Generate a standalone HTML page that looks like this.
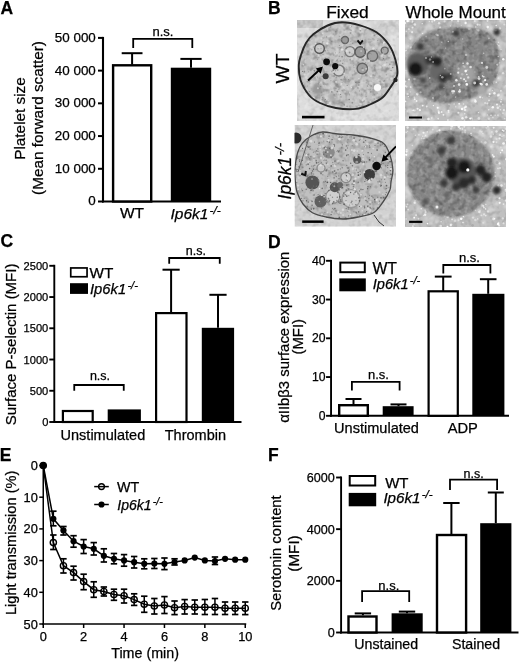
<!DOCTYPE html>
<html><head><meta charset="utf-8"><style>
html,body{margin:0;padding:0;background:#fff;}
svg{display:block;filter:grayscale(1) blur(0.3px);}
text{font-family:"Liberation Sans", sans-serif;fill:#000;stroke:#000;stroke-width:0.25px;}
</style></head><body>
<svg width="520" height="664" viewBox="0 0 520 664">
<rect width="520" height="664" fill="#fff"/>
<text x="0.6" y="14" font-size="17.5" text-anchor="start" font-weight="bold" font-style="normal" >A</text>
<line x1="103" y1="36.9" x2="103" y2="202.5" stroke="#000" stroke-width="2.1"/>
<line x1="98" y1="201.5" x2="103" y2="201.5" stroke="#000" stroke-width="2"/>
<text x="95.8" y="205.4" font-size="13.4" text-anchor="end" font-weight="normal" font-style="normal" >0</text>
<line x1="98" y1="168.78" x2="103" y2="168.78" stroke="#000" stroke-width="2"/>
<text x="95.8" y="172.68" font-size="13.4" text-anchor="end" font-weight="normal" font-style="normal" >10 000</text>
<line x1="98" y1="136.06" x2="103" y2="136.06" stroke="#000" stroke-width="2"/>
<text x="95.8" y="139.96" font-size="13.4" text-anchor="end" font-weight="normal" font-style="normal" >20 000</text>
<line x1="98" y1="103.34" x2="103" y2="103.34" stroke="#000" stroke-width="2"/>
<text x="95.8" y="107.24000000000001" font-size="13.4" text-anchor="end" font-weight="normal" font-style="normal" >30 000</text>
<line x1="98" y1="70.62" x2="103" y2="70.62" stroke="#000" stroke-width="2"/>
<text x="95.8" y="74.52000000000001" font-size="13.4" text-anchor="end" font-weight="normal" font-style="normal" >40 000</text>
<line x1="98" y1="37.900000000000006" x2="103" y2="37.900000000000006" stroke="#000" stroke-width="2"/>
<text x="95.8" y="41.800000000000004" font-size="13.4" text-anchor="end" font-weight="normal" font-style="normal" >50 000</text>
<line x1="102" y1="201.5" x2="221" y2="201.5" stroke="#000" stroke-width="2"/>
<rect x="113.10000000000001" y="65.3" width="38.1" height="136.20000000000002" fill="#fff" stroke="#000" stroke-width="2.4"/>
<rect x="170.8" y="67.7" width="40.39999999999998" height="133.8" fill="#000"/>
<line x1="132.1" y1="53.2" x2="132.1" y2="64.7" stroke="#000" stroke-width="2"/>
<line x1="121.69999999999999" y1="53.2" x2="142.5" y2="53.2" stroke="#000" stroke-width="2"/>
<line x1="191" y1="58.9" x2="191" y2="67.7" stroke="#000" stroke-width="2"/>
<line x1="180.4" y1="58.9" x2="201.6" y2="58.9" stroke="#000" stroke-width="2"/>
<polyline points="133.2,48 133.2,38.85 192.3,38.85 192.3,48" fill="none" stroke="#000" stroke-width="1.8"/>
<text x="163" y="35.8" font-size="13" text-anchor="middle" font-weight="normal" font-style="normal" >n.s.</text>
<text x="132" y="218" font-size="15.5" text-anchor="middle" font-weight="normal" font-style="normal" >WT</text>
<text x="170.5" y="219.3" font-size="15.5" text-anchor="start" font-weight="normal" font-style="normal" ><tspan font-style="italic">Ip6k1</tspan><tspan font-style="italic" font-size="11.8" dy="-5.7" dx="1.2">-/-</tspan></text>
<text x="0" y="0" font-size="15.3" text-anchor="middle" transform="translate(25.3,118.5) rotate(-90)" >Platelet size</text>
<text x="0" y="0" font-size="15.3" text-anchor="middle" transform="translate(42.5,118) rotate(-90)" >(Mean forward scatter)</text>
<text x="268" y="14" font-size="17.5" text-anchor="start" font-weight="bold" font-style="normal" >B</text>
<text x="347.5" y="18" font-size="17.4" text-anchor="middle" font-weight="normal" font-style="normal" >Fixed</text>
<text x="455.7" y="18" font-size="17" text-anchor="middle" font-weight="normal" font-style="normal" >Whole Mount</text>
<text x="0" y="0" font-size="18.2" text-anchor="middle" transform="translate(289.2,68.5) rotate(-90)"  textLength="29.8" lengthAdjust="spacingAndGlyphs">WT</text>
<text x="0" y="0" font-size="17.5" text-anchor="middle" transform="translate(290.8,171.2) rotate(-90)"><tspan font-style="italic">Ip6k1</tspan><tspan font-style="italic" font-size="13.3" dy="-6.5" dx="1.2">-/-</tspan></text>
<defs><filter id="nDarkFine" x="0" y="0" width="100%" height="100%" color-interpolation-filters="sRGB">
 <feTurbulence type="fractalNoise" baseFrequency="0.5" numOctaves="1" seed="3"/>
 <feColorMatrix type="matrix" values="0 0 0 0 0  0 0 0 0 0  0 0 0 0 0  3.2 0 0 0 -1.55"/><feGaussianBlur stdDeviation="0.45"/>
</filter>
<filter id="nLightFine" x="0" y="0" width="100%" height="100%" color-interpolation-filters="sRGB">
 <feTurbulence type="fractalNoise" baseFrequency="0.45" numOctaves="1" seed="9"/>
 <feColorMatrix type="matrix" values="0 0 0 0 1  0 0 0 0 1  0 0 0 0 1  3.2 0 0 0 -1.6"/><feGaussianBlur stdDeviation="0.45"/>
</filter>
<filter id="nDarkMid" x="0" y="0" width="100%" height="100%" color-interpolation-filters="sRGB">
 <feTurbulence type="fractalNoise" baseFrequency="0.18" numOctaves="2" seed="5"/>
 <feColorMatrix type="matrix" values="0 0 0 0 0  0 0 0 0 0  0 0 0 0 0  2.5 0 0 0 -1.15"/>
</filter>
<filter id="nLightMid" x="0" y="0" width="100%" height="100%" color-interpolation-filters="sRGB">
 <feTurbulence type="fractalNoise" baseFrequency="0.2" numOctaves="2" seed="13"/>
 <feColorMatrix type="matrix" values="0 0 0 0 1  0 0 0 0 1  0 0 0 0 1  2.5 0 0 0 -1.15"/>
</filter>
<filter id="nWhiteSpeck" x="0" y="0" width="100%" height="100%" color-interpolation-filters="sRGB">
 <feTurbulence type="fractalNoise" baseFrequency="0.32" numOctaves="1" seed="21"/>
 <feColorMatrix type="matrix" values="0 0 0 0 1  0 0 0 0 1  0 0 0 0 1  5 0 0 0 -2.75"/><feGaussianBlur stdDeviation="0.4"/>
</filter>
<filter id="nGraySpeck" x="0" y="0" width="100%" height="100%" color-interpolation-filters="sRGB">
 <feTurbulence type="fractalNoise" baseFrequency="0.25" numOctaves="2" seed="17"/>
 <feColorMatrix type="matrix" values="0 0 0 0 0  0 0 0 0 0  0 0 0 0 0  3 0 0 0 -1.45"/><feGaussianBlur stdDeviation="0.4"/>
</filter>
<filter id="bl1"><feGaussianBlur stdDeviation="1"/></filter>
<filter id="bl15"><feGaussianBlur stdDeviation="1.5"/></filter>
<filter id="bl2"><feGaussianBlur stdDeviation="2"/></filter>
<filter id="bl3"><feGaussianBlur stdDeviation="3"/></filter>
<filter id="bl05"><feGaussianBlur stdDeviation="0.6"/></filter>
</defs>
<clipPath id="ci1"><rect x="297" y="20" width="102" height="101"/></clipPath>
<clipPath id="cc1"><path d="M341.9,22.3 C347.3,22.3 354.2,23.6 360.0,25.3 C365.8,27.0 371.7,29.0 376.5,32.3 C381.3,35.6 385.8,40.4 389.0,45.0 C392.2,49.6 394.1,55.0 395.5,60.0 C396.9,65.0 398.1,70.3 397.2,75.0 C396.3,79.7 392.4,84.2 390.0,88.0 C387.6,91.8 385.9,94.8 382.6,97.5 C379.3,100.2 374.4,102.6 370.0,104.5 C365.6,106.4 361.8,108.3 356.1,108.9 C350.4,109.5 341.8,109.0 335.8,108.0 C329.8,107.0 324.4,105.1 320.0,103.0 C315.6,100.9 312.6,99.3 309.3,95.5 C306.1,91.7 302.2,85.1 300.5,80.0 C298.8,74.9 298.7,69.2 298.8,65.0 C298.9,60.8 299.9,58.4 301.1,54.7 C302.3,51.0 304.0,46.4 306.0,43.0 C308.0,39.6 309.7,37.2 313.3,34.3 C316.9,31.4 322.8,27.5 327.6,25.5 C332.4,23.5 336.5,22.3 341.9,22.3 Z"/></clipPath>
<g clip-path="url(#ci1)">
<rect x="297" y="20" width="102" height="101" fill="#dcdcdc"/>
<rect x="297" y="20" width="26" height="8" fill="#c2c2c2"/>
<rect x="372" y="20" width="27" height="14" fill="#d0d0d0" filter="url(#bl2)"/>
<rect x="297" y="20" width="102" height="101" filter="url(#nDarkMid)" opacity="0.12"/>
<rect x="297" y="20" width="102" height="101" filter="url(#nLightMid)" opacity="0.3"/>
<path d="M341.9,22.3 C347.3,22.3 354.2,23.6 360.0,25.3 C365.8,27.0 371.7,29.0 376.5,32.3 C381.3,35.6 385.8,40.4 389.0,45.0 C392.2,49.6 394.1,55.0 395.5,60.0 C396.9,65.0 398.1,70.3 397.2,75.0 C396.3,79.7 392.4,84.2 390.0,88.0 C387.6,91.8 385.9,94.8 382.6,97.5 C379.3,100.2 374.4,102.6 370.0,104.5 C365.6,106.4 361.8,108.3 356.1,108.9 C350.4,109.5 341.8,109.0 335.8,108.0 C329.8,107.0 324.4,105.1 320.0,103.0 C315.6,100.9 312.6,99.3 309.3,95.5 C306.1,91.7 302.2,85.1 300.5,80.0 C298.8,74.9 298.7,69.2 298.8,65.0 C298.9,60.8 299.9,58.4 301.1,54.7 C302.3,51.0 304.0,46.4 306.0,43.0 C308.0,39.6 309.7,37.2 313.3,34.3 C316.9,31.4 322.8,27.5 327.6,25.5 C332.4,23.5 336.5,22.3 341.9,22.3 Z" fill="#c2c2c2"/>
<g clip-path="url(#cc1)">
<rect x="297" y="20" width="102" height="101" filter="url(#nDarkMid)" opacity="0.3"/>
<rect x="297" y="20" width="102" height="101" filter="url(#nLightMid)" opacity="0.35"/>
<circle cx="319.5" cy="48.6" r="4.8" fill="#c8c8c8" stroke="#555" stroke-width="1.4" filter="url(#bl05)"/>
<circle cx="350" cy="51.6" r="5" fill="#cdcdcd" stroke="#7a7a7a" stroke-width="1.4" filter="url(#bl05)"/>
<circle cx="360.2" cy="52" r="5.2" fill="#9a9a9a" stroke="#5a5a5a" stroke-width="1.4" filter="url(#bl05)"/>
<circle cx="372.5" cy="56" r="5.2" fill="#a2a2a2" stroke="#666" stroke-width="1.4" filter="url(#bl05)"/>
<circle cx="362.3" cy="68.5" r="5.2" fill="#9e9e9e" stroke="#666" stroke-width="1.4" filter="url(#bl05)"/>
<circle cx="338.8" cy="70.5" r="5.5" fill="#cfcfcf" stroke="#7a7a7a" stroke-width="1.4" filter="url(#bl05)"/>
<circle cx="384.7" cy="50.6" r="3.5" fill="#a8a8a8" stroke="#666" stroke-width="1.4" filter="url(#bl05)"/>
<circle cx="345" cy="40" r="3.5" fill="#9a9a9a" stroke="#666" stroke-width="1.4" filter="url(#bl05)"/>
<circle cx="317.4" cy="89.3" r="5.5" fill="#999" filter="url(#bl15)"/>
<circle cx="333" cy="97" r="4" fill="#aaa" filter="url(#bl15)"/>
<g filter="url(#bl05)"><circle cx="310.7" cy="105.6" r="0.81" fill="#888" fill-opacity="0.46"/><circle cx="374.6" cy="67.7" r="0.65" fill="#777" fill-opacity="0.45"/><circle cx="299.9" cy="104.4" r="0.67" fill="#777" fill-opacity="0.75"/><circle cx="324.2" cy="101.0" r="0.74" fill="#777" fill-opacity="0.85"/><circle cx="300.1" cy="22.6" r="0.72" fill="#888" fill-opacity="0.74"/><circle cx="395.8" cy="93.3" r="0.71" fill="#888" fill-opacity="0.87"/><circle cx="353.4" cy="54.9" r="0.77" fill="#888" fill-opacity="0.88"/><circle cx="391.5" cy="62.0" r="0.87" fill="#999" fill-opacity="0.45"/><circle cx="361.2" cy="93.1" r="0.62" fill="#999" fill-opacity="0.57"/><circle cx="370.6" cy="91.8" r="0.87" fill="#888" fill-opacity="0.65"/><circle cx="389.8" cy="39.2" r="0.61" fill="#888" fill-opacity="0.82"/><circle cx="348.5" cy="79.5" r="0.51" fill="#777" fill-opacity="0.77"/><circle cx="338.2" cy="87.1" r="0.65" fill="#999" fill-opacity="0.79"/><circle cx="372.3" cy="28.7" r="0.77" fill="#777" fill-opacity="0.79"/><circle cx="350.1" cy="59.7" r="0.70" fill="#777" fill-opacity="0.63"/><circle cx="328.5" cy="105.7" r="0.75" fill="#999" fill-opacity="0.60"/><circle cx="314.4" cy="70.7" r="0.89" fill="#777" fill-opacity="0.67"/><circle cx="384.7" cy="43.4" r="0.71" fill="#999" fill-opacity="0.58"/><circle cx="389.8" cy="86.6" r="0.74" fill="#999" fill-opacity="0.40"/><circle cx="376.9" cy="102.9" r="0.85" fill="#999" fill-opacity="0.66"/><circle cx="310.2" cy="98.5" r="0.58" fill="#777" fill-opacity="0.64"/><circle cx="334.2" cy="76.0" r="0.88" fill="#888" fill-opacity="0.64"/><circle cx="333.4" cy="55.0" r="0.72" fill="#999" fill-opacity="0.79"/><circle cx="330.8" cy="80.6" r="0.82" fill="#999" fill-opacity="0.49"/><circle cx="356.6" cy="107.0" r="0.82" fill="#888" fill-opacity="0.42"/><circle cx="393.2" cy="27.1" r="0.85" fill="#888" fill-opacity="0.41"/><circle cx="374.1" cy="45.2" r="0.54" fill="#999" fill-opacity="0.49"/><circle cx="326.6" cy="36.9" r="0.60" fill="#777" fill-opacity="0.73"/><circle cx="363.1" cy="49.7" r="0.78" fill="#888" fill-opacity="0.64"/><circle cx="299.4" cy="59.0" r="0.67" fill="#777" fill-opacity="0.53"/><circle cx="322.9" cy="93.7" r="0.89" fill="#999" fill-opacity="0.62"/><circle cx="396.5" cy="42.8" r="0.66" fill="#777" fill-opacity="0.76"/><circle cx="313.3" cy="91.2" r="0.77" fill="#999" fill-opacity="0.82"/><circle cx="396.7" cy="83.7" r="0.78" fill="#888" fill-opacity="0.51"/><circle cx="363.1" cy="59.9" r="0.73" fill="#888" fill-opacity="0.73"/><circle cx="340.5" cy="94.5" r="0.55" fill="#777" fill-opacity="0.84"/><circle cx="328.3" cy="106.7" r="0.62" fill="#888" fill-opacity="0.77"/><circle cx="339.4" cy="45.5" r="0.50" fill="#777" fill-opacity="0.70"/><circle cx="319.2" cy="111.0" r="0.68" fill="#999" fill-opacity="0.71"/><circle cx="300.8" cy="40.2" r="0.54" fill="#999" fill-opacity="0.74"/><circle cx="341.2" cy="39.6" r="0.54" fill="#999" fill-opacity="0.60"/><circle cx="348.4" cy="21.7" r="0.74" fill="#888" fill-opacity="0.85"/><circle cx="298.8" cy="40.3" r="0.63" fill="#999" fill-opacity="0.79"/><circle cx="331.6" cy="41.5" r="0.77" fill="#888" fill-opacity="0.87"/><circle cx="332.1" cy="109.1" r="0.77" fill="#888" fill-opacity="0.78"/><circle cx="351.3" cy="26.6" r="0.52" fill="#777" fill-opacity="0.48"/><circle cx="389.9" cy="41.5" r="0.80" fill="#999" fill-opacity="0.65"/><circle cx="323.0" cy="54.2" r="0.55" fill="#777" fill-opacity="0.83"/><circle cx="358.6" cy="116.4" r="0.85" fill="#777" fill-opacity="0.69"/><circle cx="375.6" cy="52.4" r="0.66" fill="#888" fill-opacity="0.83"/><circle cx="377.4" cy="103.7" r="0.64" fill="#999" fill-opacity="0.69"/><circle cx="391.5" cy="27.7" r="0.72" fill="#999" fill-opacity="0.44"/><circle cx="324.2" cy="110.0" r="0.73" fill="#777" fill-opacity="0.63"/><circle cx="325.3" cy="99.5" r="0.83" fill="#777" fill-opacity="0.71"/><circle cx="298.5" cy="61.8" r="0.83" fill="#777" fill-opacity="0.49"/><circle cx="377.1" cy="79.3" r="0.56" fill="#888" fill-opacity="0.48"/><circle cx="321.6" cy="95.1" r="0.54" fill="#888" fill-opacity="0.80"/><circle cx="352.4" cy="102.7" r="0.72" fill="#999" fill-opacity="0.64"/><circle cx="307.2" cy="85.9" r="0.52" fill="#777" fill-opacity="0.79"/><circle cx="391.4" cy="93.4" r="0.63" fill="#888" fill-opacity="0.56"/><circle cx="303.4" cy="112.3" r="0.89" fill="#888" fill-opacity="0.46"/><circle cx="318.9" cy="82.4" r="0.89" fill="#999" fill-opacity="0.83"/><circle cx="344.8" cy="55.9" r="0.57" fill="#777" fill-opacity="0.55"/><circle cx="322.1" cy="28.2" r="0.61" fill="#888" fill-opacity="0.45"/><circle cx="355.6" cy="54.2" r="0.59" fill="#888" fill-opacity="0.42"/><circle cx="316.1" cy="100.1" r="0.73" fill="#888" fill-opacity="0.52"/><circle cx="307.3" cy="81.8" r="0.82" fill="#777" fill-opacity="0.52"/><circle cx="299.1" cy="44.6" r="0.53" fill="#999" fill-opacity="0.83"/><circle cx="371.4" cy="22.2" r="0.50" fill="#888" fill-opacity="0.65"/><circle cx="385.0" cy="35.6" r="0.70" fill="#888" fill-opacity="0.44"/><circle cx="393.8" cy="37.5" r="0.81" fill="#777" fill-opacity="0.81"/><circle cx="329.6" cy="30.8" r="0.71" fill="#999" fill-opacity="0.55"/><circle cx="388.2" cy="34.3" r="0.86" fill="#777" fill-opacity="0.79"/><circle cx="380.7" cy="83.0" r="0.77" fill="#999" fill-opacity="0.82"/><circle cx="373.1" cy="89.6" r="0.57" fill="#888" fill-opacity="0.67"/><circle cx="302.0" cy="107.1" r="0.60" fill="#777" fill-opacity="0.74"/><circle cx="342.6" cy="63.4" r="0.60" fill="#888" fill-opacity="0.83"/><circle cx="343.2" cy="60.0" r="0.64" fill="#888" fill-opacity="0.64"/><circle cx="377.9" cy="114.2" r="0.89" fill="#777" fill-opacity="0.43"/><circle cx="333.2" cy="34.0" r="0.55" fill="#888" fill-opacity="0.89"/><circle cx="325.2" cy="77.0" r="0.57" fill="#777" fill-opacity="0.52"/><circle cx="297.8" cy="73.4" r="0.70" fill="#999" fill-opacity="0.86"/><circle cx="391.9" cy="84.6" r="0.59" fill="#888" fill-opacity="0.65"/><circle cx="345.8" cy="42.7" r="0.66" fill="#999" fill-opacity="0.71"/><circle cx="371.3" cy="86.0" r="0.89" fill="#777" fill-opacity="0.42"/><circle cx="304.3" cy="71.7" r="0.85" fill="#777" fill-opacity="0.66"/><circle cx="377.8" cy="40.6" r="0.62" fill="#888" fill-opacity="0.82"/><circle cx="334.9" cy="90.8" r="0.79" fill="#999" fill-opacity="0.44"/><circle cx="309.6" cy="81.2" r="0.71" fill="#888" fill-opacity="0.49"/><circle cx="322.6" cy="42.0" r="0.73" fill="#777" fill-opacity="0.65"/><circle cx="337.1" cy="84.3" r="0.65" fill="#777" fill-opacity="0.67"/><circle cx="398.4" cy="72.9" r="0.54" fill="#888" fill-opacity="0.71"/><circle cx="324.3" cy="112.2" r="0.88" fill="#777" fill-opacity="0.88"/><circle cx="359.9" cy="117.6" r="0.77" fill="#777" fill-opacity="0.62"/><circle cx="391.3" cy="118.1" r="0.65" fill="#888" fill-opacity="0.60"/><circle cx="389.8" cy="64.3" r="0.75" fill="#888" fill-opacity="0.88"/><circle cx="309.2" cy="80.7" r="0.66" fill="#777" fill-opacity="0.73"/><circle cx="325.3" cy="58.3" r="0.72" fill="#777" fill-opacity="0.66"/><circle cx="356.1" cy="23.1" r="0.89" fill="#777" fill-opacity="0.82"/><circle cx="318.1" cy="48.8" r="0.72" fill="#888" fill-opacity="0.56"/><circle cx="374.3" cy="104.1" r="0.68" fill="#777" fill-opacity="0.67"/><circle cx="347.1" cy="106.4" r="0.81" fill="#999" fill-opacity="0.84"/><circle cx="317.9" cy="101.9" r="0.86" fill="#777" fill-opacity="0.46"/><circle cx="373.2" cy="75.1" r="0.89" fill="#999" fill-opacity="0.89"/><circle cx="310.9" cy="70.5" r="0.73" fill="#888" fill-opacity="0.62"/><circle cx="366.1" cy="96.6" r="0.63" fill="#777" fill-opacity="0.62"/><circle cx="342.9" cy="50.8" r="0.66" fill="#999" fill-opacity="0.74"/><circle cx="347.2" cy="85.4" r="0.65" fill="#777" fill-opacity="0.68"/><circle cx="398.5" cy="84.2" r="0.79" fill="#999" fill-opacity="0.81"/><circle cx="349.1" cy="119.7" r="0.68" fill="#999" fill-opacity="0.60"/><circle cx="373.0" cy="119.7" r="0.62" fill="#777" fill-opacity="0.62"/><circle cx="365.2" cy="39.9" r="0.71" fill="#999" fill-opacity="0.59"/><circle cx="340.4" cy="60.9" r="0.84" fill="#999" fill-opacity="0.89"/><circle cx="368.3" cy="117.7" r="0.53" fill="#999" fill-opacity="0.52"/><circle cx="395.6" cy="49.4" r="0.51" fill="#999" fill-opacity="0.71"/><circle cx="361.6" cy="114.6" r="0.81" fill="#777" fill-opacity="0.78"/><circle cx="380.2" cy="81.2" r="0.64" fill="#888" fill-opacity="0.80"/><circle cx="338.9" cy="89.2" r="0.62" fill="#888" fill-opacity="0.82"/><circle cx="346.4" cy="67.2" r="0.52" fill="#999" fill-opacity="0.45"/><circle cx="357.2" cy="27.0" r="0.53" fill="#888" fill-opacity="0.41"/><circle cx="348.7" cy="115.6" r="0.78" fill="#888" fill-opacity="0.72"/><circle cx="325.1" cy="50.7" r="0.71" fill="#777" fill-opacity="0.84"/><circle cx="324.4" cy="27.6" r="0.83" fill="#999" fill-opacity="0.73"/><circle cx="344.7" cy="76.3" r="0.52" fill="#888" fill-opacity="0.73"/><circle cx="369.8" cy="102.3" r="0.61" fill="#999" fill-opacity="0.77"/><circle cx="337.0" cy="60.4" r="0.69" fill="#888" fill-opacity="0.83"/><circle cx="330.6" cy="42.5" r="0.89" fill="#999" fill-opacity="0.52"/><circle cx="364.4" cy="106.0" r="0.85" fill="#888" fill-opacity="0.56"/><circle cx="341.0" cy="96.9" r="0.81" fill="#777" fill-opacity="0.44"/><circle cx="371.7" cy="108.0" r="0.73" fill="#999" fill-opacity="0.86"/><circle cx="371.3" cy="81.2" r="0.60" fill="#999" fill-opacity="0.48"/><circle cx="376.4" cy="110.3" r="0.68" fill="#888" fill-opacity="0.78"/><circle cx="321.5" cy="92.5" r="0.79" fill="#888" fill-opacity="0.43"/><circle cx="320.2" cy="52.5" r="0.87" fill="#777" fill-opacity="0.42"/><circle cx="379.6" cy="22.4" r="0.80" fill="#999" fill-opacity="0.42"/><circle cx="368.8" cy="102.3" r="0.89" fill="#999" fill-opacity="0.62"/><circle cx="364.6" cy="47.7" r="0.75" fill="#777" fill-opacity="0.45"/><circle cx="337.8" cy="70.0" r="0.65" fill="#777" fill-opacity="0.89"/><circle cx="321.0" cy="48.6" r="0.72" fill="#888" fill-opacity="0.51"/><circle cx="369.9" cy="53.3" r="0.74" fill="#777" fill-opacity="0.90"/><circle cx="301.7" cy="100.5" r="0.84" fill="#888" fill-opacity="0.84"/><circle cx="383.5" cy="49.0" r="0.58" fill="#777" fill-opacity="0.84"/><circle cx="374.4" cy="35.4" r="0.87" fill="#777" fill-opacity="0.59"/><circle cx="386.4" cy="74.8" r="0.73" fill="#888" fill-opacity="0.46"/><circle cx="344.2" cy="104.8" r="0.86" fill="#777" fill-opacity="0.67"/><circle cx="350.5" cy="33.0" r="0.87" fill="#777" fill-opacity="0.62"/><circle cx="316.4" cy="70.5" r="0.55" fill="#888" fill-opacity="0.74"/><circle cx="383.3" cy="87.0" r="0.66" fill="#999" fill-opacity="0.53"/><circle cx="323.5" cy="84.2" r="0.60" fill="#999" fill-opacity="0.87"/><circle cx="357.2" cy="55.3" r="0.74" fill="#999" fill-opacity="0.72"/><circle cx="395.9" cy="111.4" r="0.72" fill="#999" fill-opacity="0.50"/><circle cx="386.8" cy="62.8" r="0.76" fill="#999" fill-opacity="0.53"/><circle cx="359.3" cy="118.2" r="0.53" fill="#777" fill-opacity="0.89"/><circle cx="312.4" cy="112.8" r="0.84" fill="#777" fill-opacity="0.43"/><circle cx="306.3" cy="102.1" r="0.69" fill="#888" fill-opacity="0.45"/><circle cx="328.9" cy="32.8" r="0.51" fill="#999" fill-opacity="0.46"/><circle cx="337.3" cy="91.5" r="0.85" fill="#777" fill-opacity="0.77"/><circle cx="324.5" cy="45.3" r="0.63" fill="#888" fill-opacity="0.42"/><circle cx="336.2" cy="94.0" r="0.63" fill="#777" fill-opacity="0.53"/><circle cx="335.8" cy="31.8" r="0.77" fill="#777" fill-opacity="0.61"/><circle cx="322.0" cy="76.3" r="0.63" fill="#888" fill-opacity="0.65"/><circle cx="336.9" cy="110.5" r="0.69" fill="#777" fill-opacity="0.73"/><circle cx="342.8" cy="119.8" r="0.79" fill="#999" fill-opacity="0.75"/><circle cx="351.6" cy="110.6" r="0.83" fill="#888" fill-opacity="0.77"/><circle cx="317.4" cy="59.3" r="0.63" fill="#888" fill-opacity="0.57"/><circle cx="355.6" cy="24.4" r="0.83" fill="#999" fill-opacity="0.67"/><circle cx="339.6" cy="52.2" r="0.61" fill="#999" fill-opacity="0.77"/><circle cx="348.1" cy="73.1" r="0.56" fill="#999" fill-opacity="0.56"/><circle cx="330.4" cy="27.0" r="0.89" fill="#888" fill-opacity="0.63"/><circle cx="334.1" cy="94.9" r="0.65" fill="#777" fill-opacity="0.86"/><circle cx="378.7" cy="33.6" r="0.71" fill="#999" fill-opacity="0.83"/><circle cx="322.7" cy="44.8" r="0.73" fill="#888" fill-opacity="0.58"/><circle cx="393.1" cy="85.0" r="0.66" fill="#888" fill-opacity="0.70"/><circle cx="331.7" cy="71.3" r="0.51" fill="#888" fill-opacity="0.74"/><circle cx="354.4" cy="111.6" r="0.57" fill="#888" fill-opacity="0.87"/><circle cx="360.2" cy="102.0" r="0.89" fill="#999" fill-opacity="0.53"/><circle cx="307.9" cy="46.4" r="0.75" fill="#999" fill-opacity="0.72"/><circle cx="384.2" cy="100.2" r="0.59" fill="#777" fill-opacity="0.66"/><circle cx="341.1" cy="79.6" r="0.86" fill="#888" fill-opacity="0.76"/><circle cx="325.9" cy="110.0" r="0.74" fill="#777" fill-opacity="0.61"/><circle cx="365.9" cy="75.0" r="0.88" fill="#888" fill-opacity="0.76"/><circle cx="380.0" cy="120.8" r="0.60" fill="#777" fill-opacity="0.40"/><circle cx="351.3" cy="58.5" r="0.85" fill="#777" fill-opacity="0.60"/><circle cx="387.0" cy="100.4" r="0.73" fill="#777" fill-opacity="0.58"/><circle cx="397.8" cy="20.6" r="0.88" fill="#999" fill-opacity="0.75"/><circle cx="297.6" cy="32.1" r="0.62" fill="#999" fill-opacity="0.56"/><circle cx="376.2" cy="85.1" r="0.90" fill="#888" fill-opacity="0.66"/><circle cx="352.3" cy="102.7" r="0.88" fill="#888" fill-opacity="0.70"/><circle cx="356.3" cy="65.7" r="0.55" fill="#888" fill-opacity="0.69"/><circle cx="353.1" cy="118.6" r="0.57" fill="#999" fill-opacity="0.40"/><circle cx="340.3" cy="86.8" r="0.51" fill="#888" fill-opacity="0.60"/><circle cx="392.5" cy="110.4" r="0.77" fill="#777" fill-opacity="0.86"/><circle cx="383.3" cy="58.7" r="0.69" fill="#888" fill-opacity="0.72"/><circle cx="383.9" cy="97.6" r="0.66" fill="#777" fill-opacity="0.64"/><circle cx="311.8" cy="35.0" r="0.90" fill="#888" fill-opacity="0.58"/><circle cx="310.0" cy="99.4" r="0.88" fill="#888" fill-opacity="0.53"/><circle cx="349.4" cy="94.7" r="0.78" fill="#888" fill-opacity="0.57"/><circle cx="390.2" cy="41.8" r="0.83" fill="#888" fill-opacity="0.76"/><circle cx="306.3" cy="33.1" r="0.89" fill="#777" fill-opacity="0.77"/><circle cx="307.5" cy="35.7" r="0.81" fill="#777" fill-opacity="0.60"/><circle cx="370.8" cy="104.3" r="0.54" fill="#999" fill-opacity="0.88"/><circle cx="302.2" cy="42.0" r="0.67" fill="#777" fill-opacity="0.87"/><circle cx="395.9" cy="30.4" r="0.72" fill="#888" fill-opacity="0.82"/><circle cx="372.6" cy="120.5" r="0.77" fill="#777" fill-opacity="0.64"/><circle cx="377.9" cy="106.6" r="0.81" fill="#999" fill-opacity="0.72"/><circle cx="385.4" cy="32.5" r="0.68" fill="#999" fill-opacity="0.65"/><circle cx="389.3" cy="31.7" r="0.84" fill="#777" fill-opacity="0.47"/><circle cx="359.6" cy="90.9" r="0.57" fill="#888" fill-opacity="0.61"/><circle cx="387.6" cy="120.2" r="0.62" fill="#888" fill-opacity="0.72"/><circle cx="379.6" cy="112.2" r="0.82" fill="#999" fill-opacity="0.57"/><circle cx="346.6" cy="20.9" r="0.90" fill="#999" fill-opacity="0.57"/><circle cx="387.3" cy="91.6" r="0.52" fill="#999" fill-opacity="0.62"/><circle cx="374.5" cy="105.1" r="0.59" fill="#888" fill-opacity="0.54"/><circle cx="322.1" cy="35.0" r="0.60" fill="#888" fill-opacity="0.68"/><circle cx="358.0" cy="117.0" r="0.71" fill="#999" fill-opacity="0.65"/><circle cx="393.5" cy="47.3" r="0.69" fill="#888" fill-opacity="0.53"/><circle cx="318.9" cy="57.1" r="0.69" fill="#888" fill-opacity="0.49"/><circle cx="374.4" cy="94.7" r="0.73" fill="#888" fill-opacity="0.67"/><circle cx="302.9" cy="52.9" r="0.78" fill="#999" fill-opacity="0.78"/><circle cx="397.9" cy="41.5" r="0.75" fill="#888" fill-opacity="0.57"/><circle cx="310.0" cy="34.2" r="0.60" fill="#777" fill-opacity="0.72"/><circle cx="381.6" cy="25.1" r="0.57" fill="#777" fill-opacity="0.51"/><circle cx="317.3" cy="77.3" r="0.85" fill="#888" fill-opacity="0.56"/><circle cx="375.9" cy="103.0" r="0.83" fill="#777" fill-opacity="0.44"/><circle cx="319.9" cy="88.7" r="0.89" fill="#888" fill-opacity="0.53"/><circle cx="370.3" cy="58.3" r="0.55" fill="#888" fill-opacity="0.47"/><circle cx="322.6" cy="97.8" r="0.77" fill="#777" fill-opacity="0.57"/><circle cx="306.4" cy="120.9" r="0.62" fill="#777" fill-opacity="0.53"/><circle cx="302.1" cy="23.1" r="0.56" fill="#888" fill-opacity="0.59"/><circle cx="370.4" cy="89.8" r="0.54" fill="#888" fill-opacity="0.54"/><circle cx="349.6" cy="52.5" r="0.88" fill="#888" fill-opacity="0.86"/><circle cx="377.7" cy="93.1" r="0.55" fill="#888" fill-opacity="0.60"/><circle cx="366.3" cy="82.7" r="0.71" fill="#999" fill-opacity="0.61"/><circle cx="392.3" cy="50.4" r="0.59" fill="#888" fill-opacity="0.67"/><circle cx="302.5" cy="71.4" r="0.57" fill="#777" fill-opacity="0.85"/><circle cx="325.0" cy="22.0" r="0.72" fill="#999" fill-opacity="0.53"/><circle cx="309.9" cy="91.6" r="0.80" fill="#777" fill-opacity="0.73"/><circle cx="352.5" cy="75.0" r="0.84" fill="#999" fill-opacity="0.65"/><circle cx="356.2" cy="82.5" r="0.68" fill="#777" fill-opacity="0.48"/><circle cx="390.2" cy="34.3" r="0.85" fill="#777" fill-opacity="0.64"/><circle cx="378.7" cy="97.5" r="0.65" fill="#888" fill-opacity="0.48"/><circle cx="383.6" cy="58.6" r="0.68" fill="#777" fill-opacity="0.89"/><circle cx="311.8" cy="49.8" r="0.77" fill="#999" fill-opacity="0.70"/><circle cx="297.8" cy="116.2" r="0.87" fill="#999" fill-opacity="0.47"/><circle cx="373.2" cy="115.2" r="0.54" fill="#777" fill-opacity="0.79"/><circle cx="358.1" cy="62.7" r="0.87" fill="#888" fill-opacity="0.60"/><circle cx="344.1" cy="30.0" r="0.81" fill="#999" fill-opacity="0.75"/><circle cx="297.1" cy="24.2" r="0.54" fill="#777" fill-opacity="0.67"/><circle cx="374.8" cy="75.7" r="0.81" fill="#999" fill-opacity="0.85"/><circle cx="363.8" cy="101.0" r="0.83" fill="#777" fill-opacity="0.86"/><circle cx="360.4" cy="30.7" r="0.88" fill="#777" fill-opacity="0.46"/><circle cx="301.1" cy="91.1" r="0.67" fill="#999" fill-opacity="0.57"/><circle cx="364.1" cy="120.6" r="0.81" fill="#777" fill-opacity="0.71"/><circle cx="339.3" cy="56.2" r="0.80" fill="#888" fill-opacity="0.62"/><circle cx="368.3" cy="84.1" r="0.71" fill="#777" fill-opacity="0.57"/><circle cx="308.6" cy="71.8" r="0.72" fill="#999" fill-opacity="0.64"/><circle cx="331.8" cy="91.8" r="0.89" fill="#777" fill-opacity="0.64"/><circle cx="318.3" cy="83.8" r="0.88" fill="#888" fill-opacity="0.76"/><circle cx="307.2" cy="53.9" r="0.89" fill="#999" fill-opacity="0.52"/><circle cx="366.0" cy="95.0" r="0.65" fill="#999" fill-opacity="0.79"/><circle cx="370.8" cy="39.6" r="0.68" fill="#999" fill-opacity="0.46"/><circle cx="346.8" cy="46.9" r="0.55" fill="#777" fill-opacity="0.59"/><circle cx="308.1" cy="22.6" r="0.53" fill="#777" fill-opacity="0.63"/><circle cx="335.5" cy="70.7" r="0.83" fill="#777" fill-opacity="0.48"/><circle cx="350.5" cy="30.7" r="0.60" fill="#888" fill-opacity="0.60"/><circle cx="361.6" cy="94.3" r="0.87" fill="#999" fill-opacity="0.75"/><circle cx="398.1" cy="75.0" r="0.60" fill="#888" fill-opacity="0.85"/><circle cx="364.6" cy="54.6" r="0.60" fill="#999" fill-opacity="0.87"/><circle cx="395.0" cy="37.7" r="0.73" fill="#999" fill-opacity="0.51"/><circle cx="321.0" cy="24.1" r="0.71" fill="#777" fill-opacity="0.75"/><circle cx="367.4" cy="86.0" r="0.71" fill="#777" fill-opacity="0.60"/><circle cx="344.4" cy="77.3" r="0.52" fill="#777" fill-opacity="0.68"/><circle cx="362.4" cy="68.4" r="0.89" fill="#777" fill-opacity="0.79"/><circle cx="299.1" cy="106.8" r="0.69" fill="#999" fill-opacity="0.61"/><circle cx="357.7" cy="119.6" r="0.78" fill="#888" fill-opacity="0.79"/><circle cx="361.9" cy="120.2" r="0.82" fill="#999" fill-opacity="0.48"/><circle cx="337.3" cy="59.3" r="0.58" fill="#888" fill-opacity="0.58"/><circle cx="312.5" cy="77.3" r="0.84" fill="#999" fill-opacity="0.71"/><circle cx="371.6" cy="53.9" r="0.56" fill="#888" fill-opacity="0.53"/><circle cx="336.2" cy="77.1" r="0.51" fill="#777" fill-opacity="0.88"/><circle cx="320.0" cy="27.1" r="0.73" fill="#999" fill-opacity="0.50"/><circle cx="340.8" cy="108.1" r="0.73" fill="#999" fill-opacity="0.63"/><circle cx="369.6" cy="28.3" r="0.87" fill="#777" fill-opacity="0.79"/><circle cx="302.9" cy="95.4" r="0.65" fill="#999" fill-opacity="0.47"/><circle cx="357.9" cy="87.9" r="0.72" fill="#777" fill-opacity="0.82"/><circle cx="311.2" cy="40.4" r="0.79" fill="#888" fill-opacity="0.58"/><circle cx="382.5" cy="42.7" r="0.78" fill="#888" fill-opacity="0.65"/><circle cx="326.8" cy="71.9" r="0.62" fill="#999" fill-opacity="0.63"/><circle cx="326.6" cy="101.8" r="0.74" fill="#999" fill-opacity="0.59"/><circle cx="342.2" cy="82.5" r="0.52" fill="#888" fill-opacity="0.48"/><circle cx="310.5" cy="113.3" r="0.83" fill="#777" fill-opacity="0.83"/><circle cx="361.6" cy="44.8" r="0.58" fill="#999" fill-opacity="0.60"/><circle cx="390.0" cy="119.6" r="0.58" fill="#888" fill-opacity="0.73"/><circle cx="349.8" cy="102.2" r="0.73" fill="#999" fill-opacity="0.40"/><circle cx="309.3" cy="40.4" r="0.81" fill="#888" fill-opacity="0.73"/><circle cx="352.6" cy="43.3" r="0.52" fill="#777" fill-opacity="0.74"/><circle cx="391.0" cy="70.8" r="0.84" fill="#888" fill-opacity="0.78"/><circle cx="340.0" cy="47.5" r="0.54" fill="#777" fill-opacity="0.49"/><circle cx="298.6" cy="96.1" r="0.70" fill="#888" fill-opacity="0.81"/><circle cx="351.9" cy="113.4" r="0.86" fill="#777" fill-opacity="0.44"/><circle cx="373.1" cy="105.5" r="0.83" fill="#777" fill-opacity="0.88"/><circle cx="357.7" cy="39.2" r="0.70" fill="#999" fill-opacity="0.58"/><circle cx="320.7" cy="86.5" r="0.73" fill="#777" fill-opacity="0.57"/><circle cx="302.3" cy="24.5" r="0.74" fill="#777" fill-opacity="0.83"/><circle cx="392.7" cy="67.4" r="0.73" fill="#777" fill-opacity="0.90"/><circle cx="382.2" cy="60.0" r="0.90" fill="#999" fill-opacity="0.82"/><circle cx="362.9" cy="59.8" r="0.86" fill="#888" fill-opacity="0.88"/><circle cx="302.0" cy="115.7" r="0.85" fill="#777" fill-opacity="0.61"/><circle cx="357.0" cy="52.0" r="0.56" fill="#999" fill-opacity="0.68"/><circle cx="398.7" cy="26.7" r="0.74" fill="#888" fill-opacity="0.61"/><circle cx="398.9" cy="99.9" r="0.73" fill="#777" fill-opacity="0.42"/><circle cx="351.0" cy="30.2" r="0.63" fill="#888" fill-opacity="0.78"/><circle cx="300.5" cy="57.4" r="0.53" fill="#999" fill-opacity="0.44"/><circle cx="352.0" cy="53.8" r="0.87" fill="#999" fill-opacity="0.40"/><circle cx="313.4" cy="52.8" r="0.59" fill="#999" fill-opacity="0.47"/><circle cx="308.0" cy="52.0" r="0.70" fill="#888" fill-opacity="0.90"/><circle cx="383.9" cy="81.5" r="0.52" fill="#777" fill-opacity="0.78"/><circle cx="322.2" cy="99.8" r="0.80" fill="#888" fill-opacity="0.68"/><circle cx="355.5" cy="82.5" r="0.53" fill="#777" fill-opacity="0.85"/><circle cx="394.1" cy="61.8" r="0.55" fill="#999" fill-opacity="0.76"/><circle cx="323.8" cy="41.3" r="0.61" fill="#888" fill-opacity="0.42"/><circle cx="349.2" cy="99.5" r="0.82" fill="#777" fill-opacity="0.81"/><circle cx="304.7" cy="51.9" r="0.87" fill="#999" fill-opacity="0.47"/><circle cx="342.1" cy="56.8" r="0.80" fill="#777" fill-opacity="0.89"/><circle cx="339.6" cy="36.5" r="0.72" fill="#999" fill-opacity="0.69"/><circle cx="364.7" cy="108.2" r="0.67" fill="#777" fill-opacity="0.52"/><circle cx="356.9" cy="118.4" r="0.70" fill="#999" fill-opacity="0.53"/><circle cx="317.0" cy="25.6" r="0.88" fill="#888" fill-opacity="0.86"/><circle cx="359.7" cy="55.8" r="0.87" fill="#999" fill-opacity="0.40"/><circle cx="397.1" cy="23.3" r="0.60" fill="#999" fill-opacity="0.42"/><circle cx="320.5" cy="109.6" r="0.71" fill="#777" fill-opacity="0.42"/><circle cx="350.9" cy="41.2" r="0.62" fill="#888" fill-opacity="0.65"/><circle cx="330.1" cy="115.4" r="0.53" fill="#999" fill-opacity="0.49"/><circle cx="366.8" cy="50.0" r="0.87" fill="#888" fill-opacity="0.71"/><circle cx="334.1" cy="69.2" r="0.87" fill="#999" fill-opacity="0.71"/><circle cx="364.8" cy="116.2" r="0.67" fill="#999" fill-opacity="0.69"/><circle cx="331.6" cy="85.3" r="0.58" fill="#999" fill-opacity="0.80"/><circle cx="394.1" cy="104.0" r="0.73" fill="#999" fill-opacity="0.87"/><circle cx="384.2" cy="80.6" r="0.80" fill="#888" fill-opacity="0.70"/><circle cx="313.9" cy="47.1" r="0.83" fill="#888" fill-opacity="0.68"/><circle cx="379.2" cy="81.3" r="0.60" fill="#888" fill-opacity="0.41"/><circle cx="374.3" cy="99.0" r="0.68" fill="#888" fill-opacity="0.52"/><circle cx="342.3" cy="90.6" r="0.87" fill="#999" fill-opacity="0.89"/><circle cx="311.8" cy="107.1" r="0.52" fill="#777" fill-opacity="0.58"/><circle cx="377.1" cy="20.8" r="0.80" fill="#999" fill-opacity="0.43"/><circle cx="335.6" cy="52.8" r="0.62" fill="#777" fill-opacity="0.50"/><circle cx="305.3" cy="32.1" r="0.90" fill="#999" fill-opacity="0.43"/><circle cx="376.7" cy="49.7" r="0.66" fill="#888" fill-opacity="0.52"/><circle cx="395.2" cy="90.8" r="0.57" fill="#999" fill-opacity="0.77"/><circle cx="362.4" cy="50.6" r="0.65" fill="#999" fill-opacity="0.89"/><circle cx="379.7" cy="106.7" r="0.88" fill="#888" fill-opacity="0.87"/><circle cx="359.0" cy="82.4" r="0.75" fill="#777" fill-opacity="0.76"/><circle cx="335.7" cy="82.8" r="0.79" fill="#888" fill-opacity="0.77"/><circle cx="386.7" cy="20.1" r="0.78" fill="#888" fill-opacity="0.62"/><circle cx="314.4" cy="34.8" r="0.90" fill="#888" fill-opacity="0.68"/><circle cx="386.2" cy="71.8" r="0.63" fill="#999" fill-opacity="0.46"/><circle cx="362.9" cy="101.9" r="0.77" fill="#888" fill-opacity="0.41"/><circle cx="328.7" cy="28.7" r="0.70" fill="#999" fill-opacity="0.51"/><circle cx="358.8" cy="85.0" r="0.89" fill="#888" fill-opacity="0.62"/><circle cx="377.0" cy="25.5" r="0.74" fill="#999" fill-opacity="0.66"/><circle cx="310.2" cy="113.2" r="0.89" fill="#777" fill-opacity="0.51"/><circle cx="365.6" cy="62.7" r="0.79" fill="#777" fill-opacity="0.43"/><circle cx="297.9" cy="74.3" r="0.63" fill="#777" fill-opacity="0.71"/><circle cx="354.0" cy="67.4" r="0.61" fill="#999" fill-opacity="0.68"/><circle cx="322.6" cy="43.6" r="0.58" fill="#777" fill-opacity="0.52"/><circle cx="353.6" cy="65.7" r="0.63" fill="#888" fill-opacity="0.46"/><circle cx="354.4" cy="71.1" r="0.54" fill="#777" fill-opacity="0.51"/><circle cx="315.0" cy="111.5" r="0.54" fill="#888" fill-opacity="0.84"/><circle cx="311.9" cy="104.1" r="0.56" fill="#777" fill-opacity="0.77"/><circle cx="395.1" cy="25.9" r="0.54" fill="#777" fill-opacity="0.80"/><circle cx="364.8" cy="32.0" r="0.58" fill="#999" fill-opacity="0.76"/><circle cx="305.9" cy="99.4" r="0.80" fill="#888" fill-opacity="0.76"/><circle cx="350.8" cy="108.0" r="0.79" fill="#999" fill-opacity="0.53"/><circle cx="316.9" cy="55.3" r="0.68" fill="#999" fill-opacity="0.83"/><circle cx="336.0" cy="88.6" r="0.54" fill="#777" fill-opacity="0.82"/><circle cx="346.9" cy="54.7" r="0.57" fill="#999" fill-opacity="0.46"/><circle cx="304.4" cy="100.6" r="0.85" fill="#999" fill-opacity="0.55"/><circle cx="396.1" cy="53.8" r="0.83" fill="#888" fill-opacity="0.63"/><circle cx="332.9" cy="60.0" r="0.69" fill="#777" fill-opacity="0.59"/><circle cx="327.8" cy="50.5" r="0.55" fill="#999" fill-opacity="0.76"/></g>
<g filter="url(#bl05)"><circle cx="394.5" cy="115.7" r="0.65" fill="#ddd" fill-opacity="0.58"/><circle cx="314.2" cy="101.7" r="1.28" fill="#e6e6e6" fill-opacity="0.70"/><circle cx="358.9" cy="78.7" r="0.73" fill="#e6e6e6" fill-opacity="0.72"/><circle cx="379.0" cy="106.9" r="1.01" fill="#e6e6e6" fill-opacity="0.67"/><circle cx="342.4" cy="47.1" r="0.63" fill="#ddd" fill-opacity="0.58"/><circle cx="392.0" cy="111.7" r="0.94" fill="#ddd" fill-opacity="0.68"/><circle cx="321.1" cy="22.4" r="0.86" fill="#ddd" fill-opacity="0.66"/><circle cx="333.7" cy="71.9" r="1.05" fill="#e6e6e6" fill-opacity="0.80"/><circle cx="371.9" cy="111.6" r="1.21" fill="#e6e6e6" fill-opacity="0.58"/><circle cx="384.6" cy="65.0" r="1.36" fill="#e6e6e6" fill-opacity="0.76"/><circle cx="344.1" cy="73.6" r="0.99" fill="#e6e6e6" fill-opacity="0.65"/><circle cx="381.8" cy="55.7" r="1.31" fill="#e6e6e6" fill-opacity="0.58"/><circle cx="371.0" cy="76.3" r="0.97" fill="#ddd" fill-opacity="0.87"/><circle cx="380.1" cy="104.3" r="1.30" fill="#e6e6e6" fill-opacity="0.79"/><circle cx="345.9" cy="50.6" r="1.24" fill="#e6e6e6" fill-opacity="0.56"/><circle cx="318.2" cy="71.7" r="1.35" fill="#ddd" fill-opacity="0.79"/><circle cx="331.8" cy="20.9" r="1.25" fill="#ddd" fill-opacity="0.43"/><circle cx="363.6" cy="47.6" r="0.78" fill="#ddd" fill-opacity="0.78"/><circle cx="310.9" cy="46.8" r="1.26" fill="#ddd" fill-opacity="0.61"/><circle cx="370.1" cy="23.2" r="0.89" fill="#ddd" fill-opacity="0.52"/><circle cx="299.4" cy="31.6" r="0.65" fill="#ddd" fill-opacity="0.76"/><circle cx="299.2" cy="45.8" r="1.25" fill="#ddd" fill-opacity="0.77"/><circle cx="350.4" cy="20.2" r="1.07" fill="#ddd" fill-opacity="0.48"/><circle cx="300.7" cy="54.8" r="1.09" fill="#ddd" fill-opacity="0.54"/><circle cx="346.9" cy="51.1" r="1.04" fill="#ddd" fill-opacity="0.85"/><circle cx="374.1" cy="107.1" r="1.16" fill="#e6e6e6" fill-opacity="0.88"/><circle cx="306.5" cy="89.4" r="1.27" fill="#ddd" fill-opacity="0.62"/><circle cx="386.2" cy="32.9" r="1.07" fill="#e6e6e6" fill-opacity="0.64"/><circle cx="330.5" cy="108.3" r="0.87" fill="#e6e6e6" fill-opacity="0.70"/><circle cx="339.8" cy="21.8" r="1.05" fill="#ddd" fill-opacity="0.74"/><circle cx="322.8" cy="33.3" r="0.74" fill="#e6e6e6" fill-opacity="0.72"/><circle cx="348.8" cy="119.3" r="1.35" fill="#ddd" fill-opacity="0.52"/><circle cx="342.4" cy="45.3" r="1.07" fill="#e6e6e6" fill-opacity="0.53"/><circle cx="340.1" cy="73.1" r="0.60" fill="#ddd" fill-opacity="0.59"/><circle cx="313.3" cy="71.7" r="0.67" fill="#ddd" fill-opacity="0.45"/><circle cx="315.5" cy="43.4" r="0.77" fill="#e6e6e6" fill-opacity="0.63"/><circle cx="351.6" cy="58.4" r="1.15" fill="#ddd" fill-opacity="0.76"/><circle cx="341.2" cy="71.7" r="1.06" fill="#ddd" fill-opacity="0.84"/><circle cx="391.7" cy="78.7" r="1.34" fill="#e6e6e6" fill-opacity="0.58"/><circle cx="350.0" cy="113.1" r="1.09" fill="#e6e6e6" fill-opacity="0.75"/><circle cx="392.1" cy="51.1" r="1.30" fill="#e6e6e6" fill-opacity="0.45"/><circle cx="328.2" cy="104.9" r="1.14" fill="#ddd" fill-opacity="0.81"/><circle cx="303.1" cy="84.4" r="0.97" fill="#ddd" fill-opacity="0.40"/><circle cx="299.5" cy="50.9" r="1.18" fill="#ddd" fill-opacity="0.78"/><circle cx="316.6" cy="77.7" r="0.91" fill="#e6e6e6" fill-opacity="0.47"/><circle cx="332.2" cy="109.7" r="0.80" fill="#ddd" fill-opacity="0.44"/><circle cx="383.7" cy="84.7" r="1.37" fill="#ddd" fill-opacity="0.41"/><circle cx="364.2" cy="98.5" r="1.18" fill="#e6e6e6" fill-opacity="0.55"/><circle cx="394.9" cy="34.3" r="0.90" fill="#e6e6e6" fill-opacity="0.66"/><circle cx="345.7" cy="116.4" r="1.24" fill="#e6e6e6" fill-opacity="0.82"/><circle cx="327.3" cy="43.4" r="0.99" fill="#e6e6e6" fill-opacity="0.67"/><circle cx="368.0" cy="90.6" r="0.67" fill="#ddd" fill-opacity="0.44"/><circle cx="315.0" cy="75.1" r="1.25" fill="#ddd" fill-opacity="0.80"/><circle cx="390.0" cy="88.8" r="1.25" fill="#ddd" fill-opacity="0.46"/><circle cx="327.2" cy="43.4" r="1.14" fill="#e6e6e6" fill-opacity="0.62"/><circle cx="350.4" cy="31.3" r="1.03" fill="#e6e6e6" fill-opacity="0.45"/><circle cx="349.7" cy="92.3" r="0.81" fill="#ddd" fill-opacity="0.63"/><circle cx="368.7" cy="60.8" r="1.40" fill="#ddd" fill-opacity="0.63"/><circle cx="370.3" cy="101.8" r="0.91" fill="#ddd" fill-opacity="0.60"/><circle cx="302.5" cy="47.7" r="0.80" fill="#e6e6e6" fill-opacity="0.75"/><circle cx="345.2" cy="117.2" r="0.86" fill="#ddd" fill-opacity="0.78"/><circle cx="383.9" cy="42.7" r="1.10" fill="#e6e6e6" fill-opacity="0.81"/><circle cx="336.0" cy="109.0" r="1.33" fill="#e6e6e6" fill-opacity="0.63"/><circle cx="369.6" cy="109.2" r="1.12" fill="#ddd" fill-opacity="0.41"/><circle cx="393.2" cy="93.7" r="1.09" fill="#ddd" fill-opacity="0.84"/><circle cx="307.2" cy="102.4" r="1.21" fill="#ddd" fill-opacity="0.54"/><circle cx="391.0" cy="78.6" r="0.99" fill="#ddd" fill-opacity="0.40"/><circle cx="366.2" cy="68.7" r="1.01" fill="#ddd" fill-opacity="0.63"/><circle cx="317.9" cy="117.6" r="0.66" fill="#ddd" fill-opacity="0.85"/><circle cx="351.4" cy="87.6" r="0.65" fill="#e6e6e6" fill-opacity="0.86"/><circle cx="391.1" cy="66.4" r="1.30" fill="#e6e6e6" fill-opacity="0.41"/><circle cx="305.1" cy="96.1" r="0.74" fill="#e6e6e6" fill-opacity="0.53"/><circle cx="360.8" cy="104.2" r="1.18" fill="#ddd" fill-opacity="0.48"/><circle cx="335.9" cy="66.9" r="0.84" fill="#ddd" fill-opacity="0.54"/><circle cx="344.7" cy="20.2" r="0.63" fill="#e6e6e6" fill-opacity="0.68"/><circle cx="317.9" cy="88.3" r="1.00" fill="#ddd" fill-opacity="0.64"/><circle cx="351.9" cy="112.4" r="0.66" fill="#e6e6e6" fill-opacity="0.55"/><circle cx="362.9" cy="100.4" r="1.12" fill="#e6e6e6" fill-opacity="0.66"/><circle cx="390.9" cy="71.4" r="0.77" fill="#ddd" fill-opacity="0.80"/><circle cx="361.1" cy="51.1" r="0.79" fill="#e6e6e6" fill-opacity="0.68"/><circle cx="350.3" cy="26.2" r="0.69" fill="#e6e6e6" fill-opacity="0.83"/><circle cx="318.8" cy="56.0" r="0.87" fill="#e6e6e6" fill-opacity="0.48"/><circle cx="342.1" cy="49.5" r="1.32" fill="#e6e6e6" fill-opacity="0.90"/><circle cx="319.0" cy="47.6" r="0.73" fill="#ddd" fill-opacity="0.63"/><circle cx="373.7" cy="105.5" r="0.75" fill="#ddd" fill-opacity="0.80"/><circle cx="320.8" cy="101.7" r="1.11" fill="#e6e6e6" fill-opacity="0.80"/><circle cx="373.4" cy="48.4" r="1.18" fill="#e6e6e6" fill-opacity="0.77"/><circle cx="373.6" cy="107.8" r="1.35" fill="#e6e6e6" fill-opacity="0.67"/><circle cx="362.0" cy="27.3" r="0.85" fill="#e6e6e6" fill-opacity="0.49"/><circle cx="394.7" cy="55.8" r="0.98" fill="#ddd" fill-opacity="0.56"/><circle cx="335.7" cy="117.8" r="0.68" fill="#ddd" fill-opacity="0.58"/><circle cx="390.6" cy="109.2" r="1.21" fill="#e6e6e6" fill-opacity="0.40"/><circle cx="329.7" cy="103.3" r="1.08" fill="#e6e6e6" fill-opacity="0.63"/><circle cx="388.9" cy="56.3" r="0.76" fill="#e6e6e6" fill-opacity="0.45"/><circle cx="311.5" cy="40.6" r="0.80" fill="#e6e6e6" fill-opacity="0.58"/><circle cx="306.1" cy="38.9" r="1.17" fill="#ddd" fill-opacity="0.57"/><circle cx="335.0" cy="97.5" r="0.65" fill="#ddd" fill-opacity="0.49"/><circle cx="303.4" cy="64.8" r="0.82" fill="#e6e6e6" fill-opacity="0.66"/><circle cx="383.2" cy="54.1" r="1.21" fill="#e6e6e6" fill-opacity="0.51"/><circle cx="302.5" cy="97.4" r="0.99" fill="#e6e6e6" fill-opacity="0.67"/><circle cx="360.4" cy="29.1" r="1.01" fill="#e6e6e6" fill-opacity="0.89"/><circle cx="382.8" cy="65.9" r="0.93" fill="#e6e6e6" fill-opacity="0.42"/><circle cx="308.0" cy="120.5" r="0.70" fill="#ddd" fill-opacity="0.44"/><circle cx="328.2" cy="100.6" r="0.61" fill="#ddd" fill-opacity="0.73"/><circle cx="319.5" cy="22.5" r="0.94" fill="#ddd" fill-opacity="0.57"/><circle cx="380.6" cy="67.0" r="1.29" fill="#e6e6e6" fill-opacity="0.52"/><circle cx="346.1" cy="76.4" r="0.71" fill="#ddd" fill-opacity="0.42"/><circle cx="352.7" cy="20.6" r="1.25" fill="#e6e6e6" fill-opacity="0.74"/><circle cx="386.3" cy="34.1" r="0.99" fill="#ddd" fill-opacity="0.67"/><circle cx="322.2" cy="67.1" r="1.24" fill="#ddd" fill-opacity="0.71"/><circle cx="331.3" cy="85.4" r="0.92" fill="#ddd" fill-opacity="0.66"/><circle cx="382.0" cy="35.3" r="1.37" fill="#ddd" fill-opacity="0.59"/><circle cx="327.3" cy="63.5" r="0.94" fill="#e6e6e6" fill-opacity="0.56"/><circle cx="327.5" cy="30.0" r="0.68" fill="#e6e6e6" fill-opacity="0.54"/><circle cx="375.1" cy="119.7" r="0.78" fill="#ddd" fill-opacity="0.75"/><circle cx="364.1" cy="23.1" r="1.04" fill="#ddd" fill-opacity="0.51"/><circle cx="336.9" cy="23.9" r="0.71" fill="#ddd" fill-opacity="0.77"/><circle cx="368.7" cy="68.0" r="0.64" fill="#ddd" fill-opacity="0.82"/><circle cx="358.0" cy="23.9" r="0.76" fill="#ddd" fill-opacity="0.47"/><circle cx="367.8" cy="112.6" r="1.21" fill="#ddd" fill-opacity="0.89"/><circle cx="388.7" cy="66.9" r="0.83" fill="#ddd" fill-opacity="0.48"/><circle cx="330.1" cy="102.8" r="1.28" fill="#ddd" fill-opacity="0.61"/><circle cx="339.4" cy="92.8" r="0.96" fill="#ddd" fill-opacity="0.72"/><circle cx="371.9" cy="115.4" r="0.61" fill="#e6e6e6" fill-opacity="0.57"/><circle cx="351.9" cy="59.6" r="1.02" fill="#ddd" fill-opacity="0.61"/><circle cx="310.1" cy="37.3" r="1.30" fill="#e6e6e6" fill-opacity="0.89"/><circle cx="336.1" cy="81.9" r="1.09" fill="#e6e6e6" fill-opacity="0.62"/><circle cx="374.0" cy="105.9" r="0.87" fill="#ddd" fill-opacity="0.49"/><circle cx="358.7" cy="106.9" r="0.78" fill="#ddd" fill-opacity="0.74"/><circle cx="328.4" cy="40.9" r="1.27" fill="#e6e6e6" fill-opacity="0.45"/><circle cx="377.5" cy="22.9" r="1.39" fill="#ddd" fill-opacity="0.56"/><circle cx="323.1" cy="93.1" r="0.87" fill="#e6e6e6" fill-opacity="0.44"/><circle cx="345.0" cy="91.9" r="0.83" fill="#ddd" fill-opacity="0.51"/><circle cx="313.6" cy="97.9" r="1.18" fill="#e6e6e6" fill-opacity="0.86"/><circle cx="362.8" cy="70.0" r="1.24" fill="#ddd" fill-opacity="0.48"/><circle cx="327.5" cy="117.4" r="1.34" fill="#ddd" fill-opacity="0.71"/><circle cx="391.1" cy="53.8" r="1.09" fill="#e6e6e6" fill-opacity="0.66"/><circle cx="320.9" cy="41.5" r="0.65" fill="#ddd" fill-opacity="0.47"/><circle cx="360.4" cy="59.5" r="0.95" fill="#e6e6e6" fill-opacity="0.60"/><circle cx="345.4" cy="58.4" r="0.77" fill="#ddd" fill-opacity="0.43"/><circle cx="350.5" cy="109.5" r="1.08" fill="#ddd" fill-opacity="0.43"/><circle cx="369.1" cy="60.6" r="1.01" fill="#ddd" fill-opacity="0.58"/><circle cx="333.8" cy="115.1" r="0.99" fill="#ddd" fill-opacity="0.75"/><circle cx="371.9" cy="42.3" r="0.62" fill="#e6e6e6" fill-opacity="0.42"/><circle cx="363.2" cy="40.9" r="0.79" fill="#ddd" fill-opacity="0.71"/><circle cx="362.9" cy="115.2" r="0.68" fill="#ddd" fill-opacity="0.74"/><circle cx="310.9" cy="91.4" r="0.63" fill="#e6e6e6" fill-opacity="0.64"/><circle cx="393.3" cy="55.9" r="0.87" fill="#ddd" fill-opacity="0.70"/><circle cx="307.9" cy="99.2" r="0.89" fill="#e6e6e6" fill-opacity="0.80"/><circle cx="388.4" cy="71.4" r="1.37" fill="#ddd" fill-opacity="0.42"/><circle cx="341.3" cy="84.0" r="0.88" fill="#ddd" fill-opacity="0.83"/><circle cx="304.8" cy="74.6" r="1.09" fill="#e6e6e6" fill-opacity="0.61"/><circle cx="321.5" cy="38.4" r="1.09" fill="#ddd" fill-opacity="0.70"/><circle cx="395.6" cy="103.5" r="1.14" fill="#e6e6e6" fill-opacity="0.41"/><circle cx="385.7" cy="117.8" r="1.05" fill="#ddd" fill-opacity="0.60"/><circle cx="389.7" cy="31.2" r="1.08" fill="#ddd" fill-opacity="0.52"/><circle cx="353.1" cy="30.4" r="1.15" fill="#ddd" fill-opacity="0.65"/><circle cx="325.7" cy="85.8" r="0.64" fill="#e6e6e6" fill-opacity="0.61"/><circle cx="376.8" cy="35.6" r="0.70" fill="#e6e6e6" fill-opacity="0.43"/><circle cx="394.7" cy="38.5" r="1.25" fill="#e6e6e6" fill-opacity="0.70"/></g>
<circle cx="377.5" cy="87.5" r="3.6" fill="#f8f8f8" filter="url(#bl05)"/>
</g>
<path d="M341.9,22.3 C347.3,22.3 354.2,23.6 360.0,25.3 C365.8,27.0 371.7,29.0 376.5,32.3 C381.3,35.6 385.8,40.4 389.0,45.0 C392.2,49.6 394.1,55.0 395.5,60.0 C396.9,65.0 398.1,70.3 397.2,75.0 C396.3,79.7 392.4,84.2 390.0,88.0 C387.6,91.8 385.9,94.8 382.6,97.5 C379.3,100.2 374.4,102.6 370.0,104.5 C365.6,106.4 361.8,108.3 356.1,108.9 C350.4,109.5 341.8,109.0 335.8,108.0 C329.8,107.0 324.4,105.1 320.0,103.0 C315.6,100.9 312.6,99.3 309.3,95.5 C306.1,91.7 302.2,85.1 300.5,80.0 C298.8,74.9 298.7,69.2 298.8,65.0 C298.9,60.8 299.9,58.4 301.1,54.7 C302.3,51.0 304.0,46.4 306.0,43.0 C308.0,39.6 309.7,37.2 313.3,34.3 C316.9,31.4 322.8,27.5 327.6,25.5 C332.4,23.5 336.5,22.3 341.9,22.3 Z" fill="none" stroke="#262626" stroke-width="1.9"/>
<circle cx="326.6" cy="61.8" r="3.4" fill="#0c0c0c" filter="url(#bl05)"/>
<circle cx="335.2" cy="66.2" r="3.1" fill="#111" filter="url(#bl05)"/>
<circle cx="325.6" cy="76.3" r="3" fill="#3a3a3a" filter="url(#bl05)"/>
<line x1="308" y1="80.5" x2="319.0" y2="70.3" stroke="#000" stroke-width="1.9"/><polygon points="323,66.6 320.7,73.7 315.8,68.4" fill="#000"/>
<polyline transform="rotate(0 360.2 42.3)" points="357.5,40.41 360.2,43.65 362.9,40.41" fill="none" stroke="#111" stroke-width="2"/>
<circle cx="395.5" cy="80" r="2.2" fill="#222" />
<rect x="302" y="115.8" width="22.5" height="2.6" fill="#000"/>
</g>
<clipPath id="ci2"><rect x="405" y="20" width="101" height="101"/></clipPath>
<clipPath id="cc2"><path d="M423.0,35.0 C429.9,30.4 440.4,28.4 450.0,27.5 C459.6,26.6 473.1,27.8 480.4,29.5 C487.7,31.2 490.8,33.1 494.0,38.0 C497.2,42.9 499.5,51.5 499.5,58.8 C499.5,66.1 497.6,76.0 494.0,82.0 C490.4,88.0 483.0,92.0 478.0,95.0 C473.0,98.0 470.5,98.7 464.2,100.0 C457.9,101.3 447.4,103.8 440.0,103.0 C432.6,102.2 424.9,98.8 420.0,95.0 C415.1,91.2 412.4,86.7 410.5,80.0 C408.6,73.3 406.4,62.5 408.5,55.0 C410.6,47.5 416.1,39.6 423.0,35.0 Z"/></clipPath>
<g clip-path="url(#ci2)">
<rect x="405" y="20" width="101" height="101" fill="#bebebe"/>
<rect x="405" y="20" width="101" height="101" filter="url(#nDarkMid)" opacity="0.15"/>
<g filter="url(#bl05)"><circle cx="467.9" cy="94.9" r="1.60" fill="#a8a8a8" fill-opacity="0.84"/><circle cx="483.4" cy="45.2" r="0.85" fill="#a8a8a8" fill-opacity="0.55"/><circle cx="452.4" cy="44.9" r="1.34" fill="#a8a8a8" fill-opacity="0.51"/><circle cx="426.9" cy="48.2" r="1.72" fill="#b0b0b0" fill-opacity="0.56"/><circle cx="485.5" cy="34.0" r="1.42" fill="#a8a8a8" fill-opacity="0.55"/><circle cx="503.2" cy="20.5" r="1.57" fill="#a8a8a8" fill-opacity="0.85"/><circle cx="434.2" cy="117.1" r="1.34" fill="#a8a8a8" fill-opacity="0.57"/><circle cx="502.8" cy="39.9" r="1.77" fill="#b0b0b0" fill-opacity="0.62"/><circle cx="441.5" cy="36.8" r="0.95" fill="#a8a8a8" fill-opacity="0.63"/><circle cx="487.6" cy="79.2" r="1.40" fill="#b0b0b0" fill-opacity="0.53"/><circle cx="440.9" cy="50.9" r="1.50" fill="#a8a8a8" fill-opacity="0.69"/><circle cx="476.2" cy="25.8" r="1.78" fill="#a8a8a8" fill-opacity="0.88"/><circle cx="441.1" cy="60.8" r="1.35" fill="#b0b0b0" fill-opacity="0.65"/><circle cx="463.4" cy="20.9" r="0.85" fill="#a8a8a8" fill-opacity="0.75"/><circle cx="501.4" cy="32.0" r="1.05" fill="#b0b0b0" fill-opacity="0.64"/><circle cx="440.8" cy="73.0" r="1.58" fill="#a8a8a8" fill-opacity="0.74"/><circle cx="483.9" cy="57.1" r="1.10" fill="#b0b0b0" fill-opacity="0.88"/><circle cx="414.2" cy="54.4" r="1.41" fill="#a8a8a8" fill-opacity="0.64"/><circle cx="498.3" cy="75.1" r="1.11" fill="#b0b0b0" fill-opacity="0.62"/><circle cx="485.7" cy="83.3" r="1.52" fill="#b0b0b0" fill-opacity="0.90"/><circle cx="421.3" cy="24.9" r="1.79" fill="#b0b0b0" fill-opacity="0.51"/><circle cx="479.8" cy="54.7" r="1.05" fill="#b0b0b0" fill-opacity="0.56"/><circle cx="503.9" cy="84.5" r="1.60" fill="#b0b0b0" fill-opacity="0.84"/><circle cx="418.2" cy="93.9" r="1.75" fill="#b0b0b0" fill-opacity="0.54"/><circle cx="448.9" cy="35.1" r="1.64" fill="#b0b0b0" fill-opacity="0.56"/><circle cx="498.1" cy="82.7" r="0.97" fill="#b0b0b0" fill-opacity="0.88"/><circle cx="474.6" cy="52.1" r="1.07" fill="#b0b0b0" fill-opacity="0.66"/><circle cx="419.8" cy="58.1" r="1.79" fill="#a8a8a8" fill-opacity="0.75"/><circle cx="455.4" cy="54.2" r="0.89" fill="#b0b0b0" fill-opacity="0.71"/><circle cx="460.4" cy="70.8" r="0.86" fill="#b0b0b0" fill-opacity="0.78"/><circle cx="472.1" cy="96.7" r="1.16" fill="#b0b0b0" fill-opacity="0.83"/><circle cx="431.8" cy="119.1" r="1.52" fill="#b0b0b0" fill-opacity="0.76"/><circle cx="463.6" cy="21.2" r="1.35" fill="#b0b0b0" fill-opacity="0.63"/><circle cx="432.6" cy="49.2" r="1.30" fill="#b0b0b0" fill-opacity="0.64"/><circle cx="470.1" cy="94.5" r="1.63" fill="#b0b0b0" fill-opacity="0.87"/><circle cx="422.4" cy="107.6" r="1.25" fill="#b0b0b0" fill-opacity="0.88"/><circle cx="457.3" cy="73.5" r="0.97" fill="#b0b0b0" fill-opacity="0.87"/><circle cx="453.2" cy="89.8" r="1.52" fill="#b0b0b0" fill-opacity="0.57"/><circle cx="483.8" cy="78.7" r="1.47" fill="#b0b0b0" fill-opacity="0.62"/><circle cx="460.9" cy="107.6" r="1.07" fill="#a8a8a8" fill-opacity="0.58"/><circle cx="464.2" cy="83.0" r="0.98" fill="#a8a8a8" fill-opacity="0.75"/><circle cx="409.2" cy="67.6" r="1.03" fill="#a8a8a8" fill-opacity="0.86"/><circle cx="416.2" cy="117.8" r="1.28" fill="#a8a8a8" fill-opacity="0.67"/><circle cx="440.5" cy="86.9" r="0.87" fill="#a8a8a8" fill-opacity="0.60"/><circle cx="496.2" cy="20.1" r="1.21" fill="#b0b0b0" fill-opacity="0.84"/><circle cx="492.5" cy="89.6" r="1.35" fill="#a8a8a8" fill-opacity="0.72"/><circle cx="435.4" cy="49.8" r="1.31" fill="#b0b0b0" fill-opacity="0.88"/><circle cx="487.7" cy="62.3" r="1.61" fill="#b0b0b0" fill-opacity="0.69"/><circle cx="420.8" cy="58.7" r="1.28" fill="#a8a8a8" fill-opacity="0.89"/><circle cx="466.5" cy="55.5" r="1.69" fill="#a8a8a8" fill-opacity="0.65"/><circle cx="437.9" cy="112.6" r="1.34" fill="#b0b0b0" fill-opacity="0.75"/><circle cx="495.0" cy="58.0" r="1.23" fill="#a8a8a8" fill-opacity="0.70"/><circle cx="453.4" cy="91.5" r="1.18" fill="#a8a8a8" fill-opacity="0.74"/><circle cx="431.2" cy="119.1" r="1.30" fill="#b0b0b0" fill-opacity="0.51"/><circle cx="500.5" cy="51.1" r="1.73" fill="#a8a8a8" fill-opacity="0.69"/><circle cx="417.3" cy="82.8" r="1.24" fill="#b0b0b0" fill-opacity="0.52"/><circle cx="418.8" cy="59.6" r="1.28" fill="#b0b0b0" fill-opacity="0.60"/><circle cx="452.9" cy="23.7" r="1.29" fill="#a8a8a8" fill-opacity="0.79"/><circle cx="433.9" cy="69.7" r="1.79" fill="#a8a8a8" fill-opacity="0.51"/><circle cx="417.7" cy="48.5" r="1.51" fill="#b0b0b0" fill-opacity="0.79"/><circle cx="407.7" cy="55.3" r="1.48" fill="#a8a8a8" fill-opacity="0.51"/><circle cx="430.5" cy="66.0" r="1.72" fill="#a8a8a8" fill-opacity="0.51"/><circle cx="483.6" cy="63.2" r="1.38" fill="#b0b0b0" fill-opacity="0.84"/><circle cx="490.0" cy="68.0" r="1.48" fill="#a8a8a8" fill-opacity="0.86"/><circle cx="452.0" cy="96.6" r="1.10" fill="#a8a8a8" fill-opacity="0.78"/><circle cx="448.7" cy="48.9" r="1.58" fill="#b0b0b0" fill-opacity="0.56"/><circle cx="453.3" cy="75.5" r="1.30" fill="#b0b0b0" fill-opacity="0.72"/><circle cx="448.0" cy="74.7" r="0.85" fill="#a8a8a8" fill-opacity="0.61"/><circle cx="413.6" cy="26.4" r="1.74" fill="#b0b0b0" fill-opacity="0.79"/><circle cx="503.8" cy="120.8" r="1.50" fill="#a8a8a8" fill-opacity="0.55"/><circle cx="417.4" cy="82.1" r="1.62" fill="#a8a8a8" fill-opacity="0.78"/><circle cx="418.6" cy="49.5" r="1.72" fill="#a8a8a8" fill-opacity="0.57"/><circle cx="423.7" cy="101.0" r="0.87" fill="#a8a8a8" fill-opacity="0.52"/><circle cx="415.9" cy="58.3" r="0.87" fill="#a8a8a8" fill-opacity="0.73"/><circle cx="417.0" cy="60.3" r="1.42" fill="#a8a8a8" fill-opacity="0.67"/><circle cx="436.8" cy="80.6" r="1.29" fill="#b0b0b0" fill-opacity="0.87"/><circle cx="419.0" cy="49.8" r="1.37" fill="#b0b0b0" fill-opacity="0.86"/><circle cx="461.0" cy="82.7" r="1.06" fill="#a8a8a8" fill-opacity="0.60"/><circle cx="480.8" cy="72.2" r="0.93" fill="#a8a8a8" fill-opacity="0.85"/><circle cx="450.8" cy="59.3" r="0.93" fill="#a8a8a8" fill-opacity="0.76"/><circle cx="413.6" cy="87.5" r="0.89" fill="#a8a8a8" fill-opacity="0.70"/><circle cx="450.8" cy="59.4" r="1.26" fill="#b0b0b0" fill-opacity="0.54"/><circle cx="458.6" cy="74.8" r="1.18" fill="#a8a8a8" fill-opacity="0.88"/><circle cx="448.4" cy="100.2" r="1.55" fill="#a8a8a8" fill-opacity="0.89"/><circle cx="472.2" cy="102.9" r="0.94" fill="#b0b0b0" fill-opacity="0.64"/><circle cx="428.7" cy="53.7" r="1.41" fill="#b0b0b0" fill-opacity="0.82"/><circle cx="443.2" cy="93.0" r="1.16" fill="#b0b0b0" fill-opacity="0.82"/><circle cx="448.8" cy="106.0" r="1.32" fill="#a8a8a8" fill-opacity="0.80"/><circle cx="444.9" cy="29.8" r="0.83" fill="#a8a8a8" fill-opacity="0.58"/><circle cx="454.5" cy="114.6" r="1.46" fill="#b0b0b0" fill-opacity="0.50"/><circle cx="452.5" cy="109.9" r="1.42" fill="#b0b0b0" fill-opacity="0.63"/><circle cx="451.7" cy="39.4" r="1.45" fill="#a8a8a8" fill-opacity="0.65"/><circle cx="444.0" cy="108.9" r="0.95" fill="#b0b0b0" fill-opacity="0.54"/><circle cx="487.7" cy="95.8" r="1.47" fill="#a8a8a8" fill-opacity="0.69"/><circle cx="408.2" cy="113.4" r="1.17" fill="#a8a8a8" fill-opacity="0.78"/><circle cx="473.1" cy="67.6" r="1.75" fill="#a8a8a8" fill-opacity="0.81"/><circle cx="437.8" cy="65.8" r="1.04" fill="#a8a8a8" fill-opacity="0.51"/><circle cx="477.2" cy="78.0" r="1.46" fill="#b0b0b0" fill-opacity="0.86"/><circle cx="476.4" cy="88.7" r="0.98" fill="#b0b0b0" fill-opacity="0.61"/><circle cx="479.0" cy="92.5" r="0.96" fill="#a8a8a8" fill-opacity="0.57"/><circle cx="426.1" cy="24.4" r="1.41" fill="#b0b0b0" fill-opacity="0.50"/><circle cx="411.1" cy="98.7" r="1.21" fill="#a8a8a8" fill-opacity="0.51"/><circle cx="489.4" cy="104.6" r="1.37" fill="#a8a8a8" fill-opacity="0.79"/><circle cx="428.9" cy="101.1" r="0.89" fill="#b0b0b0" fill-opacity="0.52"/><circle cx="429.6" cy="25.1" r="1.20" fill="#a8a8a8" fill-opacity="0.52"/><circle cx="489.2" cy="65.0" r="1.44" fill="#a8a8a8" fill-opacity="0.88"/><circle cx="424.6" cy="90.3" r="1.44" fill="#a8a8a8" fill-opacity="0.71"/><circle cx="413.5" cy="51.7" r="0.91" fill="#a8a8a8" fill-opacity="0.74"/><circle cx="491.5" cy="41.7" r="0.82" fill="#b0b0b0" fill-opacity="0.69"/><circle cx="462.7" cy="58.0" r="1.43" fill="#a8a8a8" fill-opacity="0.87"/><circle cx="436.1" cy="65.4" r="1.63" fill="#a8a8a8" fill-opacity="0.72"/><circle cx="419.0" cy="68.8" r="1.58" fill="#b0b0b0" fill-opacity="0.83"/><circle cx="436.6" cy="33.1" r="0.88" fill="#a8a8a8" fill-opacity="0.78"/><circle cx="485.7" cy="117.7" r="1.47" fill="#b0b0b0" fill-opacity="0.52"/><circle cx="475.8" cy="24.9" r="1.00" fill="#b0b0b0" fill-opacity="0.85"/><circle cx="494.4" cy="27.3" r="1.57" fill="#b0b0b0" fill-opacity="0.80"/><circle cx="461.2" cy="110.5" r="1.45" fill="#a8a8a8" fill-opacity="0.73"/><circle cx="449.7" cy="102.5" r="1.46" fill="#a8a8a8" fill-opacity="0.79"/><circle cx="475.8" cy="47.0" r="1.61" fill="#b0b0b0" fill-opacity="0.72"/><circle cx="437.4" cy="51.0" r="0.94" fill="#b0b0b0" fill-opacity="0.77"/><circle cx="433.8" cy="26.4" r="1.56" fill="#a8a8a8" fill-opacity="0.51"/><circle cx="410.1" cy="33.1" r="1.16" fill="#b0b0b0" fill-opacity="0.88"/><circle cx="466.8" cy="43.3" r="1.23" fill="#b0b0b0" fill-opacity="0.58"/><circle cx="441.2" cy="36.5" r="1.42" fill="#a8a8a8" fill-opacity="0.79"/><circle cx="414.6" cy="73.6" r="0.97" fill="#a8a8a8" fill-opacity="0.68"/><circle cx="499.8" cy="100.3" r="0.92" fill="#b0b0b0" fill-opacity="0.68"/><circle cx="428.1" cy="80.2" r="0.97" fill="#a8a8a8" fill-opacity="0.81"/><circle cx="499.6" cy="73.8" r="1.77" fill="#a8a8a8" fill-opacity="0.54"/><circle cx="487.2" cy="62.4" r="0.85" fill="#a8a8a8" fill-opacity="0.51"/><circle cx="463.3" cy="68.7" r="1.68" fill="#b0b0b0" fill-opacity="0.69"/><circle cx="425.3" cy="103.0" r="1.10" fill="#b0b0b0" fill-opacity="0.81"/><circle cx="484.3" cy="57.0" r="1.61" fill="#a8a8a8" fill-opacity="0.75"/><circle cx="445.5" cy="34.4" r="1.63" fill="#b0b0b0" fill-opacity="0.65"/><circle cx="414.5" cy="60.1" r="1.55" fill="#b0b0b0" fill-opacity="0.86"/><circle cx="425.1" cy="100.5" r="1.12" fill="#b0b0b0" fill-opacity="0.85"/><circle cx="467.9" cy="100.8" r="1.18" fill="#a8a8a8" fill-opacity="0.54"/><circle cx="466.1" cy="82.7" r="1.61" fill="#a8a8a8" fill-opacity="0.63"/><circle cx="407.7" cy="51.5" r="1.18" fill="#b0b0b0" fill-opacity="0.72"/><circle cx="474.8" cy="65.4" r="1.59" fill="#a8a8a8" fill-opacity="0.71"/><circle cx="485.7" cy="56.6" r="1.39" fill="#a8a8a8" fill-opacity="0.61"/></g>
<g filter="url(#bl1)"><circle cx="502.5" cy="21.2" r="2.23" fill="#d8d8d8" fill-opacity="0.97"/><circle cx="429.1" cy="25.5" r="2.33" fill="#d8d8d8" fill-opacity="0.94"/><circle cx="506.0" cy="44.2" r="1.67" fill="#dedede" fill-opacity="0.71"/><circle cx="431.6" cy="43.1" r="2.40" fill="#dedede" fill-opacity="0.92"/><circle cx="427.6" cy="113.4" r="1.92" fill="#d8d8d8" fill-opacity="0.83"/><circle cx="489.9" cy="69.5" r="1.85" fill="#dedede" fill-opacity="0.78"/><circle cx="436.8" cy="90.1" r="1.83" fill="#d8d8d8" fill-opacity="0.80"/><circle cx="500.4" cy="21.9" r="1.40" fill="#d8d8d8" fill-opacity="0.85"/><circle cx="484.3" cy="105.3" r="1.22" fill="#dedede" fill-opacity="0.66"/><circle cx="491.4" cy="110.1" r="1.75" fill="#d8d8d8" fill-opacity="0.79"/><circle cx="489.9" cy="76.1" r="1.76" fill="#d8d8d8" fill-opacity="0.67"/><circle cx="500.8" cy="55.7" r="1.53" fill="#dedede" fill-opacity="0.67"/><circle cx="468.2" cy="59.1" r="1.87" fill="#dedede" fill-opacity="0.91"/><circle cx="481.5" cy="104.6" r="1.58" fill="#d8d8d8" fill-opacity="0.65"/><circle cx="454.7" cy="58.0" r="2.38" fill="#d8d8d8" fill-opacity="0.71"/><circle cx="409.2" cy="110.3" r="2.52" fill="#d8d8d8" fill-opacity="0.93"/><circle cx="462.1" cy="108.1" r="1.90" fill="#d8d8d8" fill-opacity="0.79"/><circle cx="413.3" cy="117.0" r="1.52" fill="#dedede" fill-opacity="0.88"/><circle cx="430.8" cy="28.6" r="1.21" fill="#dedede" fill-opacity="0.90"/><circle cx="489.4" cy="63.8" r="1.28" fill="#dedede" fill-opacity="0.84"/><circle cx="436.5" cy="103.0" r="2.32" fill="#dedede" fill-opacity="0.61"/><circle cx="472.6" cy="55.2" r="1.74" fill="#d8d8d8" fill-opacity="0.66"/><circle cx="430.2" cy="119.6" r="1.66" fill="#d8d8d8" fill-opacity="0.87"/><circle cx="436.8" cy="52.2" r="2.05" fill="#d8d8d8" fill-opacity="0.74"/><circle cx="411.0" cy="37.4" r="2.40" fill="#d8d8d8" fill-opacity="0.99"/><circle cx="478.1" cy="60.3" r="2.42" fill="#d8d8d8" fill-opacity="0.73"/><circle cx="436.8" cy="66.3" r="2.06" fill="#dedede" fill-opacity="0.83"/><circle cx="417.3" cy="113.7" r="2.01" fill="#d8d8d8" fill-opacity="0.91"/><circle cx="420.7" cy="86.2" r="2.37" fill="#d8d8d8" fill-opacity="0.83"/><circle cx="460.6" cy="95.9" r="1.72" fill="#d8d8d8" fill-opacity="0.99"/><circle cx="470.3" cy="83.5" r="2.59" fill="#dedede" fill-opacity="0.83"/><circle cx="488.9" cy="89.2" r="2.49" fill="#dedede" fill-opacity="0.95"/><circle cx="504.7" cy="86.9" r="1.77" fill="#dedede" fill-opacity="0.73"/><circle cx="481.7" cy="56.1" r="1.46" fill="#dedede" fill-opacity="0.97"/><circle cx="475.4" cy="99.2" r="1.34" fill="#dedede" fill-opacity="0.68"/><circle cx="473.4" cy="100.2" r="2.21" fill="#d8d8d8" fill-opacity="0.95"/><circle cx="428.2" cy="35.9" r="2.41" fill="#d8d8d8" fill-opacity="0.75"/><circle cx="427.8" cy="94.7" r="1.44" fill="#d8d8d8" fill-opacity="0.80"/><circle cx="453.4" cy="67.8" r="1.86" fill="#d8d8d8" fill-opacity="0.77"/><circle cx="447.7" cy="113.4" r="2.57" fill="#d8d8d8" fill-opacity="0.87"/><circle cx="503.7" cy="65.6" r="1.77" fill="#d8d8d8" fill-opacity="0.61"/><circle cx="464.0" cy="20.4" r="2.15" fill="#dedede" fill-opacity="0.61"/><circle cx="450.6" cy="66.9" r="2.30" fill="#dedede" fill-opacity="0.78"/><circle cx="449.6" cy="90.4" r="1.90" fill="#d8d8d8" fill-opacity="0.67"/><circle cx="501.3" cy="65.5" r="1.87" fill="#dedede" fill-opacity="0.81"/><circle cx="426.6" cy="42.2" r="2.26" fill="#dedede" fill-opacity="0.86"/><circle cx="475.2" cy="88.9" r="1.65" fill="#dedede" fill-opacity="0.70"/><circle cx="499.3" cy="47.4" r="1.78" fill="#dedede" fill-opacity="0.95"/><circle cx="474.5" cy="47.3" r="2.01" fill="#dedede" fill-opacity="0.66"/><circle cx="471.7" cy="44.3" r="1.41" fill="#d8d8d8" fill-opacity="0.86"/><circle cx="485.0" cy="59.9" r="1.80" fill="#dedede" fill-opacity="0.93"/><circle cx="475.8" cy="67.4" r="2.08" fill="#dedede" fill-opacity="0.90"/><circle cx="501.0" cy="67.5" r="1.52" fill="#dedede" fill-opacity="0.74"/><circle cx="439.6" cy="53.2" r="1.67" fill="#d8d8d8" fill-opacity="0.80"/><circle cx="501.9" cy="94.3" r="2.00" fill="#d8d8d8" fill-opacity="0.67"/><circle cx="458.5" cy="50.9" r="1.50" fill="#dedede" fill-opacity="0.70"/><circle cx="454.9" cy="38.7" r="1.53" fill="#dedede" fill-opacity="0.97"/><circle cx="421.2" cy="72.5" r="2.12" fill="#dedede" fill-opacity="0.85"/><circle cx="486.9" cy="24.2" r="2.27" fill="#d8d8d8" fill-opacity="0.62"/><circle cx="490.6" cy="53.3" r="1.61" fill="#dedede" fill-opacity="0.73"/><circle cx="447.6" cy="76.0" r="2.08" fill="#d8d8d8" fill-opacity="0.97"/><circle cx="453.0" cy="95.1" r="2.00" fill="#d8d8d8" fill-opacity="0.77"/><circle cx="411.6" cy="113.0" r="1.81" fill="#d8d8d8" fill-opacity="0.62"/><circle cx="414.0" cy="83.8" r="2.24" fill="#dedede" fill-opacity="0.74"/><circle cx="424.8" cy="54.7" r="2.35" fill="#d8d8d8" fill-opacity="0.98"/><circle cx="410.5" cy="72.8" r="1.57" fill="#d8d8d8" fill-opacity="0.78"/><circle cx="407.9" cy="20.8" r="1.82" fill="#dedede" fill-opacity="0.69"/><circle cx="419.6" cy="37.1" r="2.07" fill="#d8d8d8" fill-opacity="0.92"/><circle cx="427.1" cy="92.6" r="2.53" fill="#dedede" fill-opacity="0.94"/><circle cx="471.3" cy="70.0" r="1.37" fill="#d8d8d8" fill-opacity="0.76"/><circle cx="499.4" cy="78.0" r="2.54" fill="#dedede" fill-opacity="0.90"/><circle cx="487.0" cy="31.0" r="1.58" fill="#d8d8d8" fill-opacity="0.81"/><circle cx="406.2" cy="45.9" r="1.40" fill="#dedede" fill-opacity="0.71"/><circle cx="412.3" cy="73.0" r="2.58" fill="#d8d8d8" fill-opacity="0.87"/><circle cx="479.7" cy="93.9" r="2.07" fill="#d8d8d8" fill-opacity="0.67"/><circle cx="424.8" cy="31.4" r="1.62" fill="#d8d8d8" fill-opacity="0.70"/><circle cx="494.0" cy="49.8" r="2.53" fill="#dedede" fill-opacity="0.70"/><circle cx="407.2" cy="72.1" r="2.46" fill="#d8d8d8" fill-opacity="1.00"/><circle cx="494.0" cy="57.8" r="1.32" fill="#dedede" fill-opacity="0.84"/><circle cx="470.4" cy="90.3" r="2.30" fill="#d8d8d8" fill-opacity="0.89"/><circle cx="451.5" cy="120.8" r="2.12" fill="#d8d8d8" fill-opacity="0.91"/><circle cx="446.0" cy="57.0" r="2.54" fill="#dedede" fill-opacity="0.87"/><circle cx="489.6" cy="57.1" r="1.29" fill="#dedede" fill-opacity="0.87"/><circle cx="468.0" cy="82.2" r="1.33" fill="#d8d8d8" fill-opacity="1.00"/><circle cx="426.1" cy="27.7" r="1.70" fill="#d8d8d8" fill-opacity="0.93"/><circle cx="443.4" cy="40.2" r="1.97" fill="#dedede" fill-opacity="0.61"/><circle cx="485.5" cy="84.9" r="2.25" fill="#d8d8d8" fill-opacity="0.63"/><circle cx="414.5" cy="115.2" r="2.57" fill="#d8d8d8" fill-opacity="0.81"/><circle cx="476.6" cy="66.6" r="1.96" fill="#d8d8d8" fill-opacity="0.88"/><circle cx="444.2" cy="111.9" r="2.30" fill="#d8d8d8" fill-opacity="0.65"/><circle cx="433.7" cy="75.9" r="1.65" fill="#dedede" fill-opacity="0.93"/><circle cx="466.6" cy="44.9" r="1.29" fill="#d8d8d8" fill-opacity="0.72"/><circle cx="438.6" cy="107.9" r="2.09" fill="#dedede" fill-opacity="0.81"/><circle cx="436.3" cy="116.1" r="1.51" fill="#dedede" fill-opacity="0.75"/><circle cx="501.0" cy="43.2" r="1.72" fill="#dedede" fill-opacity="0.63"/><circle cx="425.1" cy="113.3" r="1.71" fill="#d8d8d8" fill-opacity="0.86"/><circle cx="489.2" cy="43.6" r="2.16" fill="#dedede" fill-opacity="0.61"/><circle cx="423.6" cy="34.9" r="2.38" fill="#d8d8d8" fill-opacity="0.62"/><circle cx="466.4" cy="96.8" r="2.43" fill="#dedede" fill-opacity="0.91"/><circle cx="490.8" cy="28.2" r="2.58" fill="#d8d8d8" fill-opacity="0.92"/><circle cx="409.9" cy="103.9" r="1.52" fill="#d8d8d8" fill-opacity="0.67"/><circle cx="466.4" cy="110.8" r="1.50" fill="#d8d8d8" fill-opacity="0.77"/><circle cx="497.5" cy="72.0" r="1.40" fill="#d8d8d8" fill-opacity="0.90"/><circle cx="505.5" cy="98.9" r="1.91" fill="#d8d8d8" fill-opacity="0.65"/><circle cx="405.8" cy="46.7" r="2.53" fill="#d8d8d8" fill-opacity="0.82"/><circle cx="438.0" cy="79.3" r="1.95" fill="#dedede" fill-opacity="0.89"/><circle cx="444.3" cy="108.8" r="1.27" fill="#d8d8d8" fill-opacity="0.94"/><circle cx="429.1" cy="48.0" r="2.01" fill="#d8d8d8" fill-opacity="0.83"/><circle cx="481.2" cy="38.9" r="2.42" fill="#d8d8d8" fill-opacity="0.86"/><circle cx="411.3" cy="31.2" r="1.44" fill="#dedede" fill-opacity="0.63"/><circle cx="463.7" cy="43.9" r="2.19" fill="#dedede" fill-opacity="0.69"/><circle cx="443.2" cy="50.4" r="1.99" fill="#dedede" fill-opacity="0.71"/><circle cx="459.2" cy="106.6" r="2.29" fill="#dedede" fill-opacity="0.80"/><circle cx="505.8" cy="113.7" r="2.34" fill="#dedede" fill-opacity="0.84"/><circle cx="454.8" cy="87.0" r="1.48" fill="#d8d8d8" fill-opacity="0.80"/><circle cx="467.5" cy="55.8" r="1.61" fill="#dedede" fill-opacity="0.63"/><circle cx="447.8" cy="66.3" r="2.05" fill="#d8d8d8" fill-opacity="0.89"/><circle cx="466.2" cy="72.3" r="1.31" fill="#d8d8d8" fill-opacity="0.76"/><circle cx="484.1" cy="114.5" r="2.33" fill="#dedede" fill-opacity="0.98"/><circle cx="473.7" cy="76.6" r="1.88" fill="#dedede" fill-opacity="0.93"/><circle cx="498.4" cy="66.4" r="1.51" fill="#d8d8d8" fill-opacity="0.91"/><circle cx="472.8" cy="100.3" r="2.07" fill="#dedede" fill-opacity="0.76"/><circle cx="422.6" cy="114.0" r="1.35" fill="#dedede" fill-opacity="0.86"/><circle cx="476.7" cy="37.8" r="1.83" fill="#d8d8d8" fill-opacity="0.69"/><circle cx="431.9" cy="119.6" r="2.38" fill="#d8d8d8" fill-opacity="0.86"/><circle cx="461.4" cy="115.0" r="2.17" fill="#d8d8d8" fill-opacity="0.98"/><circle cx="488.5" cy="62.0" r="1.35" fill="#d8d8d8" fill-opacity="0.75"/><circle cx="466.1" cy="44.2" r="1.22" fill="#d8d8d8" fill-opacity="0.97"/><circle cx="448.7" cy="71.3" r="1.38" fill="#dedede" fill-opacity="0.87"/><circle cx="486.3" cy="48.0" r="2.54" fill="#dedede" fill-opacity="0.81"/><circle cx="431.8" cy="27.7" r="1.56" fill="#d8d8d8" fill-opacity="0.90"/><circle cx="469.2" cy="26.5" r="2.50" fill="#dedede" fill-opacity="0.96"/><circle cx="476.2" cy="20.7" r="1.82" fill="#d8d8d8" fill-opacity="0.95"/><circle cx="490.4" cy="83.3" r="1.57" fill="#d8d8d8" fill-opacity="0.74"/><circle cx="414.3" cy="100.8" r="2.43" fill="#d8d8d8" fill-opacity="0.69"/><circle cx="469.6" cy="45.7" r="1.76" fill="#d8d8d8" fill-opacity="0.91"/><circle cx="454.7" cy="88.6" r="1.59" fill="#dedede" fill-opacity="0.70"/><circle cx="449.1" cy="83.9" r="2.57" fill="#d8d8d8" fill-opacity="0.76"/><circle cx="421.4" cy="100.5" r="2.11" fill="#dedede" fill-opacity="0.77"/><circle cx="490.5" cy="51.5" r="2.53" fill="#dedede" fill-opacity="0.76"/><circle cx="493.7" cy="47.6" r="1.22" fill="#dedede" fill-opacity="0.80"/><circle cx="459.9" cy="81.1" r="2.39" fill="#dedede" fill-opacity="0.87"/><circle cx="498.3" cy="69.6" r="2.27" fill="#d8d8d8" fill-opacity="0.62"/><circle cx="450.6" cy="40.8" r="2.36" fill="#dedede" fill-opacity="0.61"/><circle cx="486.6" cy="39.6" r="2.36" fill="#d8d8d8" fill-opacity="0.62"/><circle cx="426.3" cy="62.9" r="1.28" fill="#d8d8d8" fill-opacity="0.77"/><circle cx="418.2" cy="41.9" r="2.16" fill="#dedede" fill-opacity="0.93"/><circle cx="480.9" cy="76.8" r="2.25" fill="#dedede" fill-opacity="0.80"/><circle cx="413.2" cy="58.9" r="1.21" fill="#d8d8d8" fill-opacity="0.70"/><circle cx="498.3" cy="107.6" r="1.46" fill="#d8d8d8" fill-opacity="0.63"/><circle cx="439.4" cy="63.0" r="1.97" fill="#dedede" fill-opacity="0.80"/><circle cx="408.3" cy="69.5" r="1.74" fill="#d8d8d8" fill-opacity="0.67"/><circle cx="451.1" cy="70.9" r="1.89" fill="#d8d8d8" fill-opacity="0.66"/><circle cx="450.3" cy="44.0" r="1.48" fill="#dedede" fill-opacity="0.65"/><circle cx="423.0" cy="120.9" r="1.93" fill="#d8d8d8" fill-opacity="0.91"/><circle cx="500.7" cy="97.2" r="2.30" fill="#dedede" fill-opacity="0.82"/><circle cx="476.0" cy="87.1" r="1.76" fill="#d8d8d8" fill-opacity="0.80"/><circle cx="406.2" cy="119.0" r="1.73" fill="#dedede" fill-opacity="0.74"/><circle cx="444.5" cy="95.8" r="2.17" fill="#d8d8d8" fill-opacity="0.62"/><circle cx="456.0" cy="100.2" r="1.57" fill="#dedede" fill-opacity="0.81"/></g>
<g filter="url(#bl05)"><circle cx="485.1" cy="103.0" r="0.94" fill="#f4f4f4" fill-opacity="0.61"/><circle cx="419.7" cy="79.2" r="1.28" fill="#e6e6e6" fill-opacity="0.75"/><circle cx="482.8" cy="47.5" r="1.16" fill="#e6e6e6" fill-opacity="0.95"/><circle cx="497.0" cy="74.5" r="0.67" fill="#e6e6e6" fill-opacity="0.82"/><circle cx="486.3" cy="46.8" r="1.16" fill="#e6e6e6" fill-opacity="0.64"/><circle cx="447.9" cy="120.0" r="0.85" fill="#f4f4f4" fill-opacity="0.92"/><circle cx="450.0" cy="29.5" r="0.74" fill="#e6e6e6" fill-opacity="0.92"/><circle cx="414.9" cy="24.6" r="1.23" fill="#e6e6e6" fill-opacity="0.97"/><circle cx="454.2" cy="104.1" r="0.74" fill="#e6e6e6" fill-opacity="0.86"/><circle cx="475.5" cy="101.4" r="1.28" fill="#ffffff" fill-opacity="0.85"/><circle cx="429.7" cy="63.4" r="0.85" fill="#ffffff" fill-opacity="0.64"/><circle cx="493.9" cy="73.1" r="0.68" fill="#e6e6e6" fill-opacity="0.71"/><circle cx="477.6" cy="58.4" r="0.76" fill="#e6e6e6" fill-opacity="0.68"/><circle cx="492.4" cy="90.5" r="0.61" fill="#ffffff" fill-opacity="0.61"/><circle cx="438.6" cy="111.3" r="1.03" fill="#f4f4f4" fill-opacity="0.75"/><circle cx="458.3" cy="49.2" r="1.08" fill="#f4f4f4" fill-opacity="0.62"/><circle cx="447.7" cy="95.4" r="0.88" fill="#f4f4f4" fill-opacity="0.70"/><circle cx="503.9" cy="110.1" r="1.07" fill="#f4f4f4" fill-opacity="0.78"/><circle cx="489.0" cy="100.4" r="0.96" fill="#f4f4f4" fill-opacity="0.72"/><circle cx="487.5" cy="115.0" r="0.73" fill="#e6e6e6" fill-opacity="0.71"/><circle cx="454.3" cy="99.2" r="0.72" fill="#ffffff" fill-opacity="0.82"/><circle cx="430.4" cy="101.0" r="0.73" fill="#e6e6e6" fill-opacity="0.78"/><circle cx="498.7" cy="45.7" r="0.89" fill="#f4f4f4" fill-opacity="0.84"/><circle cx="432.1" cy="67.9" r="0.93" fill="#ffffff" fill-opacity="0.89"/><circle cx="455.2" cy="84.1" r="0.93" fill="#f4f4f4" fill-opacity="0.86"/><circle cx="503.0" cy="113.2" r="0.86" fill="#e6e6e6" fill-opacity="0.71"/><circle cx="470.3" cy="118.5" r="1.11" fill="#ffffff" fill-opacity="0.97"/><circle cx="434.4" cy="20.6" r="0.91" fill="#ffffff" fill-opacity="0.67"/><circle cx="466.6" cy="77.5" r="1.08" fill="#f4f4f4" fill-opacity="0.74"/><circle cx="499.8" cy="106.2" r="0.64" fill="#ffffff" fill-opacity="0.66"/><circle cx="432.2" cy="21.5" r="1.16" fill="#e6e6e6" fill-opacity="0.80"/><circle cx="452.4" cy="30.1" r="0.85" fill="#ffffff" fill-opacity="0.87"/><circle cx="429.6" cy="52.2" r="0.63" fill="#e6e6e6" fill-opacity="0.64"/><circle cx="415.6" cy="85.2" r="0.92" fill="#ffffff" fill-opacity="0.85"/><circle cx="475.8" cy="32.8" r="1.18" fill="#ffffff" fill-opacity="0.66"/><circle cx="468.7" cy="46.8" r="1.19" fill="#e6e6e6" fill-opacity="0.78"/><circle cx="475.1" cy="99.9" r="0.70" fill="#ffffff" fill-opacity="0.96"/><circle cx="449.5" cy="98.6" r="0.91" fill="#f4f4f4" fill-opacity="0.79"/><circle cx="463.5" cy="104.0" r="0.80" fill="#f4f4f4" fill-opacity="0.71"/><circle cx="499.9" cy="28.5" r="1.20" fill="#f4f4f4" fill-opacity="0.71"/><circle cx="452.8" cy="64.9" r="0.86" fill="#e6e6e6" fill-opacity="0.63"/><circle cx="487.5" cy="84.5" r="0.97" fill="#ffffff" fill-opacity="0.90"/><circle cx="439.0" cy="23.2" r="1.27" fill="#e6e6e6" fill-opacity="0.91"/><circle cx="500.9" cy="90.8" r="0.84" fill="#ffffff" fill-opacity="0.66"/><circle cx="473.3" cy="60.4" r="0.69" fill="#e6e6e6" fill-opacity="0.80"/><circle cx="412.6" cy="27.5" r="0.96" fill="#ffffff" fill-opacity="0.67"/><circle cx="476.5" cy="38.6" r="1.12" fill="#e6e6e6" fill-opacity="0.83"/><circle cx="444.2" cy="42.5" r="0.76" fill="#e6e6e6" fill-opacity="0.89"/><circle cx="417.7" cy="89.8" r="1.13" fill="#ffffff" fill-opacity="0.82"/><circle cx="405.5" cy="101.3" r="0.87" fill="#f4f4f4" fill-opacity="0.94"/><circle cx="458.2" cy="21.0" r="1.19" fill="#e6e6e6" fill-opacity="0.82"/><circle cx="471.9" cy="92.4" r="1.05" fill="#e6e6e6" fill-opacity="0.75"/><circle cx="472.3" cy="118.2" r="0.71" fill="#e6e6e6" fill-opacity="0.65"/><circle cx="412.5" cy="21.2" r="0.93" fill="#ffffff" fill-opacity="0.65"/><circle cx="476.8" cy="30.1" r="0.86" fill="#ffffff" fill-opacity="0.62"/><circle cx="427.7" cy="61.1" r="1.13" fill="#e6e6e6" fill-opacity="0.97"/><circle cx="434.6" cy="67.6" r="1.11" fill="#ffffff" fill-opacity="0.67"/><circle cx="471.8" cy="32.1" r="0.68" fill="#ffffff" fill-opacity="0.62"/><circle cx="497.9" cy="95.8" r="1.07" fill="#e6e6e6" fill-opacity="0.77"/><circle cx="476.5" cy="45.8" r="0.76" fill="#e6e6e6" fill-opacity="0.91"/><circle cx="484.5" cy="41.6" r="1.01" fill="#f4f4f4" fill-opacity="0.81"/><circle cx="478.9" cy="118.4" r="1.28" fill="#e6e6e6" fill-opacity="0.73"/><circle cx="457.3" cy="79.1" r="1.05" fill="#f4f4f4" fill-opacity="0.75"/><circle cx="416.8" cy="115.8" r="0.62" fill="#e6e6e6" fill-opacity="0.98"/><circle cx="449.0" cy="104.1" r="0.64" fill="#ffffff" fill-opacity="0.61"/><circle cx="439.0" cy="69.0" r="0.92" fill="#f4f4f4" fill-opacity="0.64"/><circle cx="464.7" cy="47.6" r="0.69" fill="#f4f4f4" fill-opacity="0.82"/><circle cx="429.5" cy="87.0" r="1.29" fill="#f4f4f4" fill-opacity="0.83"/><circle cx="468.3" cy="68.5" r="0.79" fill="#ffffff" fill-opacity="0.72"/><circle cx="408.3" cy="96.6" r="0.67" fill="#ffffff" fill-opacity="0.83"/><circle cx="500.8" cy="101.8" r="0.96" fill="#ffffff" fill-opacity="0.66"/><circle cx="444.7" cy="69.1" r="1.21" fill="#e6e6e6" fill-opacity="0.82"/><circle cx="485.3" cy="41.8" r="1.05" fill="#f4f4f4" fill-opacity="0.66"/><circle cx="497.8" cy="107.8" r="1.20" fill="#f4f4f4" fill-opacity="0.77"/><circle cx="437.3" cy="48.9" r="1.01" fill="#e6e6e6" fill-opacity="0.75"/><circle cx="405.5" cy="50.8" r="0.66" fill="#e6e6e6" fill-opacity="0.85"/><circle cx="428.4" cy="84.9" r="0.74" fill="#f4f4f4" fill-opacity="0.65"/><circle cx="497.0" cy="104.5" r="0.96" fill="#ffffff" fill-opacity="0.81"/><circle cx="483.4" cy="69.3" r="0.85" fill="#f4f4f4" fill-opacity="0.94"/><circle cx="464.8" cy="107.6" r="1.05" fill="#ffffff" fill-opacity="0.70"/><circle cx="409.2" cy="79.5" r="1.03" fill="#ffffff" fill-opacity="0.93"/><circle cx="456.2" cy="99.0" r="1.14" fill="#ffffff" fill-opacity="0.63"/><circle cx="489.1" cy="96.3" r="0.75" fill="#f4f4f4" fill-opacity="0.66"/><circle cx="478.5" cy="112.6" r="0.72" fill="#ffffff" fill-opacity="0.69"/><circle cx="417.7" cy="68.4" r="1.25" fill="#e6e6e6" fill-opacity="0.64"/><circle cx="467.0" cy="66.0" r="1.16" fill="#e6e6e6" fill-opacity="0.75"/><circle cx="419.6" cy="53.6" r="0.78" fill="#ffffff" fill-opacity="0.71"/><circle cx="405.2" cy="109.1" r="0.62" fill="#e6e6e6" fill-opacity="0.78"/><circle cx="411.2" cy="47.7" r="1.10" fill="#f4f4f4" fill-opacity="0.97"/><circle cx="438.9" cy="94.5" r="1.20" fill="#ffffff" fill-opacity="0.93"/><circle cx="419.9" cy="87.4" r="0.93" fill="#f4f4f4" fill-opacity="0.92"/><circle cx="500.5" cy="109.8" r="0.71" fill="#f4f4f4" fill-opacity="0.75"/><circle cx="495.2" cy="115.2" r="0.69" fill="#e6e6e6" fill-opacity="0.79"/><circle cx="412.1" cy="32.2" r="1.09" fill="#e6e6e6" fill-opacity="1.00"/><circle cx="492.0" cy="64.2" r="0.78" fill="#e6e6e6" fill-opacity="0.91"/><circle cx="434.7" cy="89.6" r="0.79" fill="#e6e6e6" fill-opacity="0.99"/><circle cx="477.6" cy="24.6" r="1.12" fill="#e6e6e6" fill-opacity="0.99"/><circle cx="503.1" cy="73.2" r="1.17" fill="#e6e6e6" fill-opacity="0.81"/><circle cx="422.2" cy="23.6" r="0.61" fill="#ffffff" fill-opacity="0.83"/><circle cx="424.3" cy="48.1" r="0.79" fill="#f4f4f4" fill-opacity="0.88"/><circle cx="494.1" cy="42.0" r="1.11" fill="#e6e6e6" fill-opacity="0.60"/><circle cx="487.3" cy="103.6" r="1.00" fill="#f4f4f4" fill-opacity="0.67"/><circle cx="498.4" cy="42.3" r="0.87" fill="#e6e6e6" fill-opacity="0.85"/><circle cx="417.4" cy="94.1" r="1.28" fill="#ffffff" fill-opacity="0.83"/><circle cx="467.5" cy="81.5" r="0.79" fill="#e6e6e6" fill-opacity="0.99"/><circle cx="410.7" cy="86.9" r="0.95" fill="#e6e6e6" fill-opacity="0.70"/><circle cx="431.8" cy="118.0" r="0.81" fill="#f4f4f4" fill-opacity="0.90"/><circle cx="414.5" cy="97.3" r="0.89" fill="#e6e6e6" fill-opacity="0.66"/><circle cx="433.0" cy="85.6" r="0.82" fill="#e6e6e6" fill-opacity="0.99"/><circle cx="410.8" cy="87.2" r="0.64" fill="#f4f4f4" fill-opacity="0.81"/><circle cx="422.8" cy="46.6" r="0.60" fill="#f4f4f4" fill-opacity="0.89"/><circle cx="439.9" cy="60.8" r="1.09" fill="#e6e6e6" fill-opacity="0.63"/><circle cx="416.6" cy="101.0" r="0.91" fill="#f4f4f4" fill-opacity="0.96"/><circle cx="429.3" cy="21.5" r="0.64" fill="#e6e6e6" fill-opacity="0.82"/><circle cx="443.4" cy="42.2" r="0.81" fill="#e6e6e6" fill-opacity="0.95"/><circle cx="496.0" cy="30.8" r="1.16" fill="#ffffff" fill-opacity="0.82"/><circle cx="408.1" cy="46.0" r="0.75" fill="#e6e6e6" fill-opacity="0.71"/><circle cx="422.7" cy="33.6" r="0.67" fill="#ffffff" fill-opacity="0.92"/><circle cx="465.1" cy="110.1" r="1.23" fill="#f4f4f4" fill-opacity="0.84"/><circle cx="454.3" cy="52.6" r="1.03" fill="#ffffff" fill-opacity="0.92"/><circle cx="458.7" cy="42.3" r="1.18" fill="#f4f4f4" fill-opacity="0.69"/><circle cx="440.5" cy="77.0" r="1.05" fill="#e6e6e6" fill-opacity="0.94"/><circle cx="491.3" cy="77.5" r="0.76" fill="#ffffff" fill-opacity="0.76"/><circle cx="445.1" cy="78.3" r="0.68" fill="#e6e6e6" fill-opacity="0.61"/><circle cx="436.8" cy="101.2" r="1.05" fill="#f4f4f4" fill-opacity="0.75"/><circle cx="441.4" cy="92.0" r="0.86" fill="#ffffff" fill-opacity="0.76"/><circle cx="464.5" cy="50.8" r="1.01" fill="#f4f4f4" fill-opacity="0.70"/><circle cx="451.6" cy="78.2" r="0.86" fill="#f4f4f4" fill-opacity="0.87"/><circle cx="452.3" cy="53.1" r="0.92" fill="#f4f4f4" fill-opacity="0.60"/><circle cx="494.4" cy="81.3" r="0.94" fill="#e6e6e6" fill-opacity="0.62"/><circle cx="407.6" cy="93.9" r="1.18" fill="#e6e6e6" fill-opacity="0.74"/><circle cx="441.6" cy="112.0" r="0.94" fill="#ffffff" fill-opacity="0.76"/><circle cx="465.6" cy="23.0" r="1.17" fill="#ffffff" fill-opacity="0.85"/><circle cx="459.2" cy="103.8" r="1.03" fill="#f4f4f4" fill-opacity="0.93"/><circle cx="444.0" cy="91.8" r="0.60" fill="#f4f4f4" fill-opacity="0.77"/><circle cx="422.7" cy="105.6" r="0.85" fill="#ffffff" fill-opacity="0.82"/><circle cx="425.7" cy="98.3" r="1.18" fill="#f4f4f4" fill-opacity="0.86"/><circle cx="461.8" cy="68.8" r="1.25" fill="#f4f4f4" fill-opacity="0.68"/><circle cx="442.8" cy="34.5" r="0.75" fill="#ffffff" fill-opacity="0.95"/><circle cx="432.2" cy="42.3" r="0.93" fill="#ffffff" fill-opacity="0.75"/><circle cx="481.3" cy="84.4" r="0.80" fill="#ffffff" fill-opacity="0.90"/><circle cx="496.2" cy="25.6" r="0.74" fill="#f4f4f4" fill-opacity="0.99"/><circle cx="458.4" cy="112.7" r="1.07" fill="#e6e6e6" fill-opacity="0.98"/><circle cx="498.0" cy="115.3" r="1.05" fill="#e6e6e6" fill-opacity="0.63"/><circle cx="473.2" cy="87.4" r="0.74" fill="#ffffff" fill-opacity="0.81"/><circle cx="462.5" cy="118.3" r="1.22" fill="#ffffff" fill-opacity="0.78"/><circle cx="482.5" cy="97.8" r="0.61" fill="#f4f4f4" fill-opacity="0.69"/><circle cx="462.3" cy="35.2" r="0.60" fill="#f4f4f4" fill-opacity="0.64"/><circle cx="456.7" cy="41.7" r="0.75" fill="#f4f4f4" fill-opacity="0.82"/><circle cx="459.8" cy="95.9" r="1.25" fill="#ffffff" fill-opacity="0.77"/><circle cx="492.8" cy="107.2" r="1.23" fill="#ffffff" fill-opacity="0.87"/><circle cx="425.1" cy="90.9" r="0.80" fill="#f4f4f4" fill-opacity="0.88"/><circle cx="471.5" cy="117.9" r="0.75" fill="#f4f4f4" fill-opacity="0.69"/><circle cx="448.6" cy="96.3" r="1.06" fill="#f4f4f4" fill-opacity="0.75"/><circle cx="441.1" cy="63.6" r="0.97" fill="#f4f4f4" fill-opacity="0.91"/><circle cx="466.1" cy="86.0" r="0.78" fill="#ffffff" fill-opacity="0.84"/><circle cx="455.6" cy="83.6" r="0.61" fill="#ffffff" fill-opacity="0.69"/><circle cx="430.8" cy="81.0" r="1.28" fill="#e6e6e6" fill-opacity="0.72"/><circle cx="502.7" cy="104.5" r="0.63" fill="#f4f4f4" fill-opacity="0.65"/><circle cx="437.7" cy="107.8" r="0.98" fill="#ffffff" fill-opacity="0.97"/><circle cx="432.3" cy="98.9" r="0.69" fill="#e6e6e6" fill-opacity="0.73"/><circle cx="480.0" cy="73.5" r="0.85" fill="#ffffff" fill-opacity="0.83"/><circle cx="497.1" cy="44.5" r="1.04" fill="#ffffff" fill-opacity="0.68"/><circle cx="448.5" cy="110.8" r="1.03" fill="#f4f4f4" fill-opacity="0.96"/><circle cx="498.4" cy="78.2" r="0.89" fill="#e6e6e6" fill-opacity="0.90"/><circle cx="410.5" cy="38.8" r="0.99" fill="#e6e6e6" fill-opacity="0.69"/><circle cx="501.0" cy="49.5" r="0.78" fill="#e6e6e6" fill-opacity="0.74"/><circle cx="433.8" cy="98.8" r="0.71" fill="#ffffff" fill-opacity="0.83"/><circle cx="461.3" cy="25.5" r="0.66" fill="#e6e6e6" fill-opacity="0.62"/><circle cx="442.7" cy="60.9" r="0.96" fill="#ffffff" fill-opacity="0.77"/><circle cx="464.7" cy="62.7" r="1.23" fill="#f4f4f4" fill-opacity="0.75"/><circle cx="461.6" cy="80.3" r="0.77" fill="#e6e6e6" fill-opacity="0.64"/><circle cx="499.3" cy="62.8" r="0.96" fill="#ffffff" fill-opacity="0.85"/><circle cx="450.4" cy="78.5" r="1.24" fill="#ffffff" fill-opacity="0.64"/><circle cx="412.3" cy="110.5" r="0.74" fill="#e6e6e6" fill-opacity="0.98"/><circle cx="429.5" cy="74.6" r="0.85" fill="#ffffff" fill-opacity="0.94"/><circle cx="408.5" cy="20.7" r="1.22" fill="#e6e6e6" fill-opacity="0.91"/><circle cx="504.8" cy="118.5" r="0.68" fill="#f4f4f4" fill-opacity="0.66"/><circle cx="406.5" cy="86.6" r="1.06" fill="#f4f4f4" fill-opacity="0.70"/><circle cx="419.7" cy="58.2" r="1.26" fill="#ffffff" fill-opacity="0.73"/><circle cx="475.8" cy="41.9" r="1.18" fill="#e6e6e6" fill-opacity="0.76"/><circle cx="479.9" cy="24.9" r="0.81" fill="#e6e6e6" fill-opacity="0.85"/><circle cx="489.7" cy="94.0" r="1.00" fill="#ffffff" fill-opacity="0.85"/><circle cx="438.2" cy="118.7" r="0.86" fill="#f4f4f4" fill-opacity="0.71"/><circle cx="448.6" cy="112.2" r="0.91" fill="#f4f4f4" fill-opacity="0.68"/><circle cx="464.2" cy="108.0" r="0.79" fill="#ffffff" fill-opacity="0.74"/><circle cx="488.8" cy="118.8" r="1.18" fill="#e6e6e6" fill-opacity="0.62"/><circle cx="478.2" cy="31.5" r="1.19" fill="#e6e6e6" fill-opacity="0.74"/><circle cx="447.7" cy="32.7" r="0.61" fill="#ffffff" fill-opacity="0.71"/><circle cx="491.0" cy="115.2" r="0.76" fill="#ffffff" fill-opacity="0.84"/><circle cx="474.8" cy="21.1" r="1.11" fill="#e6e6e6" fill-opacity="0.91"/><circle cx="412.2" cy="22.5" r="0.85" fill="#e6e6e6" fill-opacity="0.66"/><circle cx="497.7" cy="65.4" r="0.70" fill="#e6e6e6" fill-opacity="0.91"/><circle cx="433.1" cy="77.0" r="0.87" fill="#f4f4f4" fill-opacity="0.91"/><circle cx="452.4" cy="84.8" r="1.14" fill="#e6e6e6" fill-opacity="0.85"/><circle cx="466.2" cy="117.3" r="1.28" fill="#e6e6e6" fill-opacity="0.99"/><circle cx="434.6" cy="20.1" r="0.81" fill="#ffffff" fill-opacity="0.85"/><circle cx="462.4" cy="94.7" r="0.85" fill="#e6e6e6" fill-opacity="0.89"/><circle cx="425.3" cy="55.0" r="0.88" fill="#f4f4f4" fill-opacity="0.91"/><circle cx="416.2" cy="45.5" r="0.68" fill="#e6e6e6" fill-opacity="0.77"/><circle cx="438.4" cy="112.7" r="0.77" fill="#f4f4f4" fill-opacity="0.95"/><circle cx="476.0" cy="37.4" r="0.62" fill="#ffffff" fill-opacity="0.93"/><circle cx="437.0" cy="64.4" r="1.17" fill="#ffffff" fill-opacity="0.66"/><circle cx="433.0" cy="50.0" r="0.75" fill="#f4f4f4" fill-opacity="0.81"/><circle cx="432.6" cy="35.8" r="0.64" fill="#ffffff" fill-opacity="0.70"/><circle cx="416.8" cy="72.6" r="0.98" fill="#f4f4f4" fill-opacity="0.73"/><circle cx="457.8" cy="27.5" r="0.79" fill="#ffffff" fill-opacity="0.69"/><circle cx="492.9" cy="117.4" r="0.87" fill="#e6e6e6" fill-opacity="0.73"/><circle cx="422.8" cy="41.4" r="0.68" fill="#e6e6e6" fill-opacity="0.91"/><circle cx="475.5" cy="39.4" r="0.66" fill="#f4f4f4" fill-opacity="0.99"/><circle cx="429.8" cy="86.1" r="0.61" fill="#f4f4f4" fill-opacity="0.90"/><circle cx="472.4" cy="119.8" r="0.62" fill="#e6e6e6" fill-opacity="0.65"/><circle cx="500.2" cy="20.9" r="0.82" fill="#e6e6e6" fill-opacity="0.88"/><circle cx="452.3" cy="45.1" r="0.89" fill="#f4f4f4" fill-opacity="0.61"/><circle cx="501.3" cy="99.4" r="0.61" fill="#ffffff" fill-opacity="0.60"/><circle cx="487.7" cy="27.1" r="1.28" fill="#ffffff" fill-opacity="0.81"/><circle cx="454.8" cy="45.2" r="1.29" fill="#e6e6e6" fill-opacity="0.92"/><circle cx="481.5" cy="77.7" r="1.06" fill="#e6e6e6" fill-opacity="0.74"/><circle cx="493.4" cy="82.8" r="0.62" fill="#f4f4f4" fill-opacity="0.85"/><circle cx="428.7" cy="38.7" r="0.68" fill="#e6e6e6" fill-opacity="0.89"/><circle cx="496.6" cy="45.9" r="1.23" fill="#e6e6e6" fill-opacity="0.69"/><circle cx="465.8" cy="106.8" r="1.19" fill="#ffffff" fill-opacity="0.77"/><circle cx="439.1" cy="112.8" r="1.20" fill="#ffffff" fill-opacity="0.65"/><circle cx="417.6" cy="108.7" r="1.03" fill="#ffffff" fill-opacity="0.76"/><circle cx="418.2" cy="85.8" r="1.04" fill="#e6e6e6" fill-opacity="0.96"/><circle cx="407.6" cy="21.1" r="1.24" fill="#ffffff" fill-opacity="0.97"/><circle cx="435.8" cy="64.1" r="0.98" fill="#f4f4f4" fill-opacity="0.63"/><circle cx="440.1" cy="27.6" r="0.98" fill="#f4f4f4" fill-opacity="0.77"/><circle cx="442.5" cy="75.7" r="1.26" fill="#f4f4f4" fill-opacity="0.91"/><circle cx="488.8" cy="109.8" r="0.68" fill="#f4f4f4" fill-opacity="0.87"/><circle cx="496.3" cy="82.2" r="0.81" fill="#f4f4f4" fill-opacity="0.76"/><circle cx="422.7" cy="62.4" r="0.80" fill="#f4f4f4" fill-opacity="0.94"/><circle cx="475.6" cy="87.0" r="1.03" fill="#ffffff" fill-opacity="0.69"/><circle cx="405.1" cy="23.1" r="1.12" fill="#ffffff" fill-opacity="0.78"/><circle cx="447.8" cy="56.8" r="0.86" fill="#ffffff" fill-opacity="0.97"/><circle cx="459.1" cy="31.4" r="0.96" fill="#e6e6e6" fill-opacity="0.94"/><circle cx="474.2" cy="34.2" r="0.95" fill="#f4f4f4" fill-opacity="0.95"/><circle cx="428.4" cy="119.1" r="1.30" fill="#ffffff" fill-opacity="0.70"/><circle cx="413.6" cy="110.4" r="0.80" fill="#f4f4f4" fill-opacity="0.99"/><circle cx="478.0" cy="38.4" r="1.19" fill="#f4f4f4" fill-opacity="0.93"/><circle cx="414.7" cy="110.6" r="1.16" fill="#e6e6e6" fill-opacity="0.71"/><circle cx="495.7" cy="41.9" r="0.76" fill="#ffffff" fill-opacity="0.81"/><circle cx="414.0" cy="81.9" r="1.21" fill="#f4f4f4" fill-opacity="0.93"/><circle cx="433.0" cy="94.1" r="0.98" fill="#e6e6e6" fill-opacity="0.80"/><circle cx="415.7" cy="66.8" r="0.91" fill="#f4f4f4" fill-opacity="0.81"/><circle cx="504.3" cy="24.5" r="1.02" fill="#e6e6e6" fill-opacity="0.77"/><circle cx="473.4" cy="48.7" r="0.74" fill="#f4f4f4" fill-opacity="0.66"/><circle cx="435.6" cy="77.4" r="1.27" fill="#e6e6e6" fill-opacity="0.67"/><circle cx="464.4" cy="120.3" r="0.77" fill="#e6e6e6" fill-opacity="0.62"/><circle cx="449.7" cy="54.3" r="0.86" fill="#ffffff" fill-opacity="0.94"/><circle cx="433.4" cy="105.6" r="0.68" fill="#ffffff" fill-opacity="0.87"/><circle cx="503.3" cy="59.3" r="1.22" fill="#f4f4f4" fill-opacity="1.00"/><circle cx="480.2" cy="97.2" r="1.15" fill="#f4f4f4" fill-opacity="0.87"/><circle cx="472.7" cy="86.0" r="1.26" fill="#e6e6e6" fill-opacity="0.89"/><circle cx="487.5" cy="20.8" r="1.09" fill="#f4f4f4" fill-opacity="0.72"/><circle cx="455.7" cy="106.8" r="0.82" fill="#e6e6e6" fill-opacity="0.71"/><circle cx="444.6" cy="21.4" r="1.05" fill="#e6e6e6" fill-opacity="0.69"/><circle cx="407.2" cy="111.1" r="0.61" fill="#ffffff" fill-opacity="0.67"/><circle cx="418.1" cy="46.4" r="1.21" fill="#e6e6e6" fill-opacity="0.85"/><circle cx="405.9" cy="70.5" r="0.62" fill="#e6e6e6" fill-opacity="0.95"/><circle cx="464.7" cy="113.7" r="0.71" fill="#ffffff" fill-opacity="0.62"/><circle cx="484.0" cy="59.6" r="0.99" fill="#e6e6e6" fill-opacity="0.67"/><circle cx="492.4" cy="81.1" r="1.25" fill="#e6e6e6" fill-opacity="0.95"/><circle cx="455.7" cy="40.4" r="0.81" fill="#e6e6e6" fill-opacity="0.71"/><circle cx="419.9" cy="110.2" r="1.12" fill="#f4f4f4" fill-opacity="0.96"/><circle cx="435.3" cy="70.4" r="0.73" fill="#ffffff" fill-opacity="0.96"/><circle cx="476.9" cy="54.6" r="1.14" fill="#f4f4f4" fill-opacity="0.80"/><circle cx="443.5" cy="114.8" r="0.91" fill="#ffffff" fill-opacity="0.81"/><circle cx="474.5" cy="85.4" r="0.92" fill="#ffffff" fill-opacity="0.75"/><circle cx="418.5" cy="86.5" r="0.93" fill="#f4f4f4" fill-opacity="0.79"/><circle cx="450.5" cy="92.0" r="1.16" fill="#e6e6e6" fill-opacity="0.63"/><circle cx="452.3" cy="89.9" r="0.85" fill="#f4f4f4" fill-opacity="0.94"/><circle cx="462.1" cy="109.0" r="1.26" fill="#ffffff" fill-opacity="0.93"/><circle cx="419.7" cy="91.6" r="1.10" fill="#e6e6e6" fill-opacity="0.90"/><circle cx="471.0" cy="87.1" r="1.09" fill="#e6e6e6" fill-opacity="0.79"/><circle cx="426.7" cy="106.5" r="0.93" fill="#ffffff" fill-opacity="0.66"/><circle cx="406.2" cy="50.5" r="0.79" fill="#f4f4f4" fill-opacity="0.60"/><circle cx="443.2" cy="81.9" r="0.81" fill="#f4f4f4" fill-opacity="0.93"/><circle cx="412.1" cy="50.5" r="1.25" fill="#ffffff" fill-opacity="0.66"/><circle cx="426.7" cy="93.5" r="0.89" fill="#ffffff" fill-opacity="0.68"/><circle cx="410.5" cy="91.8" r="0.61" fill="#e6e6e6" fill-opacity="0.68"/><circle cx="451.9" cy="20.4" r="0.85" fill="#ffffff" fill-opacity="0.63"/><circle cx="450.4" cy="26.0" r="0.71" fill="#f4f4f4" fill-opacity="0.61"/><circle cx="489.8" cy="60.2" r="1.21" fill="#ffffff" fill-opacity="0.83"/><circle cx="448.7" cy="30.0" r="0.66" fill="#e6e6e6" fill-opacity="0.78"/><circle cx="505.6" cy="85.9" r="0.72" fill="#e6e6e6" fill-opacity="0.75"/><circle cx="494.4" cy="93.3" r="1.18" fill="#ffffff" fill-opacity="0.78"/><circle cx="406.3" cy="31.5" r="0.63" fill="#f4f4f4" fill-opacity="0.63"/><circle cx="452.0" cy="101.6" r="0.86" fill="#f4f4f4" fill-opacity="0.67"/><circle cx="492.8" cy="71.3" r="0.86" fill="#f4f4f4" fill-opacity="0.93"/><circle cx="435.6" cy="86.5" r="1.13" fill="#ffffff" fill-opacity="0.84"/><circle cx="414.7" cy="99.2" r="0.91" fill="#ffffff" fill-opacity="0.75"/><circle cx="482.7" cy="32.1" r="1.00" fill="#f4f4f4" fill-opacity="0.67"/><circle cx="444.4" cy="79.3" r="0.75" fill="#ffffff" fill-opacity="1.00"/><circle cx="408.8" cy="29.2" r="1.10" fill="#e6e6e6" fill-opacity="0.73"/><circle cx="475.8" cy="27.0" r="0.68" fill="#ffffff" fill-opacity="0.81"/><circle cx="470.9" cy="78.9" r="1.24" fill="#ffffff" fill-opacity="0.72"/><circle cx="405.3" cy="86.0" r="0.74" fill="#ffffff" fill-opacity="0.84"/><circle cx="405.3" cy="81.5" r="1.11" fill="#f4f4f4" fill-opacity="0.73"/><circle cx="498.5" cy="94.9" r="1.30" fill="#ffffff" fill-opacity="0.69"/></g>
<path d="M423.0,35.0 C429.9,30.4 440.4,28.4 450.0,27.5 C459.6,26.6 473.1,27.8 480.4,29.5 C487.7,31.2 490.8,33.1 494.0,38.0 C497.2,42.9 499.5,51.5 499.5,58.8 C499.5,66.1 497.6,76.0 494.0,82.0 C490.4,88.0 483.0,92.0 478.0,95.0 C473.0,98.0 470.5,98.7 464.2,100.0 C457.9,101.3 447.4,103.8 440.0,103.0 C432.6,102.2 424.9,98.8 420.0,95.0 C415.1,91.2 412.4,86.7 410.5,80.0 C408.6,73.3 406.4,62.5 408.5,55.0 C410.6,47.5 416.1,39.6 423.0,35.0 Z" fill="#868686" filter="url(#bl1)"/>
<g clip-path="url(#cc2)">
<rect x="405" y="20" width="101" height="101" filter="url(#nDarkMid)" opacity="0.3"/>
<rect x="405" y="20" width="101" height="101" filter="url(#nLightMid)" opacity="0.25"/>
</g>
<g filter="url(#bl15)">
<circle cx="466" cy="74" r="9" fill="#a2a2a2" />
<circle cx="482" cy="90" r="5" fill="#aaa" />
<circle cx="418" cy="64" r="11" fill="#5a5a5a" />
<circle cx="438" cy="72" r="9" fill="#666" />
<circle cx="415.5" cy="69" r="7" fill="#151515" />
<circle cx="420.4" cy="46.5" r="3.8" fill="#3a3a3a" />
<circle cx="429.5" cy="60" r="4.5" fill="#333" />
<circle cx="437" cy="61.5" r="5" fill="#222" />
<circle cx="443" cy="78" r="4.5" fill="#2e2e2e" />
<circle cx="449" cy="76" r="3.5" fill="#3a3a3a" />
<circle cx="441" cy="87" r="3.5" fill="#4a4a4a" />
<circle cx="456" cy="33.3" r="3.2" fill="#3a3a3a" />
<circle cx="496.8" cy="32.3" r="3.2" fill="#2e2e2e" />
<circle cx="476.3" cy="83.2" r="3.8" fill="#3a3a3a" />
<circle cx="448" cy="45" r="3" fill="#6a6a6a" />
<circle cx="423" cy="80" r="3" fill="#444" />
</g>
<g filter="url(#bl05)" clip-path="url(#cc2)"><circle cx="437.7" cy="35.2" r="1.06" fill="#ddd" fill-opacity="0.73"/><circle cx="414.5" cy="78.9" r="1.24" fill="#ddd" fill-opacity="0.41"/><circle cx="448.8" cy="27.1" r="0.66" fill="#ccc" fill-opacity="0.42"/><circle cx="462.1" cy="115.7" r="1.04" fill="#ddd" fill-opacity="0.63"/><circle cx="445.1" cy="118.6" r="0.63" fill="#ddd" fill-opacity="0.52"/><circle cx="419.6" cy="31.9" r="0.82" fill="#ddd" fill-opacity="0.44"/><circle cx="462.7" cy="39.0" r="0.67" fill="#ddd" fill-opacity="0.63"/><circle cx="467.5" cy="70.1" r="0.97" fill="#ccc" fill-opacity="0.59"/><circle cx="498.3" cy="56.5" r="0.77" fill="#ddd" fill-opacity="0.68"/><circle cx="429.7" cy="78.0" r="0.97" fill="#ccc" fill-opacity="0.69"/><circle cx="434.1" cy="119.0" r="0.68" fill="#ccc" fill-opacity="0.47"/><circle cx="439.5" cy="114.3" r="0.90" fill="#ddd" fill-opacity="0.71"/><circle cx="462.9" cy="108.4" r="0.82" fill="#ccc" fill-opacity="0.64"/><circle cx="463.6" cy="66.1" r="1.19" fill="#ccc" fill-opacity="0.59"/><circle cx="472.1" cy="26.1" r="1.09" fill="#ccc" fill-opacity="0.51"/><circle cx="444.0" cy="87.5" r="0.62" fill="#ccc" fill-opacity="0.54"/><circle cx="466.7" cy="69.9" r="0.75" fill="#ccc" fill-opacity="0.45"/><circle cx="430.0" cy="59.5" r="1.21" fill="#ddd" fill-opacity="0.47"/><circle cx="445.6" cy="48.1" r="0.70" fill="#ccc" fill-opacity="0.75"/><circle cx="433.1" cy="61.9" r="0.85" fill="#ccc" fill-opacity="0.78"/><circle cx="420.2" cy="37.8" r="0.76" fill="#ddd" fill-opacity="0.40"/><circle cx="488.9" cy="38.4" r="0.80" fill="#ddd" fill-opacity="0.57"/><circle cx="442.3" cy="77.2" r="1.27" fill="#ddd" fill-opacity="0.58"/><circle cx="493.0" cy="116.1" r="1.08" fill="#ccc" fill-opacity="0.56"/><circle cx="444.8" cy="68.6" r="0.88" fill="#ddd" fill-opacity="0.43"/><circle cx="426.1" cy="36.4" r="0.84" fill="#ddd" fill-opacity="0.44"/><circle cx="462.2" cy="74.2" r="1.26" fill="#ddd" fill-opacity="0.43"/><circle cx="426.0" cy="58.0" r="1.04" fill="#ccc" fill-opacity="0.64"/><circle cx="452.9" cy="31.7" r="0.94" fill="#ccc" fill-opacity="0.59"/><circle cx="436.5" cy="34.6" r="1.12" fill="#ccc" fill-opacity="0.59"/><circle cx="474.9" cy="72.1" r="0.74" fill="#ccc" fill-opacity="0.46"/><circle cx="459.9" cy="22.7" r="0.97" fill="#ddd" fill-opacity="0.68"/><circle cx="431.4" cy="57.0" r="0.72" fill="#ddd" fill-opacity="0.61"/><circle cx="483.7" cy="53.3" r="0.76" fill="#ddd" fill-opacity="0.72"/><circle cx="487.7" cy="94.7" r="0.76" fill="#ccc" fill-opacity="0.54"/><circle cx="407.9" cy="22.8" r="0.80" fill="#ccc" fill-opacity="0.48"/><circle cx="466.1" cy="54.8" r="1.17" fill="#ccc" fill-opacity="0.78"/><circle cx="441.8" cy="42.3" r="0.76" fill="#ddd" fill-opacity="0.54"/><circle cx="453.7" cy="119.5" r="1.03" fill="#ddd" fill-opacity="0.59"/><circle cx="471.0" cy="100.8" r="0.66" fill="#ddd" fill-opacity="0.76"/><circle cx="484.0" cy="95.8" r="0.93" fill="#ddd" fill-opacity="0.57"/><circle cx="469.2" cy="28.8" r="1.26" fill="#ccc" fill-opacity="0.59"/><circle cx="480.1" cy="28.6" r="0.71" fill="#ddd" fill-opacity="0.41"/><circle cx="464.7" cy="67.0" r="1.06" fill="#ccc" fill-opacity="0.66"/><circle cx="440.4" cy="75.4" r="0.69" fill="#ddd" fill-opacity="0.72"/><circle cx="478.4" cy="30.4" r="1.12" fill="#ddd" fill-opacity="0.57"/><circle cx="493.0" cy="103.4" r="0.75" fill="#ccc" fill-opacity="0.49"/><circle cx="455.6" cy="97.1" r="0.83" fill="#ccc" fill-opacity="0.73"/><circle cx="411.2" cy="94.7" r="1.23" fill="#ccc" fill-opacity="0.73"/><circle cx="493.7" cy="33.2" r="0.71" fill="#ddd" fill-opacity="0.75"/><circle cx="483.4" cy="81.5" r="1.14" fill="#ddd" fill-opacity="0.47"/><circle cx="452.8" cy="93.2" r="0.99" fill="#ccc" fill-opacity="0.67"/><circle cx="458.6" cy="68.7" r="1.14" fill="#ddd" fill-opacity="0.50"/><circle cx="433.0" cy="98.0" r="0.96" fill="#ddd" fill-opacity="0.70"/><circle cx="497.2" cy="64.8" r="1.03" fill="#ddd" fill-opacity="0.68"/><circle cx="450.7" cy="73.9" r="0.93" fill="#ddd" fill-opacity="0.68"/><circle cx="493.5" cy="115.2" r="0.78" fill="#ddd" fill-opacity="0.74"/><circle cx="418.9" cy="32.3" r="0.91" fill="#ddd" fill-opacity="0.67"/><circle cx="448.3" cy="41.5" r="0.81" fill="#ddd" fill-opacity="0.76"/><circle cx="420.6" cy="92.3" r="1.06" fill="#ddd" fill-opacity="0.50"/></g>
<g filter="url(#bl05)"><circle cx="474.7" cy="83.0" r="1.47" fill="#fff" fill-opacity="0.72"/><circle cx="460.9" cy="78.2" r="0.90" fill="#eee" fill-opacity="0.76"/><circle cx="483.8" cy="76.7" r="0.76" fill="#fff" fill-opacity="0.88"/><circle cx="466.9" cy="74.5" r="0.74" fill="#eee" fill-opacity="1.00"/><circle cx="452.4" cy="91.2" r="1.21" fill="#eee" fill-opacity="0.74"/><circle cx="484.9" cy="80.3" r="0.88" fill="#fff" fill-opacity="0.73"/><circle cx="465.7" cy="71.1" r="1.30" fill="#fff" fill-opacity="0.93"/><circle cx="470.6" cy="67.1" r="1.27" fill="#eee" fill-opacity="0.86"/><circle cx="453.8" cy="91.3" r="1.22" fill="#eee" fill-opacity="0.93"/><circle cx="464.1" cy="79.2" r="1.03" fill="#eee" fill-opacity="1.00"/><circle cx="482.5" cy="76.0" r="0.71" fill="#fff" fill-opacity="0.93"/><circle cx="458.2" cy="72.7" r="1.11" fill="#fff" fill-opacity="0.75"/><circle cx="478.8" cy="76.7" r="0.77" fill="#eee" fill-opacity="0.93"/><circle cx="465.8" cy="81.1" r="0.94" fill="#fff" fill-opacity="0.79"/><circle cx="468.2" cy="77.4" r="1.17" fill="#eee" fill-opacity="0.76"/><circle cx="479.1" cy="78.6" r="1.42" fill="#fff" fill-opacity="0.70"/><circle cx="454.0" cy="85.9" r="0.94" fill="#fff" fill-opacity="0.71"/><circle cx="466.8" cy="84.4" r="1.29" fill="#fff" fill-opacity="0.97"/><circle cx="481.5" cy="84.3" r="1.20" fill="#fff" fill-opacity="0.81"/><circle cx="486.7" cy="84.4" r="1.36" fill="#fff" fill-opacity="0.80"/><circle cx="486.8" cy="67.5" r="1.38" fill="#eee" fill-opacity="0.77"/><circle cx="485.2" cy="80.1" r="1.08" fill="#fff" fill-opacity="0.88"/><circle cx="482.0" cy="62.9" r="1.09" fill="#eee" fill-opacity="0.86"/><circle cx="459.5" cy="91.5" r="1.34" fill="#fff" fill-opacity="0.85"/><circle cx="480.4" cy="83.6" r="0.97" fill="#fff" fill-opacity="0.97"/><circle cx="456.4" cy="80.2" r="1.19" fill="#fff" fill-opacity="0.77"/><circle cx="463.1" cy="63.3" r="0.78" fill="#fff" fill-opacity="0.81"/><circle cx="459.1" cy="84.6" r="1.29" fill="#fff" fill-opacity="0.76"/><circle cx="467.5" cy="63.5" r="1.18" fill="#eee" fill-opacity="0.88"/><circle cx="459.8" cy="89.9" r="0.86" fill="#eee" fill-opacity="0.81"/></g>
<rect x="409" y="116.5" width="13" height="2" fill="#000"/>
</g>
<clipPath id="ci3"><rect x="294.5" y="125" width="101.5" height="101.7"/></clipPath>
<clipPath id="cc3"><path d="M322.6,132.0 C327.1,131.7 332.9,133.5 338.0,134.0 C343.1,134.5 347.8,134.3 353.1,135.0 C358.4,135.7 364.9,136.6 370.0,138.0 C375.1,139.4 380.4,140.6 383.7,143.4 C387.0,146.2 388.5,150.6 390.0,155.0 C391.5,159.4 392.7,165.4 392.9,169.9 C393.1,174.4 391.5,178.6 391.0,182.0 C390.5,185.4 391.1,187.0 389.8,190.3 C388.5,193.6 385.7,198.3 383.0,202.0 C380.3,205.7 377.7,210.2 373.5,212.7 C369.3,215.2 363.1,215.9 358.0,217.0 C352.9,218.1 348.3,219.0 343.0,219.0 C337.7,219.0 331.1,218.1 326.0,217.0 C320.9,215.9 316.2,214.9 312.4,212.7 C308.6,210.5 305.6,207.4 303.0,204.0 C300.4,200.6 298.4,196.3 297.1,192.3 C295.8,188.3 295.6,184.1 295.2,180.0 C294.8,175.9 294.6,172.3 295.0,167.8 C295.4,163.3 296.3,157.1 297.5,153.0 C298.7,148.9 299.9,146.2 302.2,143.4 C304.4,140.6 307.6,137.9 311.0,136.0 C314.4,134.1 318.1,132.3 322.6,132.0 Z"/></clipPath>
<g clip-path="url(#ci3)">
<rect x="294.5" y="125" width="101.5" height="101.7" fill="#d2d2d2"/>
<rect x="294.5" y="125" width="101.5" height="101.7" filter="url(#nDarkMid)" opacity="0.12"/>
<rect x="294.5" y="125" width="101.5" height="101.7" filter="url(#nLightMid)" opacity="0.25"/>
<path d="M322.6,132.0 C327.1,131.7 332.9,133.5 338.0,134.0 C343.1,134.5 347.8,134.3 353.1,135.0 C358.4,135.7 364.9,136.6 370.0,138.0 C375.1,139.4 380.4,140.6 383.7,143.4 C387.0,146.2 388.5,150.6 390.0,155.0 C391.5,159.4 392.7,165.4 392.9,169.9 C393.1,174.4 391.5,178.6 391.0,182.0 C390.5,185.4 391.1,187.0 389.8,190.3 C388.5,193.6 385.7,198.3 383.0,202.0 C380.3,205.7 377.7,210.2 373.5,212.7 C369.3,215.2 363.1,215.9 358.0,217.0 C352.9,218.1 348.3,219.0 343.0,219.0 C337.7,219.0 331.1,218.1 326.0,217.0 C320.9,215.9 316.2,214.9 312.4,212.7 C308.6,210.5 305.6,207.4 303.0,204.0 C300.4,200.6 298.4,196.3 297.1,192.3 C295.8,188.3 295.6,184.1 295.2,180.0 C294.8,175.9 294.6,172.3 295.0,167.8 C295.4,163.3 296.3,157.1 297.5,153.0 C298.7,148.9 299.9,146.2 302.2,143.4 C304.4,140.6 307.6,137.9 311.0,136.0 C314.4,134.1 318.1,132.3 322.6,132.0 Z" fill="#c0c0c0"/>
<g clip-path="url(#cc3)">
<rect x="294.5" y="125" width="101.5" height="101.7" filter="url(#nDarkMid)" opacity="0.22"/>
<circle cx="332.8" cy="196.4" r="7" fill="#d0d0d0" stroke="#8a8a8a" stroke-width="1.2" filter="url(#bl05)"/>
<circle cx="351.1" cy="198.6" r="9" fill="#cbcbcb" stroke="#999" stroke-width="1.2" filter="url(#bl05)"/>
<circle cx="346" cy="177.5" r="5.2" fill="#cdcdcd" stroke="#888" stroke-width="1.2" filter="url(#bl05)"/>
<circle cx="321" cy="168" r="4" fill="#c8c8c8" stroke="#888" stroke-width="1.2" filter="url(#bl05)"/>
<g filter="url(#bl05)">
<circle cx="369.5" cy="174.5" r="5.5" fill="#3a3a3a" />
<circle cx="312.4" cy="182.5" r="7" fill="#555" />
<circle cx="320.5" cy="201.5" r="6" fill="#606060" />
<circle cx="328.7" cy="152.6" r="6" fill="#8a8a8a" />
<circle cx="357.2" cy="159.7" r="4" fill="#555" />
<circle cx="334.8" cy="187.2" r="5" fill="#555" />
<circle cx="340" cy="185" r="3" fill="#666" />
</g>
<g filter="url(#bl05)"><circle cx="318.7" cy="180.3" r="0.65" fill="#777" fill-opacity="0.79"/><circle cx="353.5" cy="186.6" r="0.86" fill="#666" fill-opacity="0.70"/><circle cx="318.3" cy="226.3" r="0.69" fill="#777" fill-opacity="0.79"/><circle cx="359.4" cy="140.3" r="0.75" fill="#777" fill-opacity="0.76"/><circle cx="296.0" cy="204.0" r="0.56" fill="#777" fill-opacity="0.62"/><circle cx="373.7" cy="208.8" r="0.61" fill="#777" fill-opacity="0.89"/><circle cx="383.7" cy="197.6" r="0.87" fill="#666" fill-opacity="0.89"/><circle cx="353.1" cy="223.0" r="0.55" fill="#666" fill-opacity="0.64"/><circle cx="308.3" cy="147.1" r="0.89" fill="#666" fill-opacity="0.91"/><circle cx="381.3" cy="167.8" r="0.83" fill="#777" fill-opacity="0.74"/><circle cx="353.9" cy="184.4" r="0.86" fill="#777" fill-opacity="0.97"/><circle cx="297.4" cy="153.4" r="0.74" fill="#777" fill-opacity="0.67"/><circle cx="381.9" cy="223.1" r="0.86" fill="#777" fill-opacity="0.64"/><circle cx="361.0" cy="189.4" r="0.90" fill="#666" fill-opacity="0.71"/><circle cx="300.9" cy="211.8" r="0.90" fill="#555" fill-opacity="0.74"/><circle cx="301.3" cy="216.2" r="0.51" fill="#666" fill-opacity="0.91"/><circle cx="383.1" cy="129.5" r="0.75" fill="#555" fill-opacity="0.75"/><circle cx="354.0" cy="181.0" r="0.87" fill="#666" fill-opacity="0.80"/><circle cx="395.8" cy="156.5" r="0.53" fill="#777" fill-opacity="0.81"/><circle cx="390.8" cy="223.8" r="0.62" fill="#666" fill-opacity="0.66"/><circle cx="298.8" cy="213.3" r="0.63" fill="#555" fill-opacity="0.96"/><circle cx="332.8" cy="171.8" r="0.71" fill="#777" fill-opacity="0.95"/><circle cx="363.6" cy="135.4" r="0.89" fill="#777" fill-opacity="0.71"/><circle cx="358.9" cy="197.8" r="0.87" fill="#666" fill-opacity="0.99"/><circle cx="347.4" cy="180.8" r="0.50" fill="#666" fill-opacity="0.99"/><circle cx="326.5" cy="163.3" r="0.74" fill="#555" fill-opacity="0.62"/><circle cx="358.2" cy="172.4" r="0.77" fill="#666" fill-opacity="0.84"/><circle cx="322.8" cy="174.8" r="0.74" fill="#777" fill-opacity="0.61"/><circle cx="332.0" cy="188.9" r="0.62" fill="#777" fill-opacity="0.73"/><circle cx="331.4" cy="156.8" r="0.65" fill="#777" fill-opacity="0.71"/><circle cx="374.4" cy="135.7" r="0.83" fill="#777" fill-opacity="0.87"/><circle cx="307.8" cy="175.9" r="0.76" fill="#666" fill-opacity="0.70"/><circle cx="313.5" cy="169.3" r="0.78" fill="#555" fill-opacity="0.84"/><circle cx="390.8" cy="193.6" r="0.59" fill="#555" fill-opacity="0.63"/><circle cx="369.8" cy="147.2" r="0.73" fill="#666" fill-opacity="0.69"/><circle cx="306.8" cy="178.9" r="0.58" fill="#777" fill-opacity="0.67"/><circle cx="322.8" cy="207.1" r="0.76" fill="#777" fill-opacity="0.74"/><circle cx="307.7" cy="154.7" r="0.82" fill="#666" fill-opacity="0.79"/><circle cx="358.9" cy="154.5" r="0.73" fill="#555" fill-opacity="0.97"/><circle cx="310.3" cy="125.5" r="0.88" fill="#777" fill-opacity="0.99"/><circle cx="338.6" cy="221.6" r="0.87" fill="#555" fill-opacity="0.61"/><circle cx="340.9" cy="201.6" r="0.80" fill="#666" fill-opacity="0.82"/><circle cx="384.8" cy="212.6" r="0.84" fill="#666" fill-opacity="0.65"/><circle cx="319.3" cy="128.6" r="0.82" fill="#777" fill-opacity="0.97"/><circle cx="385.5" cy="216.5" r="0.73" fill="#555" fill-opacity="0.79"/><circle cx="306.8" cy="176.2" r="0.60" fill="#555" fill-opacity="0.81"/><circle cx="336.5" cy="220.5" r="0.74" fill="#666" fill-opacity="0.65"/><circle cx="393.2" cy="180.0" r="0.82" fill="#555" fill-opacity="0.74"/><circle cx="314.5" cy="179.4" r="0.83" fill="#555" fill-opacity="0.70"/><circle cx="322.3" cy="215.5" r="0.55" fill="#555" fill-opacity="0.80"/><circle cx="352.4" cy="165.7" r="0.80" fill="#555" fill-opacity="0.71"/><circle cx="348.0" cy="168.0" r="0.69" fill="#555" fill-opacity="0.94"/><circle cx="373.2" cy="129.7" r="0.52" fill="#666" fill-opacity="0.99"/><circle cx="381.2" cy="133.8" r="0.70" fill="#666" fill-opacity="0.66"/><circle cx="301.8" cy="164.2" r="0.66" fill="#666" fill-opacity="0.74"/><circle cx="313.9" cy="158.4" r="0.55" fill="#777" fill-opacity="0.60"/><circle cx="367.9" cy="205.9" r="0.73" fill="#555" fill-opacity="0.75"/><circle cx="355.9" cy="204.6" r="0.65" fill="#555" fill-opacity="0.85"/><circle cx="338.3" cy="162.9" r="0.70" fill="#777" fill-opacity="0.73"/><circle cx="391.0" cy="167.5" r="0.51" fill="#555" fill-opacity="0.81"/><circle cx="365.1" cy="132.3" r="0.67" fill="#666" fill-opacity="0.65"/><circle cx="297.4" cy="158.1" r="0.89" fill="#777" fill-opacity="0.92"/><circle cx="321.1" cy="172.2" r="0.55" fill="#777" fill-opacity="0.86"/><circle cx="384.6" cy="205.6" r="0.77" fill="#777" fill-opacity="0.73"/><circle cx="348.5" cy="207.5" r="0.79" fill="#666" fill-opacity="0.66"/><circle cx="373.1" cy="129.5" r="0.54" fill="#555" fill-opacity="0.86"/><circle cx="332.6" cy="208.3" r="0.64" fill="#555" fill-opacity="0.61"/><circle cx="306.2" cy="174.0" r="0.78" fill="#666" fill-opacity="0.83"/><circle cx="375.6" cy="128.7" r="0.81" fill="#777" fill-opacity="0.81"/><circle cx="318.7" cy="181.4" r="0.54" fill="#777" fill-opacity="0.62"/><circle cx="327.4" cy="182.4" r="0.83" fill="#555" fill-opacity="1.00"/><circle cx="360.1" cy="171.2" r="0.78" fill="#666" fill-opacity="0.70"/><circle cx="355.3" cy="220.5" r="0.72" fill="#555" fill-opacity="0.75"/><circle cx="318.4" cy="219.5" r="0.84" fill="#555" fill-opacity="0.77"/><circle cx="352.2" cy="184.0" r="0.87" fill="#777" fill-opacity="0.79"/><circle cx="359.8" cy="216.3" r="0.56" fill="#555" fill-opacity="0.80"/><circle cx="343.6" cy="196.1" r="0.88" fill="#777" fill-opacity="0.89"/><circle cx="313.4" cy="152.2" r="0.58" fill="#777" fill-opacity="0.81"/><circle cx="389.4" cy="211.6" r="0.72" fill="#666" fill-opacity="0.87"/><circle cx="381.3" cy="185.5" r="0.73" fill="#666" fill-opacity="0.96"/><circle cx="325.7" cy="152.3" r="0.82" fill="#555" fill-opacity="0.67"/><circle cx="331.1" cy="157.8" r="0.81" fill="#555" fill-opacity="0.77"/><circle cx="365.3" cy="196.3" r="0.58" fill="#777" fill-opacity="0.93"/><circle cx="377.9" cy="181.7" r="0.69" fill="#777" fill-opacity="0.63"/><circle cx="390.7" cy="204.6" r="0.85" fill="#555" fill-opacity="0.79"/><circle cx="317.8" cy="148.9" r="0.79" fill="#777" fill-opacity="0.63"/><circle cx="316.6" cy="150.8" r="0.86" fill="#666" fill-opacity="0.65"/><circle cx="357.6" cy="193.7" r="0.51" fill="#666" fill-opacity="0.67"/><circle cx="299.1" cy="143.6" r="0.54" fill="#555" fill-opacity="0.65"/><circle cx="321.3" cy="217.9" r="0.51" fill="#666" fill-opacity="0.83"/><circle cx="363.1" cy="125.7" r="0.63" fill="#666" fill-opacity="0.75"/><circle cx="302.4" cy="190.5" r="0.80" fill="#666" fill-opacity="0.76"/><circle cx="349.8" cy="137.1" r="0.61" fill="#777" fill-opacity="0.77"/><circle cx="339.0" cy="178.6" r="0.60" fill="#777" fill-opacity="0.98"/><circle cx="332.5" cy="203.6" r="0.80" fill="#666" fill-opacity="0.87"/><circle cx="362.5" cy="221.0" r="0.83" fill="#555" fill-opacity="0.90"/><circle cx="392.1" cy="193.4" r="0.71" fill="#555" fill-opacity="0.87"/><circle cx="346.1" cy="131.1" r="0.62" fill="#777" fill-opacity="0.83"/><circle cx="313.0" cy="190.7" r="0.75" fill="#555" fill-opacity="0.75"/><circle cx="387.9" cy="171.2" r="0.54" fill="#777" fill-opacity="0.66"/><circle cx="328.2" cy="198.3" r="0.74" fill="#777" fill-opacity="0.72"/><circle cx="313.5" cy="174.1" r="0.81" fill="#777" fill-opacity="0.63"/><circle cx="367.2" cy="201.7" r="0.72" fill="#777" fill-opacity="0.76"/><circle cx="304.6" cy="152.5" r="0.52" fill="#555" fill-opacity="0.62"/><circle cx="345.7" cy="150.1" r="0.81" fill="#666" fill-opacity="0.95"/><circle cx="390.4" cy="170.6" r="0.82" fill="#555" fill-opacity="0.74"/><circle cx="380.5" cy="136.4" r="0.61" fill="#555" fill-opacity="0.87"/><circle cx="351.8" cy="217.5" r="0.54" fill="#777" fill-opacity="0.68"/><circle cx="336.8" cy="200.6" r="0.83" fill="#777" fill-opacity="0.65"/><circle cx="356.2" cy="212.4" r="0.82" fill="#777" fill-opacity="0.81"/><circle cx="352.2" cy="145.6" r="0.60" fill="#666" fill-opacity="0.61"/><circle cx="376.0" cy="215.6" r="0.88" fill="#666" fill-opacity="0.73"/><circle cx="386.5" cy="156.5" r="0.70" fill="#777" fill-opacity="0.87"/><circle cx="324.9" cy="212.5" r="0.69" fill="#777" fill-opacity="0.68"/><circle cx="358.9" cy="135.9" r="0.80" fill="#555" fill-opacity="0.80"/><circle cx="347.6" cy="171.8" r="0.58" fill="#777" fill-opacity="0.68"/><circle cx="377.0" cy="219.2" r="0.88" fill="#555" fill-opacity="0.83"/><circle cx="391.8" cy="215.7" r="0.55" fill="#555" fill-opacity="0.85"/><circle cx="299.6" cy="161.6" r="0.59" fill="#555" fill-opacity="0.80"/><circle cx="296.4" cy="159.5" r="0.63" fill="#666" fill-opacity="0.88"/><circle cx="308.1" cy="212.3" r="0.74" fill="#555" fill-opacity="0.89"/><circle cx="369.6" cy="159.9" r="0.82" fill="#555" fill-opacity="0.94"/><circle cx="338.9" cy="202.0" r="0.69" fill="#555" fill-opacity="0.91"/><circle cx="336.0" cy="211.0" r="0.78" fill="#666" fill-opacity="0.80"/><circle cx="365.5" cy="179.7" r="0.67" fill="#777" fill-opacity="0.80"/><circle cx="296.9" cy="171.5" r="0.78" fill="#666" fill-opacity="0.67"/><circle cx="385.8" cy="198.2" r="0.65" fill="#666" fill-opacity="0.78"/><circle cx="331.2" cy="165.9" r="0.89" fill="#555" fill-opacity="0.70"/><circle cx="332.0" cy="212.0" r="0.71" fill="#555" fill-opacity="0.68"/><circle cx="311.8" cy="166.1" r="0.57" fill="#555" fill-opacity="0.66"/><circle cx="356.3" cy="170.0" r="0.57" fill="#555" fill-opacity="0.76"/><circle cx="326.8" cy="128.3" r="0.79" fill="#555" fill-opacity="0.76"/><circle cx="334.8" cy="127.7" r="0.89" fill="#555" fill-opacity="0.70"/><circle cx="334.0" cy="144.4" r="0.63" fill="#555" fill-opacity="0.74"/><circle cx="307.1" cy="130.3" r="0.79" fill="#666" fill-opacity="0.99"/><circle cx="390.1" cy="205.3" r="0.88" fill="#666" fill-opacity="0.70"/><circle cx="321.5" cy="207.9" r="0.75" fill="#666" fill-opacity="0.73"/><circle cx="300.3" cy="169.3" r="0.54" fill="#777" fill-opacity="0.60"/><circle cx="297.6" cy="134.2" r="0.57" fill="#555" fill-opacity="0.79"/><circle cx="313.7" cy="176.8" r="0.63" fill="#666" fill-opacity="0.74"/><circle cx="343.1" cy="160.8" r="0.76" fill="#666" fill-opacity="0.72"/><circle cx="356.1" cy="221.3" r="0.54" fill="#666" fill-opacity="0.67"/><circle cx="336.4" cy="176.6" r="0.72" fill="#777" fill-opacity="0.87"/><circle cx="388.7" cy="142.8" r="0.80" fill="#777" fill-opacity="0.75"/><circle cx="389.7" cy="161.5" r="0.57" fill="#666" fill-opacity="0.78"/><circle cx="339.6" cy="196.5" r="0.64" fill="#555" fill-opacity="0.80"/><circle cx="370.9" cy="218.1" r="0.78" fill="#666" fill-opacity="0.62"/><circle cx="311.9" cy="201.4" r="0.83" fill="#555" fill-opacity="0.90"/><circle cx="363.2" cy="134.9" r="0.59" fill="#777" fill-opacity="0.62"/><circle cx="356.6" cy="129.9" r="0.69" fill="#777" fill-opacity="0.86"/><circle cx="395.7" cy="125.2" r="0.58" fill="#555" fill-opacity="0.74"/><circle cx="326.1" cy="170.8" r="0.83" fill="#555" fill-opacity="0.70"/><circle cx="299.5" cy="140.5" r="0.76" fill="#777" fill-opacity="0.99"/><circle cx="305.9" cy="154.2" r="0.58" fill="#777" fill-opacity="0.81"/><circle cx="345.8" cy="217.3" r="0.63" fill="#777" fill-opacity="0.91"/><circle cx="341.9" cy="188.3" r="0.52" fill="#555" fill-opacity="0.84"/><circle cx="381.7" cy="135.3" r="0.88" fill="#666" fill-opacity="0.63"/><circle cx="341.7" cy="147.7" r="0.83" fill="#777" fill-opacity="0.64"/><circle cx="343.8" cy="193.0" r="0.78" fill="#666" fill-opacity="0.84"/><circle cx="339.7" cy="136.3" r="0.83" fill="#777" fill-opacity="0.78"/><circle cx="333.0" cy="136.9" r="0.50" fill="#666" fill-opacity="0.89"/><circle cx="302.3" cy="160.2" r="0.69" fill="#555" fill-opacity="0.97"/><circle cx="364.2" cy="162.1" r="0.81" fill="#555" fill-opacity="0.84"/><circle cx="316.2" cy="160.7" r="0.90" fill="#666" fill-opacity="0.69"/><circle cx="339.1" cy="150.5" r="0.63" fill="#777" fill-opacity="0.97"/><circle cx="368.2" cy="214.0" r="0.89" fill="#777" fill-opacity="0.79"/><circle cx="366.7" cy="211.7" r="0.65" fill="#555" fill-opacity="0.96"/><circle cx="390.9" cy="174.2" r="0.81" fill="#666" fill-opacity="0.79"/><circle cx="354.1" cy="128.6" r="0.88" fill="#555" fill-opacity="0.67"/><circle cx="304.2" cy="198.5" r="0.62" fill="#777" fill-opacity="0.62"/><circle cx="342.4" cy="144.8" r="0.58" fill="#666" fill-opacity="0.77"/><circle cx="329.5" cy="200.5" r="0.80" fill="#666" fill-opacity="0.66"/><circle cx="339.6" cy="217.4" r="0.68" fill="#555" fill-opacity="0.66"/><circle cx="371.9" cy="196.2" r="0.89" fill="#777" fill-opacity="0.75"/><circle cx="310.9" cy="156.7" r="0.69" fill="#777" fill-opacity="1.00"/><circle cx="317.1" cy="222.3" r="0.62" fill="#555" fill-opacity="0.79"/><circle cx="384.5" cy="207.1" r="0.62" fill="#555" fill-opacity="0.97"/><circle cx="347.2" cy="126.5" r="0.75" fill="#555" fill-opacity="0.81"/><circle cx="311.3" cy="130.1" r="0.58" fill="#666" fill-opacity="0.74"/><circle cx="392.5" cy="161.9" r="0.72" fill="#666" fill-opacity="0.67"/><circle cx="295.8" cy="169.0" r="0.64" fill="#555" fill-opacity="0.84"/><circle cx="376.8" cy="170.8" r="0.60" fill="#777" fill-opacity="0.92"/><circle cx="336.9" cy="151.5" r="0.52" fill="#666" fill-opacity="0.61"/><circle cx="395.6" cy="141.8" r="0.80" fill="#777" fill-opacity="0.70"/><circle cx="308.3" cy="202.1" r="0.82" fill="#777" fill-opacity="0.90"/><circle cx="328.8" cy="138.6" r="0.51" fill="#555" fill-opacity="0.61"/><circle cx="359.8" cy="216.2" r="0.86" fill="#666" fill-opacity="0.81"/><circle cx="371.1" cy="212.5" r="0.89" fill="#777" fill-opacity="0.77"/><circle cx="347.1" cy="142.4" r="0.57" fill="#777" fill-opacity="0.66"/><circle cx="379.0" cy="135.3" r="0.81" fill="#666" fill-opacity="0.78"/><circle cx="376.0" cy="171.0" r="0.88" fill="#555" fill-opacity="0.83"/><circle cx="308.7" cy="128.8" r="0.69" fill="#555" fill-opacity="0.93"/><circle cx="389.0" cy="187.3" r="0.51" fill="#777" fill-opacity="0.84"/><circle cx="306.3" cy="137.7" r="0.81" fill="#666" fill-opacity="0.64"/><circle cx="362.4" cy="162.8" r="0.71" fill="#777" fill-opacity="0.78"/><circle cx="326.1" cy="160.2" r="0.76" fill="#666" fill-opacity="0.73"/><circle cx="322.0" cy="221.6" r="0.88" fill="#666" fill-opacity="0.84"/><circle cx="350.9" cy="128.6" r="0.67" fill="#666" fill-opacity="0.99"/><circle cx="302.5" cy="148.4" r="0.58" fill="#555" fill-opacity="0.88"/><circle cx="306.2" cy="189.3" r="0.55" fill="#555" fill-opacity="0.98"/><circle cx="393.4" cy="195.4" r="0.67" fill="#666" fill-opacity="0.78"/><circle cx="323.9" cy="181.9" r="0.57" fill="#666" fill-opacity="0.98"/><circle cx="309.1" cy="217.1" r="0.57" fill="#666" fill-opacity="0.87"/><circle cx="360.2" cy="139.5" r="0.52" fill="#777" fill-opacity="0.67"/><circle cx="313.7" cy="208.7" r="0.85" fill="#555" fill-opacity="0.81"/><circle cx="309.9" cy="146.8" r="0.81" fill="#666" fill-opacity="0.76"/><circle cx="394.7" cy="153.6" r="0.55" fill="#555" fill-opacity="0.72"/><circle cx="333.4" cy="220.4" r="0.74" fill="#555" fill-opacity="0.60"/><circle cx="332.1" cy="139.5" r="0.69" fill="#555" fill-opacity="0.74"/><circle cx="391.0" cy="174.3" r="0.78" fill="#666" fill-opacity="0.79"/><circle cx="369.6" cy="179.0" r="0.84" fill="#666" fill-opacity="0.83"/><circle cx="341.6" cy="179.7" r="0.68" fill="#777" fill-opacity="0.78"/><circle cx="333.5" cy="201.9" r="0.62" fill="#777" fill-opacity="0.94"/><circle cx="312.7" cy="223.0" r="0.84" fill="#555" fill-opacity="0.73"/><circle cx="379.8" cy="138.3" r="0.74" fill="#555" fill-opacity="0.76"/><circle cx="383.1" cy="136.7" r="0.51" fill="#555" fill-opacity="0.92"/><circle cx="395.1" cy="194.7" r="0.71" fill="#666" fill-opacity="0.64"/><circle cx="349.3" cy="169.9" r="0.56" fill="#777" fill-opacity="0.69"/><circle cx="340.8" cy="182.3" r="0.75" fill="#777" fill-opacity="0.74"/><circle cx="355.5" cy="224.7" r="0.87" fill="#777" fill-opacity="0.93"/><circle cx="323.6" cy="224.3" r="0.61" fill="#555" fill-opacity="0.84"/><circle cx="317.0" cy="226.2" r="0.79" fill="#555" fill-opacity="0.71"/><circle cx="392.6" cy="171.1" r="0.69" fill="#777" fill-opacity="0.92"/><circle cx="312.4" cy="188.1" r="0.71" fill="#777" fill-opacity="0.62"/><circle cx="336.9" cy="180.9" r="0.74" fill="#666" fill-opacity="0.62"/><circle cx="381.2" cy="164.1" r="0.89" fill="#666" fill-opacity="0.81"/><circle cx="300.1" cy="175.2" r="0.55" fill="#777" fill-opacity="0.95"/><circle cx="366.7" cy="161.8" r="0.62" fill="#777" fill-opacity="0.75"/><circle cx="339.1" cy="217.3" r="0.77" fill="#555" fill-opacity="0.83"/><circle cx="309.3" cy="147.4" r="0.65" fill="#777" fill-opacity="0.60"/><circle cx="384.3" cy="146.3" r="0.67" fill="#555" fill-opacity="0.61"/><circle cx="349.2" cy="218.7" r="0.71" fill="#777" fill-opacity="0.75"/><circle cx="367.7" cy="206.5" r="0.59" fill="#666" fill-opacity="0.87"/><circle cx="306.8" cy="214.5" r="0.65" fill="#666" fill-opacity="0.66"/><circle cx="325.6" cy="181.2" r="0.55" fill="#555" fill-opacity="0.84"/><circle cx="303.1" cy="127.9" r="0.64" fill="#555" fill-opacity="0.80"/><circle cx="394.5" cy="173.1" r="0.56" fill="#555" fill-opacity="0.80"/><circle cx="338.4" cy="188.9" r="0.76" fill="#666" fill-opacity="0.71"/><circle cx="359.5" cy="200.8" r="0.85" fill="#555" fill-opacity="0.78"/><circle cx="371.0" cy="225.9" r="0.53" fill="#555" fill-opacity="0.73"/><circle cx="387.1" cy="189.2" r="0.54" fill="#777" fill-opacity="0.73"/><circle cx="337.0" cy="184.3" r="0.85" fill="#555" fill-opacity="0.86"/><circle cx="391.7" cy="130.3" r="0.71" fill="#777" fill-opacity="0.81"/><circle cx="352.8" cy="133.7" r="0.59" fill="#666" fill-opacity="0.93"/><circle cx="387.7" cy="165.3" r="0.64" fill="#666" fill-opacity="0.86"/><circle cx="348.1" cy="145.6" r="0.62" fill="#777" fill-opacity="0.65"/><circle cx="348.5" cy="188.1" r="0.64" fill="#777" fill-opacity="0.94"/><circle cx="369.4" cy="145.7" r="0.52" fill="#666" fill-opacity="0.94"/><circle cx="358.4" cy="175.2" r="0.84" fill="#555" fill-opacity="0.93"/><circle cx="389.7" cy="137.2" r="0.87" fill="#666" fill-opacity="0.94"/><circle cx="326.5" cy="201.8" r="0.63" fill="#555" fill-opacity="0.75"/><circle cx="380.9" cy="209.7" r="0.52" fill="#666" fill-opacity="0.75"/><circle cx="317.2" cy="154.0" r="0.64" fill="#555" fill-opacity="0.88"/><circle cx="329.0" cy="136.3" r="0.59" fill="#666" fill-opacity="0.67"/><circle cx="311.6" cy="174.1" r="0.58" fill="#777" fill-opacity="0.75"/><circle cx="318.1" cy="194.6" r="0.71" fill="#777" fill-opacity="0.82"/><circle cx="355.2" cy="188.9" r="0.68" fill="#555" fill-opacity="0.63"/><circle cx="348.9" cy="171.5" r="0.51" fill="#555" fill-opacity="0.71"/><circle cx="385.7" cy="194.7" r="0.59" fill="#777" fill-opacity="0.99"/><circle cx="329.6" cy="226.2" r="0.69" fill="#555" fill-opacity="0.65"/><circle cx="337.0" cy="212.9" r="0.56" fill="#666" fill-opacity="0.64"/><circle cx="348.1" cy="211.5" r="0.69" fill="#777" fill-opacity="0.66"/><circle cx="388.1" cy="163.1" r="0.52" fill="#666" fill-opacity="0.93"/><circle cx="315.1" cy="134.5" r="0.80" fill="#777" fill-opacity="0.84"/><circle cx="353.8" cy="194.0" r="0.62" fill="#666" fill-opacity="1.00"/><circle cx="379.4" cy="201.1" r="0.62" fill="#555" fill-opacity="0.77"/><circle cx="351.2" cy="202.7" r="0.67" fill="#666" fill-opacity="0.83"/><circle cx="319.9" cy="195.9" r="0.73" fill="#666" fill-opacity="0.89"/><circle cx="327.4" cy="141.5" r="0.87" fill="#666" fill-opacity="0.67"/><circle cx="334.5" cy="145.0" r="0.66" fill="#777" fill-opacity="0.75"/><circle cx="368.0" cy="186.7" r="0.78" fill="#555" fill-opacity="0.80"/><circle cx="311.5" cy="135.3" r="0.72" fill="#666" fill-opacity="0.95"/><circle cx="346.8" cy="165.4" r="0.53" fill="#666" fill-opacity="0.87"/><circle cx="317.9" cy="151.5" r="0.58" fill="#555" fill-opacity="0.79"/><circle cx="338.6" cy="151.7" r="0.89" fill="#555" fill-opacity="0.71"/><circle cx="373.7" cy="221.3" r="0.77" fill="#555" fill-opacity="0.99"/><circle cx="374.8" cy="199.6" r="0.86" fill="#555" fill-opacity="0.95"/><circle cx="308.2" cy="133.5" r="0.89" fill="#666" fill-opacity="0.99"/><circle cx="327.7" cy="202.5" r="0.57" fill="#777" fill-opacity="0.80"/><circle cx="395.5" cy="138.5" r="0.86" fill="#666" fill-opacity="0.90"/><circle cx="345.7" cy="194.9" r="0.67" fill="#666" fill-opacity="0.70"/><circle cx="349.7" cy="184.6" r="0.66" fill="#555" fill-opacity="0.61"/><circle cx="338.3" cy="125.1" r="0.82" fill="#555" fill-opacity="0.80"/><circle cx="391.2" cy="211.2" r="0.79" fill="#666" fill-opacity="0.70"/><circle cx="358.3" cy="182.3" r="0.89" fill="#666" fill-opacity="0.68"/><circle cx="310.6" cy="224.7" r="0.80" fill="#666" fill-opacity="0.77"/><circle cx="323.8" cy="136.9" r="0.63" fill="#777" fill-opacity="0.89"/><circle cx="320.8" cy="133.8" r="0.53" fill="#777" fill-opacity="0.66"/><circle cx="295.2" cy="133.4" r="0.81" fill="#666" fill-opacity="0.88"/><circle cx="350.6" cy="192.5" r="0.68" fill="#555" fill-opacity="0.88"/><circle cx="294.7" cy="153.6" r="0.78" fill="#555" fill-opacity="0.60"/><circle cx="328.7" cy="198.9" r="0.83" fill="#666" fill-opacity="0.64"/><circle cx="375.9" cy="164.5" r="0.82" fill="#666" fill-opacity="0.97"/><circle cx="367.7" cy="188.8" r="0.68" fill="#555" fill-opacity="0.92"/><circle cx="329.5" cy="148.4" r="0.67" fill="#555" fill-opacity="0.76"/><circle cx="394.1" cy="136.7" r="0.77" fill="#555" fill-opacity="0.72"/><circle cx="297.0" cy="127.7" r="0.64" fill="#555" fill-opacity="0.78"/><circle cx="346.3" cy="190.1" r="0.89" fill="#666" fill-opacity="0.86"/><circle cx="369.2" cy="178.0" r="0.67" fill="#666" fill-opacity="0.92"/><circle cx="312.5" cy="171.0" r="0.71" fill="#666" fill-opacity="0.97"/><circle cx="353.6" cy="188.4" r="0.68" fill="#555" fill-opacity="0.72"/><circle cx="347.5" cy="148.0" r="0.71" fill="#666" fill-opacity="0.65"/><circle cx="345.2" cy="173.8" r="0.60" fill="#666" fill-opacity="0.61"/><circle cx="296.8" cy="188.2" r="0.52" fill="#777" fill-opacity="0.95"/><circle cx="386.4" cy="129.9" r="0.77" fill="#666" fill-opacity="0.93"/><circle cx="344.4" cy="204.2" r="0.82" fill="#666" fill-opacity="0.85"/><circle cx="303.5" cy="223.1" r="0.52" fill="#777" fill-opacity="0.68"/><circle cx="303.0" cy="200.7" r="0.71" fill="#777" fill-opacity="0.80"/><circle cx="358.5" cy="133.4" r="0.77" fill="#777" fill-opacity="0.94"/><circle cx="346.4" cy="175.4" r="0.64" fill="#666" fill-opacity="0.97"/><circle cx="337.3" cy="197.3" r="0.72" fill="#666" fill-opacity="0.77"/><circle cx="329.4" cy="220.4" r="0.63" fill="#666" fill-opacity="0.90"/><circle cx="320.7" cy="173.1" r="0.60" fill="#666" fill-opacity="0.64"/><circle cx="321.1" cy="173.7" r="0.67" fill="#555" fill-opacity="0.89"/><circle cx="355.4" cy="192.5" r="0.90" fill="#555" fill-opacity="0.84"/><circle cx="319.0" cy="143.5" r="0.54" fill="#555" fill-opacity="0.97"/><circle cx="340.4" cy="168.9" r="0.67" fill="#777" fill-opacity="0.74"/><circle cx="338.3" cy="129.1" r="0.79" fill="#666" fill-opacity="0.75"/><circle cx="368.1" cy="152.7" r="0.59" fill="#555" fill-opacity="0.95"/><circle cx="372.2" cy="128.2" r="0.67" fill="#555" fill-opacity="0.84"/><circle cx="335.2" cy="173.6" r="0.70" fill="#777" fill-opacity="0.77"/><circle cx="314.8" cy="165.2" r="0.76" fill="#777" fill-opacity="0.66"/><circle cx="296.7" cy="182.6" r="0.77" fill="#777" fill-opacity="0.64"/><circle cx="377.4" cy="165.3" r="0.71" fill="#555" fill-opacity="0.65"/><circle cx="354.9" cy="221.3" r="0.62" fill="#555" fill-opacity="0.96"/><circle cx="338.7" cy="139.8" r="0.59" fill="#777" fill-opacity="0.77"/><circle cx="326.5" cy="170.0" r="0.87" fill="#666" fill-opacity="0.82"/><circle cx="354.5" cy="159.9" r="0.72" fill="#555" fill-opacity="0.99"/><circle cx="323.1" cy="133.7" r="0.86" fill="#555" fill-opacity="0.94"/><circle cx="383.0" cy="159.0" r="0.80" fill="#555" fill-opacity="0.73"/><circle cx="325.3" cy="146.9" r="0.72" fill="#777" fill-opacity="0.89"/><circle cx="294.7" cy="190.5" r="0.83" fill="#555" fill-opacity="0.97"/><circle cx="370.9" cy="208.4" r="0.53" fill="#666" fill-opacity="0.74"/><circle cx="324.0" cy="160.0" r="0.59" fill="#555" fill-opacity="0.97"/><circle cx="351.1" cy="136.8" r="0.67" fill="#555" fill-opacity="0.81"/><circle cx="334.6" cy="183.8" r="0.83" fill="#777" fill-opacity="0.68"/><circle cx="388.1" cy="156.6" r="0.77" fill="#555" fill-opacity="0.77"/><circle cx="373.0" cy="197.8" r="0.82" fill="#777" fill-opacity="0.70"/><circle cx="370.3" cy="186.8" r="0.55" fill="#555" fill-opacity="0.95"/><circle cx="329.4" cy="142.2" r="0.63" fill="#555" fill-opacity="0.91"/><circle cx="356.2" cy="131.9" r="0.86" fill="#777" fill-opacity="0.72"/><circle cx="343.9" cy="204.2" r="0.68" fill="#555" fill-opacity="0.79"/><circle cx="306.7" cy="142.3" r="0.84" fill="#666" fill-opacity="0.71"/><circle cx="380.5" cy="145.1" r="0.68" fill="#666" fill-opacity="0.74"/><circle cx="331.6" cy="126.1" r="0.72" fill="#666" fill-opacity="0.83"/><circle cx="348.8" cy="126.0" r="0.53" fill="#666" fill-opacity="0.67"/><circle cx="394.1" cy="136.7" r="0.85" fill="#555" fill-opacity="0.89"/><circle cx="392.2" cy="156.9" r="0.65" fill="#555" fill-opacity="0.94"/><circle cx="380.3" cy="214.2" r="0.89" fill="#555" fill-opacity="0.99"/><circle cx="311.3" cy="190.2" r="0.70" fill="#666" fill-opacity="0.90"/><circle cx="375.3" cy="226.6" r="0.77" fill="#777" fill-opacity="0.82"/><circle cx="302.7" cy="215.6" r="0.54" fill="#555" fill-opacity="0.68"/><circle cx="305.1" cy="133.5" r="0.63" fill="#555" fill-opacity="0.62"/><circle cx="339.2" cy="137.5" r="0.86" fill="#777" fill-opacity="0.69"/><circle cx="366.0" cy="200.6" r="0.75" fill="#666" fill-opacity="0.88"/><circle cx="295.9" cy="144.5" r="0.71" fill="#555" fill-opacity="0.69"/><circle cx="354.1" cy="138.1" r="0.84" fill="#666" fill-opacity="0.81"/><circle cx="336.1" cy="173.0" r="0.75" fill="#666" fill-opacity="0.94"/><circle cx="323.1" cy="148.8" r="0.57" fill="#666" fill-opacity="0.78"/><circle cx="334.1" cy="177.9" r="0.78" fill="#666" fill-opacity="0.72"/><circle cx="329.5" cy="201.4" r="0.57" fill="#666" fill-opacity="0.63"/><circle cx="388.7" cy="199.2" r="0.74" fill="#666" fill-opacity="0.99"/><circle cx="346.3" cy="208.5" r="0.87" fill="#777" fill-opacity="0.74"/><circle cx="355.5" cy="162.1" r="0.88" fill="#777" fill-opacity="0.86"/><circle cx="348.3" cy="208.9" r="0.60" fill="#666" fill-opacity="0.81"/><circle cx="370.1" cy="204.0" r="0.80" fill="#666" fill-opacity="0.63"/><circle cx="364.6" cy="207.7" r="0.81" fill="#666" fill-opacity="0.88"/><circle cx="315.0" cy="151.7" r="0.55" fill="#777" fill-opacity="0.96"/><circle cx="321.1" cy="225.8" r="0.87" fill="#777" fill-opacity="0.98"/><circle cx="340.7" cy="182.5" r="0.62" fill="#777" fill-opacity="0.68"/><circle cx="347.0" cy="135.3" r="0.63" fill="#666" fill-opacity="0.80"/><circle cx="299.0" cy="205.3" r="0.63" fill="#666" fill-opacity="0.67"/><circle cx="341.2" cy="182.4" r="0.62" fill="#777" fill-opacity="0.79"/><circle cx="318.9" cy="145.5" r="0.51" fill="#777" fill-opacity="0.63"/><circle cx="377.9" cy="143.2" r="0.69" fill="#666" fill-opacity="0.64"/><circle cx="380.9" cy="184.1" r="0.60" fill="#777" fill-opacity="0.80"/><circle cx="349.1" cy="126.2" r="0.72" fill="#777" fill-opacity="1.00"/><circle cx="308.9" cy="154.1" r="0.60" fill="#666" fill-opacity="0.83"/><circle cx="309.6" cy="168.6" r="0.78" fill="#555" fill-opacity="0.79"/><circle cx="335.4" cy="127.3" r="0.76" fill="#777" fill-opacity="0.63"/><circle cx="387.7" cy="167.6" r="0.65" fill="#555" fill-opacity="0.67"/><circle cx="375.5" cy="134.7" r="0.80" fill="#666" fill-opacity="0.88"/><circle cx="337.5" cy="150.4" r="0.53" fill="#666" fill-opacity="0.62"/><circle cx="321.4" cy="162.5" r="0.67" fill="#777" fill-opacity="0.74"/><circle cx="336.4" cy="127.1" r="0.59" fill="#777" fill-opacity="0.74"/><circle cx="346.0" cy="201.1" r="0.83" fill="#666" fill-opacity="0.88"/><circle cx="323.7" cy="141.2" r="0.65" fill="#777" fill-opacity="0.60"/><circle cx="360.3" cy="174.4" r="0.58" fill="#777" fill-opacity="0.95"/><circle cx="393.9" cy="202.2" r="0.71" fill="#666" fill-opacity="0.95"/><circle cx="311.3" cy="209.1" r="0.83" fill="#666" fill-opacity="0.90"/><circle cx="334.3" cy="146.0" r="0.76" fill="#555" fill-opacity="0.95"/><circle cx="361.7" cy="161.8" r="0.82" fill="#666" fill-opacity="0.72"/><circle cx="386.3" cy="192.4" r="0.65" fill="#777" fill-opacity="0.91"/><circle cx="310.1" cy="160.0" r="0.53" fill="#666" fill-opacity="0.95"/><circle cx="371.5" cy="153.3" r="0.58" fill="#777" fill-opacity="0.88"/><circle cx="334.9" cy="208.4" r="0.76" fill="#555" fill-opacity="0.81"/><circle cx="332.4" cy="184.9" r="0.68" fill="#777" fill-opacity="0.96"/><circle cx="306.5" cy="200.8" r="0.71" fill="#555" fill-opacity="0.86"/><circle cx="353.3" cy="211.7" r="0.51" fill="#777" fill-opacity="0.82"/><circle cx="389.7" cy="156.7" r="0.64" fill="#777" fill-opacity="0.81"/><circle cx="320.7" cy="219.7" r="0.82" fill="#666" fill-opacity="0.91"/><circle cx="362.8" cy="151.6" r="0.60" fill="#777" fill-opacity="0.94"/><circle cx="372.1" cy="202.3" r="0.53" fill="#666" fill-opacity="0.60"/><circle cx="351.9" cy="174.6" r="0.52" fill="#666" fill-opacity="0.77"/><circle cx="306.3" cy="164.8" r="0.66" fill="#666" fill-opacity="0.74"/><circle cx="385.6" cy="165.8" r="0.53" fill="#555" fill-opacity="0.63"/><circle cx="320.2" cy="203.4" r="0.55" fill="#777" fill-opacity="0.63"/><circle cx="318.3" cy="179.9" r="0.61" fill="#777" fill-opacity="0.93"/><circle cx="353.3" cy="188.8" r="0.63" fill="#666" fill-opacity="0.62"/><circle cx="302.1" cy="183.4" r="0.56" fill="#777" fill-opacity="0.69"/><circle cx="375.0" cy="145.4" r="0.57" fill="#555" fill-opacity="0.67"/><circle cx="393.7" cy="171.3" r="0.86" fill="#666" fill-opacity="0.68"/><circle cx="374.2" cy="167.2" r="0.59" fill="#555" fill-opacity="0.64"/><circle cx="301.4" cy="198.4" r="0.77" fill="#555" fill-opacity="0.67"/><circle cx="313.2" cy="195.1" r="0.53" fill="#666" fill-opacity="0.80"/><circle cx="310.1" cy="149.1" r="0.76" fill="#666" fill-opacity="0.76"/><circle cx="362.7" cy="214.9" r="0.59" fill="#666" fill-opacity="0.93"/><circle cx="330.5" cy="132.0" r="0.57" fill="#777" fill-opacity="0.85"/><circle cx="340.0" cy="203.3" r="0.59" fill="#555" fill-opacity="0.94"/><circle cx="379.5" cy="181.4" r="0.85" fill="#777" fill-opacity="0.68"/><circle cx="373.3" cy="220.3" r="0.62" fill="#666" fill-opacity="0.70"/><circle cx="341.3" cy="137.3" r="0.89" fill="#777" fill-opacity="0.85"/><circle cx="355.9" cy="141.3" r="0.76" fill="#777" fill-opacity="0.71"/><circle cx="307.2" cy="206.4" r="0.86" fill="#666" fill-opacity="0.61"/><circle cx="333.7" cy="209.6" r="0.72" fill="#777" fill-opacity="0.67"/><circle cx="302.3" cy="173.2" r="0.82" fill="#555" fill-opacity="0.69"/><circle cx="377.6" cy="208.2" r="0.88" fill="#666" fill-opacity="0.97"/><circle cx="341.1" cy="132.8" r="0.86" fill="#666" fill-opacity="0.84"/><circle cx="300.8" cy="220.7" r="0.63" fill="#555" fill-opacity="0.67"/><circle cx="306.6" cy="212.7" r="0.77" fill="#777" fill-opacity="1.00"/><circle cx="358.6" cy="211.9" r="0.83" fill="#777" fill-opacity="0.96"/><circle cx="299.6" cy="159.9" r="0.84" fill="#666" fill-opacity="0.68"/><circle cx="369.6" cy="157.6" r="0.73" fill="#777" fill-opacity="0.90"/><circle cx="333.0" cy="164.6" r="0.53" fill="#777" fill-opacity="0.69"/><circle cx="362.7" cy="223.1" r="0.66" fill="#555" fill-opacity="0.85"/><circle cx="390.4" cy="178.5" r="0.80" fill="#777" fill-opacity="0.70"/><circle cx="316.9" cy="198.6" r="0.66" fill="#777" fill-opacity="0.85"/><circle cx="324.0" cy="195.6" r="0.88" fill="#555" fill-opacity="0.88"/><circle cx="358.2" cy="220.4" r="0.50" fill="#555" fill-opacity="0.80"/><circle cx="340.5" cy="200.0" r="0.67" fill="#666" fill-opacity="0.90"/><circle cx="346.6" cy="155.7" r="0.66" fill="#666" fill-opacity="0.92"/><circle cx="325.3" cy="197.4" r="0.74" fill="#777" fill-opacity="0.73"/><circle cx="305.3" cy="218.2" r="0.65" fill="#666" fill-opacity="0.70"/><circle cx="341.6" cy="134.8" r="0.59" fill="#777" fill-opacity="0.88"/><circle cx="382.4" cy="141.5" r="0.54" fill="#666" fill-opacity="0.89"/><circle cx="316.0" cy="169.5" r="0.51" fill="#777" fill-opacity="0.99"/><circle cx="363.4" cy="154.7" r="0.55" fill="#555" fill-opacity="0.89"/><circle cx="298.8" cy="166.8" r="0.66" fill="#666" fill-opacity="0.94"/><circle cx="338.2" cy="126.5" r="0.80" fill="#666" fill-opacity="0.98"/><circle cx="336.2" cy="135.7" r="0.57" fill="#777" fill-opacity="0.87"/><circle cx="359.9" cy="136.5" r="0.73" fill="#777" fill-opacity="0.96"/><circle cx="387.7" cy="199.9" r="0.64" fill="#555" fill-opacity="0.72"/><circle cx="359.5" cy="191.0" r="0.73" fill="#666" fill-opacity="0.73"/><circle cx="294.8" cy="163.5" r="0.79" fill="#555" fill-opacity="0.95"/><circle cx="390.1" cy="125.8" r="0.60" fill="#666" fill-opacity="0.83"/><circle cx="301.6" cy="189.0" r="0.50" fill="#555" fill-opacity="0.72"/><circle cx="388.3" cy="216.3" r="0.55" fill="#666" fill-opacity="0.70"/><circle cx="338.7" cy="175.9" r="0.53" fill="#555" fill-opacity="0.70"/><circle cx="296.4" cy="195.3" r="0.63" fill="#777" fill-opacity="0.62"/><circle cx="317.5" cy="132.6" r="0.54" fill="#777" fill-opacity="0.94"/><circle cx="319.2" cy="142.7" r="0.83" fill="#666" fill-opacity="0.67"/><circle cx="390.8" cy="161.5" r="0.72" fill="#555" fill-opacity="0.96"/><circle cx="312.6" cy="133.6" r="0.83" fill="#666" fill-opacity="0.69"/><circle cx="383.2" cy="138.3" r="0.72" fill="#777" fill-opacity="0.79"/><circle cx="324.0" cy="135.1" r="0.53" fill="#555" fill-opacity="0.93"/><circle cx="385.5" cy="182.4" r="0.60" fill="#777" fill-opacity="0.68"/><circle cx="311.9" cy="188.7" r="0.83" fill="#777" fill-opacity="0.81"/><circle cx="365.9" cy="212.8" r="0.58" fill="#777" fill-opacity="1.00"/><circle cx="374.9" cy="201.9" r="0.53" fill="#555" fill-opacity="0.76"/><circle cx="295.6" cy="205.3" r="0.87" fill="#555" fill-opacity="0.75"/><circle cx="395.6" cy="162.7" r="0.71" fill="#666" fill-opacity="0.91"/><circle cx="339.3" cy="226.5" r="0.84" fill="#666" fill-opacity="0.88"/><circle cx="314.3" cy="194.9" r="0.73" fill="#666" fill-opacity="0.69"/><circle cx="339.8" cy="197.3" r="0.78" fill="#666" fill-opacity="0.92"/><circle cx="342.8" cy="136.9" r="0.70" fill="#555" fill-opacity="0.74"/><circle cx="309.6" cy="158.8" r="0.83" fill="#666" fill-opacity="0.60"/><circle cx="318.4" cy="162.6" r="0.60" fill="#777" fill-opacity="0.78"/><circle cx="307.6" cy="140.1" r="0.71" fill="#666" fill-opacity="0.84"/><circle cx="346.8" cy="196.1" r="0.85" fill="#666" fill-opacity="0.96"/><circle cx="302.7" cy="167.3" r="0.84" fill="#777" fill-opacity="0.65"/><circle cx="352.2" cy="204.4" r="0.84" fill="#777" fill-opacity="0.61"/><circle cx="339.1" cy="212.3" r="0.61" fill="#666" fill-opacity="0.76"/><circle cx="369.6" cy="216.5" r="0.55" fill="#666" fill-opacity="0.64"/><circle cx="348.0" cy="139.7" r="0.74" fill="#777" fill-opacity="0.78"/><circle cx="322.2" cy="188.4" r="0.78" fill="#555" fill-opacity="0.76"/><circle cx="295.6" cy="209.5" r="0.72" fill="#666" fill-opacity="0.86"/><circle cx="320.4" cy="217.0" r="0.64" fill="#555" fill-opacity="0.90"/><circle cx="312.1" cy="205.2" r="0.74" fill="#555" fill-opacity="0.77"/><circle cx="339.5" cy="222.6" r="0.89" fill="#666" fill-opacity="0.70"/><circle cx="327.7" cy="176.4" r="0.60" fill="#666" fill-opacity="0.61"/><circle cx="353.9" cy="182.0" r="0.83" fill="#777" fill-opacity="0.78"/><circle cx="342.4" cy="187.4" r="0.77" fill="#555" fill-opacity="0.90"/><circle cx="345.0" cy="194.6" r="0.57" fill="#666" fill-opacity="0.90"/><circle cx="330.1" cy="127.5" r="0.67" fill="#666" fill-opacity="0.73"/><circle cx="354.8" cy="128.0" r="0.72" fill="#555" fill-opacity="0.90"/><circle cx="348.1" cy="154.8" r="0.83" fill="#666" fill-opacity="0.80"/><circle cx="346.7" cy="155.1" r="0.64" fill="#666" fill-opacity="0.96"/><circle cx="389.9" cy="191.3" r="0.56" fill="#555" fill-opacity="0.79"/><circle cx="351.1" cy="131.4" r="0.51" fill="#777" fill-opacity="0.80"/><circle cx="337.7" cy="192.3" r="0.83" fill="#666" fill-opacity="0.88"/><circle cx="332.7" cy="162.5" r="0.78" fill="#777" fill-opacity="0.62"/><circle cx="346.7" cy="176.1" r="0.57" fill="#555" fill-opacity="0.66"/><circle cx="326.3" cy="131.5" r="0.90" fill="#777" fill-opacity="0.81"/><circle cx="335.0" cy="160.7" r="0.63" fill="#555" fill-opacity="0.60"/><circle cx="296.4" cy="170.9" r="0.63" fill="#777" fill-opacity="0.72"/><circle cx="393.8" cy="220.4" r="0.55" fill="#777" fill-opacity="0.65"/><circle cx="378.2" cy="142.9" r="0.55" fill="#777" fill-opacity="0.91"/><circle cx="359.1" cy="224.5" r="0.72" fill="#777" fill-opacity="0.78"/><circle cx="379.7" cy="222.6" r="0.70" fill="#555" fill-opacity="0.87"/><circle cx="326.7" cy="156.1" r="0.75" fill="#666" fill-opacity="0.87"/><circle cx="348.8" cy="195.7" r="0.58" fill="#666" fill-opacity="0.65"/><circle cx="386.2" cy="188.6" r="0.61" fill="#555" fill-opacity="0.77"/><circle cx="331.1" cy="214.6" r="0.68" fill="#555" fill-opacity="0.95"/><circle cx="338.0" cy="169.7" r="0.80" fill="#777" fill-opacity="0.81"/><circle cx="330.7" cy="219.0" r="0.64" fill="#777" fill-opacity="0.70"/><circle cx="378.3" cy="137.2" r="0.53" fill="#666" fill-opacity="0.75"/><circle cx="348.3" cy="184.7" r="0.79" fill="#666" fill-opacity="0.60"/><circle cx="379.4" cy="212.4" r="0.58" fill="#777" fill-opacity="0.85"/><circle cx="325.3" cy="201.2" r="0.65" fill="#777" fill-opacity="0.92"/><circle cx="334.9" cy="161.5" r="0.82" fill="#777" fill-opacity="0.90"/><circle cx="390.2" cy="149.1" r="0.58" fill="#555" fill-opacity="0.65"/><circle cx="373.2" cy="219.6" r="0.61" fill="#666" fill-opacity="0.72"/><circle cx="374.4" cy="176.7" r="0.69" fill="#555" fill-opacity="0.77"/><circle cx="332.9" cy="172.6" r="0.59" fill="#666" fill-opacity="0.64"/><circle cx="320.8" cy="226.4" r="0.80" fill="#555" fill-opacity="0.90"/><circle cx="308.1" cy="164.2" r="0.88" fill="#777" fill-opacity="1.00"/><circle cx="377.7" cy="197.3" r="0.81" fill="#777" fill-opacity="0.77"/><circle cx="297.9" cy="156.8" r="0.51" fill="#666" fill-opacity="0.85"/><circle cx="330.8" cy="220.0" r="0.77" fill="#777" fill-opacity="0.74"/><circle cx="346.9" cy="185.1" r="0.88" fill="#555" fill-opacity="0.79"/><circle cx="350.7" cy="163.3" r="0.71" fill="#666" fill-opacity="0.86"/><circle cx="377.1" cy="125.3" r="0.86" fill="#666" fill-opacity="0.95"/><circle cx="326.4" cy="185.8" r="0.56" fill="#666" fill-opacity="0.71"/><circle cx="319.8" cy="198.7" r="0.68" fill="#555" fill-opacity="0.80"/><circle cx="377.1" cy="150.1" r="0.83" fill="#555" fill-opacity="0.94"/><circle cx="359.5" cy="206.5" r="0.62" fill="#555" fill-opacity="0.81"/><circle cx="296.8" cy="133.7" r="0.80" fill="#777" fill-opacity="0.89"/><circle cx="346.1" cy="179.9" r="0.55" fill="#777" fill-opacity="0.62"/><circle cx="364.8" cy="181.5" r="0.70" fill="#666" fill-opacity="0.86"/><circle cx="330.1" cy="149.2" r="0.79" fill="#777" fill-opacity="0.76"/><circle cx="370.1" cy="207.5" r="0.65" fill="#555" fill-opacity="0.75"/><circle cx="314.9" cy="125.0" r="0.79" fill="#555" fill-opacity="0.91"/><circle cx="329.2" cy="136.0" r="0.71" fill="#666" fill-opacity="0.68"/><circle cx="353.9" cy="181.0" r="0.64" fill="#666" fill-opacity="0.87"/><circle cx="386.5" cy="185.7" r="0.89" fill="#666" fill-opacity="0.98"/><circle cx="370.8" cy="180.5" r="0.70" fill="#777" fill-opacity="0.96"/><circle cx="296.5" cy="169.8" r="0.72" fill="#555" fill-opacity="0.64"/><circle cx="394.1" cy="163.0" r="0.90" fill="#777" fill-opacity="0.71"/><circle cx="316.1" cy="215.3" r="0.89" fill="#777" fill-opacity="0.79"/><circle cx="370.4" cy="223.6" r="0.70" fill="#777" fill-opacity="0.72"/><circle cx="378.5" cy="222.0" r="0.73" fill="#555" fill-opacity="0.95"/><circle cx="318.8" cy="220.9" r="0.65" fill="#777" fill-opacity="0.86"/><circle cx="365.5" cy="140.4" r="0.71" fill="#777" fill-opacity="0.75"/><circle cx="314.5" cy="141.9" r="0.50" fill="#666" fill-opacity="0.99"/><circle cx="303.6" cy="132.2" r="0.57" fill="#777" fill-opacity="0.92"/><circle cx="317.4" cy="206.3" r="0.66" fill="#555" fill-opacity="0.62"/><circle cx="364.4" cy="206.2" r="0.78" fill="#777" fill-opacity="0.93"/><circle cx="356.8" cy="213.1" r="0.72" fill="#555" fill-opacity="0.63"/><circle cx="356.0" cy="200.6" r="0.59" fill="#777" fill-opacity="0.64"/><circle cx="385.4" cy="152.4" r="0.80" fill="#555" fill-opacity="0.62"/><circle cx="316.4" cy="186.2" r="0.66" fill="#777" fill-opacity="0.86"/><circle cx="297.6" cy="169.5" r="0.61" fill="#555" fill-opacity="0.66"/><circle cx="390.0" cy="161.8" r="0.83" fill="#666" fill-opacity="0.87"/><circle cx="340.8" cy="199.4" r="0.82" fill="#777" fill-opacity="0.75"/><circle cx="335.7" cy="164.9" r="0.66" fill="#777" fill-opacity="0.98"/><circle cx="381.3" cy="162.5" r="0.55" fill="#666" fill-opacity="0.93"/><circle cx="315.1" cy="133.9" r="0.86" fill="#777" fill-opacity="0.66"/><circle cx="343.5" cy="225.0" r="0.74" fill="#777" fill-opacity="0.71"/><circle cx="348.5" cy="188.8" r="0.88" fill="#666" fill-opacity="0.85"/><circle cx="379.0" cy="127.2" r="0.62" fill="#777" fill-opacity="0.68"/><circle cx="346.1" cy="172.9" r="0.58" fill="#666" fill-opacity="0.63"/><circle cx="395.8" cy="155.1" r="0.64" fill="#666" fill-opacity="0.99"/><circle cx="316.6" cy="162.8" r="0.88" fill="#555" fill-opacity="0.89"/><circle cx="346.5" cy="145.9" r="0.86" fill="#777" fill-opacity="0.77"/><circle cx="304.5" cy="214.9" r="0.90" fill="#777" fill-opacity="0.67"/><circle cx="380.6" cy="142.2" r="0.53" fill="#666" fill-opacity="0.72"/><circle cx="309.7" cy="162.5" r="0.52" fill="#555" fill-opacity="0.68"/><circle cx="367.7" cy="220.6" r="0.75" fill="#777" fill-opacity="0.78"/><circle cx="349.6" cy="205.1" r="0.62" fill="#777" fill-opacity="0.61"/><circle cx="363.2" cy="127.4" r="0.77" fill="#666" fill-opacity="0.76"/><circle cx="384.2" cy="142.8" r="0.75" fill="#555" fill-opacity="0.75"/><circle cx="302.7" cy="220.5" r="0.57" fill="#555" fill-opacity="0.83"/><circle cx="333.9" cy="201.9" r="0.84" fill="#666" fill-opacity="0.68"/><circle cx="394.2" cy="170.1" r="0.78" fill="#666" fill-opacity="0.83"/><circle cx="369.6" cy="195.3" r="0.61" fill="#777" fill-opacity="0.89"/><circle cx="341.0" cy="203.2" r="0.57" fill="#777" fill-opacity="0.67"/><circle cx="314.0" cy="165.7" r="0.67" fill="#777" fill-opacity="0.65"/><circle cx="348.6" cy="170.9" r="0.78" fill="#555" fill-opacity="0.69"/><circle cx="386.9" cy="173.0" r="0.70" fill="#555" fill-opacity="0.83"/><circle cx="313.3" cy="166.1" r="0.63" fill="#666" fill-opacity="0.69"/><circle cx="323.8" cy="154.3" r="0.71" fill="#666" fill-opacity="0.81"/><circle cx="348.5" cy="215.9" r="0.67" fill="#777" fill-opacity="0.87"/><circle cx="368.9" cy="198.7" r="0.66" fill="#555" fill-opacity="0.74"/><circle cx="365.8" cy="140.8" r="0.52" fill="#666" fill-opacity="0.63"/><circle cx="374.0" cy="216.4" r="0.89" fill="#555" fill-opacity="0.64"/><circle cx="394.7" cy="147.0" r="0.75" fill="#666" fill-opacity="0.68"/><circle cx="316.6" cy="127.9" r="0.61" fill="#777" fill-opacity="0.68"/><circle cx="296.7" cy="164.6" r="0.52" fill="#777" fill-opacity="0.72"/><circle cx="329.3" cy="201.0" r="0.88" fill="#777" fill-opacity="0.70"/><circle cx="362.9" cy="189.6" r="0.60" fill="#555" fill-opacity="0.98"/><circle cx="330.6" cy="182.5" r="0.77" fill="#666" fill-opacity="0.96"/><circle cx="371.4" cy="170.0" r="0.80" fill="#777" fill-opacity="0.75"/><circle cx="386.5" cy="129.0" r="0.69" fill="#666" fill-opacity="0.75"/><circle cx="363.7" cy="142.2" r="0.87" fill="#777" fill-opacity="0.91"/><circle cx="381.9" cy="130.3" r="0.89" fill="#555" fill-opacity="0.91"/><circle cx="395.3" cy="154.9" r="0.56" fill="#555" fill-opacity="0.72"/><circle cx="313.4" cy="186.0" r="0.61" fill="#777" fill-opacity="0.74"/><circle cx="373.1" cy="161.2" r="0.63" fill="#666" fill-opacity="0.93"/><circle cx="381.0" cy="197.8" r="0.83" fill="#666" fill-opacity="0.92"/><circle cx="342.2" cy="167.8" r="0.72" fill="#666" fill-opacity="0.72"/><circle cx="383.6" cy="213.9" r="0.88" fill="#777" fill-opacity="0.77"/><circle cx="380.6" cy="186.0" r="0.75" fill="#666" fill-opacity="0.93"/><circle cx="324.2" cy="147.6" r="0.72" fill="#555" fill-opacity="0.98"/><circle cx="328.8" cy="190.5" r="0.67" fill="#666" fill-opacity="0.95"/><circle cx="372.0" cy="178.7" r="0.52" fill="#777" fill-opacity="0.85"/><circle cx="384.7" cy="179.1" r="0.70" fill="#666" fill-opacity="0.92"/><circle cx="381.4" cy="179.8" r="0.56" fill="#666" fill-opacity="0.81"/><circle cx="353.5" cy="218.5" r="0.79" fill="#666" fill-opacity="0.86"/><circle cx="308.7" cy="157.2" r="0.51" fill="#555" fill-opacity="0.70"/><circle cx="346.2" cy="131.0" r="0.82" fill="#777" fill-opacity="1.00"/><circle cx="330.3" cy="195.1" r="0.68" fill="#777" fill-opacity="0.77"/><circle cx="374.9" cy="171.3" r="0.79" fill="#555" fill-opacity="0.71"/><circle cx="364.6" cy="146.6" r="0.54" fill="#555" fill-opacity="0.74"/><circle cx="294.7" cy="169.6" r="0.57" fill="#555" fill-opacity="0.97"/><circle cx="383.0" cy="163.2" r="0.73" fill="#555" fill-opacity="0.65"/><circle cx="351.4" cy="221.5" r="0.79" fill="#555" fill-opacity="0.77"/><circle cx="367.2" cy="180.4" r="0.53" fill="#555" fill-opacity="0.89"/><circle cx="373.3" cy="138.5" r="0.54" fill="#666" fill-opacity="0.77"/><circle cx="297.0" cy="127.5" r="0.82" fill="#777" fill-opacity="0.70"/><circle cx="297.5" cy="151.3" r="0.86" fill="#777" fill-opacity="0.90"/><circle cx="393.8" cy="213.4" r="0.85" fill="#666" fill-opacity="0.96"/><circle cx="355.0" cy="211.8" r="0.60" fill="#777" fill-opacity="0.76"/><circle cx="299.5" cy="143.2" r="0.66" fill="#555" fill-opacity="0.79"/><circle cx="382.4" cy="144.0" r="0.60" fill="#555" fill-opacity="0.87"/><circle cx="394.9" cy="173.1" r="0.74" fill="#777" fill-opacity="0.87"/><circle cx="351.9" cy="201.3" r="0.72" fill="#555" fill-opacity="0.77"/><circle cx="334.6" cy="171.0" r="0.90" fill="#777" fill-opacity="0.94"/><circle cx="325.2" cy="193.7" r="0.65" fill="#555" fill-opacity="0.76"/><circle cx="311.5" cy="172.9" r="0.78" fill="#666" fill-opacity="0.83"/><circle cx="339.0" cy="162.1" r="0.67" fill="#555" fill-opacity="0.63"/><circle cx="332.5" cy="197.1" r="0.65" fill="#555" fill-opacity="0.81"/><circle cx="310.9" cy="190.1" r="0.55" fill="#666" fill-opacity="0.83"/><circle cx="381.1" cy="211.8" r="0.77" fill="#555" fill-opacity="0.87"/><circle cx="349.6" cy="130.4" r="0.87" fill="#555" fill-opacity="0.84"/><circle cx="311.0" cy="190.5" r="0.84" fill="#666" fill-opacity="0.80"/><circle cx="376.9" cy="221.0" r="0.79" fill="#555" fill-opacity="0.65"/><circle cx="319.0" cy="201.4" r="0.78" fill="#555" fill-opacity="0.70"/><circle cx="346.6" cy="172.5" r="0.87" fill="#666" fill-opacity="0.99"/><circle cx="339.3" cy="189.8" r="0.89" fill="#555" fill-opacity="0.67"/><circle cx="307.7" cy="146.3" r="0.55" fill="#555" fill-opacity="0.82"/></g>
<g filter="url(#bl05)"><circle cx="318.5" cy="135.5" r="0.92" fill="#ddd" fill-opacity="0.45"/><circle cx="296.5" cy="180.9" r="0.83" fill="#ddd" fill-opacity="0.51"/><circle cx="349.0" cy="153.1" r="0.74" fill="#ddd" fill-opacity="0.53"/><circle cx="390.2" cy="127.6" r="1.11" fill="#e6e6e6" fill-opacity="0.80"/><circle cx="314.1" cy="156.5" r="1.10" fill="#e6e6e6" fill-opacity="0.44"/><circle cx="356.0" cy="193.3" r="1.00" fill="#ddd" fill-opacity="0.52"/><circle cx="322.9" cy="221.1" r="1.25" fill="#e6e6e6" fill-opacity="0.40"/><circle cx="324.1" cy="196.7" r="0.85" fill="#ddd" fill-opacity="0.61"/><circle cx="355.3" cy="168.8" r="0.73" fill="#e6e6e6" fill-opacity="0.53"/><circle cx="375.4" cy="133.2" r="0.97" fill="#e6e6e6" fill-opacity="0.66"/><circle cx="360.3" cy="196.3" r="0.72" fill="#ddd" fill-opacity="0.43"/><circle cx="387.2" cy="189.6" r="0.95" fill="#ddd" fill-opacity="0.58"/><circle cx="370.3" cy="157.6" r="1.05" fill="#e6e6e6" fill-opacity="0.45"/><circle cx="300.8" cy="148.3" r="1.21" fill="#ddd" fill-opacity="0.46"/><circle cx="389.4" cy="154.6" r="0.62" fill="#e6e6e6" fill-opacity="0.75"/><circle cx="385.4" cy="222.1" r="1.19" fill="#e6e6e6" fill-opacity="0.41"/><circle cx="323.8" cy="223.2" r="1.22" fill="#e6e6e6" fill-opacity="0.83"/><circle cx="382.8" cy="194.2" r="0.66" fill="#ddd" fill-opacity="0.85"/><circle cx="324.1" cy="150.4" r="1.08" fill="#ddd" fill-opacity="0.57"/><circle cx="295.5" cy="129.6" r="0.74" fill="#e6e6e6" fill-opacity="0.90"/><circle cx="352.5" cy="169.7" r="0.77" fill="#ddd" fill-opacity="0.46"/><circle cx="300.8" cy="200.0" r="1.08" fill="#ddd" fill-opacity="0.70"/><circle cx="349.9" cy="184.3" r="0.86" fill="#ddd" fill-opacity="0.46"/><circle cx="348.2" cy="203.7" r="0.93" fill="#ddd" fill-opacity="0.64"/><circle cx="319.0" cy="166.8" r="0.63" fill="#e6e6e6" fill-opacity="0.62"/><circle cx="360.2" cy="168.5" r="0.77" fill="#ddd" fill-opacity="0.42"/><circle cx="320.3" cy="149.7" r="0.77" fill="#ddd" fill-opacity="0.61"/><circle cx="321.1" cy="158.1" r="1.31" fill="#e6e6e6" fill-opacity="0.68"/><circle cx="395.0" cy="166.0" r="1.32" fill="#ddd" fill-opacity="0.65"/><circle cx="303.9" cy="146.5" r="1.30" fill="#ddd" fill-opacity="0.57"/><circle cx="361.2" cy="206.3" r="1.11" fill="#e6e6e6" fill-opacity="0.66"/><circle cx="361.0" cy="194.8" r="0.81" fill="#e6e6e6" fill-opacity="0.88"/><circle cx="302.0" cy="223.8" r="1.37" fill="#ddd" fill-opacity="0.42"/><circle cx="385.7" cy="138.0" r="1.37" fill="#ddd" fill-opacity="0.84"/><circle cx="364.3" cy="172.2" r="0.98" fill="#e6e6e6" fill-opacity="0.86"/><circle cx="316.7" cy="125.3" r="1.34" fill="#ddd" fill-opacity="0.71"/><circle cx="320.6" cy="165.3" r="1.22" fill="#e6e6e6" fill-opacity="0.84"/><circle cx="350.4" cy="214.4" r="0.76" fill="#e6e6e6" fill-opacity="0.81"/><circle cx="351.6" cy="204.8" r="1.33" fill="#e6e6e6" fill-opacity="0.41"/><circle cx="298.0" cy="185.5" r="0.99" fill="#e6e6e6" fill-opacity="0.70"/><circle cx="308.6" cy="161.9" r="1.21" fill="#ddd" fill-opacity="0.55"/><circle cx="329.7" cy="132.6" r="1.37" fill="#e6e6e6" fill-opacity="0.59"/><circle cx="374.4" cy="156.6" r="0.79" fill="#e6e6e6" fill-opacity="0.83"/><circle cx="335.1" cy="132.9" r="1.33" fill="#e6e6e6" fill-opacity="0.66"/><circle cx="338.5" cy="212.2" r="1.22" fill="#ddd" fill-opacity="0.71"/><circle cx="390.0" cy="189.8" r="1.34" fill="#e6e6e6" fill-opacity="0.61"/><circle cx="375.5" cy="142.0" r="1.30" fill="#ddd" fill-opacity="0.75"/><circle cx="327.6" cy="212.4" r="0.81" fill="#ddd" fill-opacity="0.76"/><circle cx="295.1" cy="156.7" r="1.04" fill="#e6e6e6" fill-opacity="0.79"/><circle cx="355.5" cy="178.5" r="1.02" fill="#e6e6e6" fill-opacity="0.82"/><circle cx="330.7" cy="203.0" r="1.39" fill="#ddd" fill-opacity="0.74"/><circle cx="356.4" cy="156.9" r="1.33" fill="#e6e6e6" fill-opacity="0.79"/><circle cx="352.2" cy="220.3" r="1.01" fill="#e6e6e6" fill-opacity="0.71"/><circle cx="339.4" cy="139.3" r="1.22" fill="#e6e6e6" fill-opacity="0.89"/><circle cx="329.0" cy="169.1" r="1.08" fill="#ddd" fill-opacity="0.54"/><circle cx="389.9" cy="145.1" r="1.24" fill="#ddd" fill-opacity="0.44"/><circle cx="360.0" cy="217.0" r="0.86" fill="#e6e6e6" fill-opacity="0.56"/><circle cx="325.0" cy="127.4" r="0.62" fill="#ddd" fill-opacity="0.80"/><circle cx="376.4" cy="222.0" r="0.73" fill="#e6e6e6" fill-opacity="0.73"/><circle cx="395.2" cy="132.8" r="1.34" fill="#ddd" fill-opacity="0.49"/><circle cx="343.1" cy="215.1" r="0.78" fill="#e6e6e6" fill-opacity="0.83"/><circle cx="364.3" cy="214.6" r="0.79" fill="#e6e6e6" fill-opacity="0.75"/><circle cx="325.9" cy="148.4" r="0.86" fill="#e6e6e6" fill-opacity="0.85"/><circle cx="335.1" cy="165.7" r="1.25" fill="#e6e6e6" fill-opacity="0.62"/><circle cx="354.2" cy="150.6" r="1.32" fill="#e6e6e6" fill-opacity="0.75"/><circle cx="356.9" cy="162.0" r="1.36" fill="#ddd" fill-opacity="0.48"/><circle cx="301.4" cy="224.0" r="1.39" fill="#e6e6e6" fill-opacity="0.70"/><circle cx="326.2" cy="134.3" r="0.81" fill="#ddd" fill-opacity="0.72"/><circle cx="342.9" cy="186.4" r="0.65" fill="#ddd" fill-opacity="0.43"/><circle cx="308.0" cy="129.8" r="0.92" fill="#e6e6e6" fill-opacity="0.41"/><circle cx="319.4" cy="201.4" r="0.76" fill="#e6e6e6" fill-opacity="0.44"/><circle cx="322.0" cy="214.4" r="1.11" fill="#ddd" fill-opacity="0.77"/><circle cx="361.0" cy="221.9" r="1.30" fill="#ddd" fill-opacity="0.68"/><circle cx="364.9" cy="198.6" r="1.04" fill="#e6e6e6" fill-opacity="0.48"/><circle cx="380.2" cy="174.2" r="0.65" fill="#ddd" fill-opacity="0.48"/><circle cx="384.8" cy="177.4" r="1.03" fill="#e6e6e6" fill-opacity="0.83"/><circle cx="327.8" cy="164.3" r="0.94" fill="#ddd" fill-opacity="0.54"/><circle cx="363.1" cy="155.9" r="1.23" fill="#ddd" fill-opacity="0.48"/><circle cx="380.6" cy="208.7" r="0.79" fill="#ddd" fill-opacity="0.64"/><circle cx="367.4" cy="143.8" r="1.26" fill="#e6e6e6" fill-opacity="0.57"/><circle cx="312.0" cy="178.9" r="0.75" fill="#e6e6e6" fill-opacity="0.71"/><circle cx="387.0" cy="156.0" r="1.12" fill="#e6e6e6" fill-opacity="0.70"/><circle cx="298.3" cy="189.3" r="0.80" fill="#e6e6e6" fill-opacity="0.79"/><circle cx="343.0" cy="209.8" r="1.25" fill="#ddd" fill-opacity="0.85"/><circle cx="385.2" cy="214.8" r="1.13" fill="#ddd" fill-opacity="0.70"/><circle cx="348.0" cy="225.4" r="0.88" fill="#ddd" fill-opacity="0.49"/><circle cx="298.9" cy="177.8" r="1.26" fill="#ddd" fill-opacity="0.42"/><circle cx="363.1" cy="159.2" r="1.08" fill="#ddd" fill-opacity="0.75"/><circle cx="306.4" cy="224.5" r="1.26" fill="#ddd" fill-opacity="0.44"/><circle cx="317.5" cy="152.9" r="1.36" fill="#ddd" fill-opacity="0.41"/><circle cx="365.3" cy="146.7" r="0.80" fill="#e6e6e6" fill-opacity="0.81"/><circle cx="324.8" cy="164.5" r="1.08" fill="#ddd" fill-opacity="0.49"/><circle cx="344.6" cy="131.5" r="1.01" fill="#e6e6e6" fill-opacity="0.68"/><circle cx="323.2" cy="146.1" r="1.16" fill="#e6e6e6" fill-opacity="0.49"/><circle cx="296.3" cy="215.2" r="1.35" fill="#e6e6e6" fill-opacity="0.57"/><circle cx="386.7" cy="221.6" r="1.34" fill="#e6e6e6" fill-opacity="0.56"/><circle cx="357.4" cy="151.0" r="1.01" fill="#ddd" fill-opacity="0.60"/><circle cx="356.3" cy="193.7" r="1.11" fill="#e6e6e6" fill-opacity="0.44"/><circle cx="394.6" cy="141.9" r="0.67" fill="#ddd" fill-opacity="0.87"/><circle cx="320.2" cy="147.0" r="1.11" fill="#ddd" fill-opacity="0.72"/><circle cx="295.3" cy="183.0" r="0.76" fill="#ddd" fill-opacity="0.52"/><circle cx="380.1" cy="136.6" r="1.38" fill="#e6e6e6" fill-opacity="0.83"/><circle cx="353.6" cy="140.3" r="1.20" fill="#ddd" fill-opacity="0.85"/><circle cx="370.3" cy="201.9" r="1.24" fill="#ddd" fill-opacity="0.53"/><circle cx="354.8" cy="189.2" r="1.19" fill="#e6e6e6" fill-opacity="0.89"/><circle cx="311.0" cy="201.8" r="0.64" fill="#ddd" fill-opacity="0.88"/><circle cx="363.9" cy="224.5" r="0.65" fill="#e6e6e6" fill-opacity="0.75"/><circle cx="362.3" cy="210.7" r="0.68" fill="#ddd" fill-opacity="0.80"/><circle cx="334.3" cy="186.2" r="1.00" fill="#e6e6e6" fill-opacity="0.58"/><circle cx="370.0" cy="210.3" r="1.21" fill="#ddd" fill-opacity="0.49"/><circle cx="330.9" cy="155.2" r="0.89" fill="#ddd" fill-opacity="0.87"/><circle cx="363.3" cy="164.0" r="1.03" fill="#ddd" fill-opacity="0.87"/><circle cx="313.8" cy="160.4" r="1.39" fill="#ddd" fill-opacity="0.41"/><circle cx="306.5" cy="155.2" r="1.15" fill="#e6e6e6" fill-opacity="0.87"/><circle cx="345.0" cy="129.2" r="0.84" fill="#e6e6e6" fill-opacity="0.48"/><circle cx="395.5" cy="187.8" r="0.88" fill="#ddd" fill-opacity="0.62"/><circle cx="308.3" cy="128.0" r="1.23" fill="#e6e6e6" fill-opacity="0.51"/><circle cx="328.0" cy="185.8" r="0.64" fill="#ddd" fill-opacity="0.64"/><circle cx="393.3" cy="178.6" r="0.74" fill="#ddd" fill-opacity="0.70"/><circle cx="355.3" cy="198.7" r="0.62" fill="#e6e6e6" fill-opacity="0.52"/><circle cx="353.9" cy="188.2" r="0.71" fill="#e6e6e6" fill-opacity="0.52"/><circle cx="369.6" cy="180.0" r="0.90" fill="#e6e6e6" fill-opacity="0.86"/><circle cx="379.4" cy="192.1" r="1.06" fill="#e6e6e6" fill-opacity="0.53"/><circle cx="328.5" cy="179.7" r="1.04" fill="#e6e6e6" fill-opacity="0.69"/><circle cx="381.1" cy="175.3" r="1.26" fill="#ddd" fill-opacity="0.84"/><circle cx="355.0" cy="225.5" r="0.71" fill="#ddd" fill-opacity="0.70"/><circle cx="299.7" cy="208.4" r="1.30" fill="#ddd" fill-opacity="0.75"/><circle cx="299.3" cy="210.1" r="0.72" fill="#ddd" fill-opacity="0.53"/><circle cx="300.3" cy="173.4" r="1.29" fill="#ddd" fill-opacity="0.72"/><circle cx="371.7" cy="178.9" r="1.20" fill="#ddd" fill-opacity="0.84"/><circle cx="323.7" cy="167.4" r="0.60" fill="#e6e6e6" fill-opacity="0.44"/><circle cx="338.5" cy="133.1" r="0.94" fill="#ddd" fill-opacity="0.54"/><circle cx="380.3" cy="222.2" r="1.25" fill="#ddd" fill-opacity="0.76"/><circle cx="370.3" cy="133.2" r="0.67" fill="#ddd" fill-opacity="0.88"/><circle cx="347.3" cy="178.4" r="0.65" fill="#e6e6e6" fill-opacity="0.73"/><circle cx="358.5" cy="176.9" r="1.04" fill="#ddd" fill-opacity="0.43"/><circle cx="338.8" cy="138.8" r="0.68" fill="#e6e6e6" fill-opacity="0.66"/><circle cx="362.0" cy="138.5" r="1.07" fill="#ddd" fill-opacity="0.70"/><circle cx="295.0" cy="129.4" r="0.82" fill="#e6e6e6" fill-opacity="0.79"/><circle cx="354.7" cy="223.0" r="0.72" fill="#e6e6e6" fill-opacity="0.67"/><circle cx="319.6" cy="188.5" r="0.74" fill="#e6e6e6" fill-opacity="0.90"/><circle cx="353.4" cy="127.6" r="1.05" fill="#ddd" fill-opacity="0.53"/><circle cx="354.1" cy="183.3" r="1.08" fill="#e6e6e6" fill-opacity="0.87"/><circle cx="310.9" cy="141.3" r="1.37" fill="#e6e6e6" fill-opacity="0.75"/><circle cx="348.6" cy="187.8" r="0.82" fill="#ddd" fill-opacity="0.56"/><circle cx="382.1" cy="206.1" r="0.86" fill="#ddd" fill-opacity="0.49"/><circle cx="304.2" cy="226.2" r="0.63" fill="#ddd" fill-opacity="0.42"/><circle cx="390.2" cy="214.1" r="1.15" fill="#ddd" fill-opacity="0.51"/><circle cx="319.4" cy="223.4" r="0.91" fill="#ddd" fill-opacity="0.72"/><circle cx="390.8" cy="169.0" r="1.01" fill="#e6e6e6" fill-opacity="0.80"/><circle cx="304.3" cy="130.6" r="0.60" fill="#ddd" fill-opacity="0.62"/><circle cx="369.3" cy="181.7" r="1.38" fill="#e6e6e6" fill-opacity="0.65"/><circle cx="383.7" cy="138.5" r="0.88" fill="#ddd" fill-opacity="0.78"/><circle cx="352.6" cy="174.8" r="1.35" fill="#e6e6e6" fill-opacity="0.68"/><circle cx="303.8" cy="141.0" r="0.96" fill="#ddd" fill-opacity="0.78"/><circle cx="303.8" cy="135.2" r="0.70" fill="#e6e6e6" fill-opacity="0.77"/><circle cx="371.4" cy="214.8" r="0.85" fill="#e6e6e6" fill-opacity="0.84"/><circle cx="334.7" cy="217.9" r="0.68" fill="#e6e6e6" fill-opacity="0.84"/><circle cx="394.0" cy="209.5" r="1.17" fill="#e6e6e6" fill-opacity="0.89"/><circle cx="331.9" cy="148.1" r="1.28" fill="#ddd" fill-opacity="0.86"/><circle cx="323.4" cy="159.1" r="0.63" fill="#ddd" fill-opacity="0.71"/><circle cx="373.2" cy="148.5" r="1.01" fill="#e6e6e6" fill-opacity="0.62"/><circle cx="348.5" cy="192.7" r="1.00" fill="#ddd" fill-opacity="0.82"/><circle cx="338.2" cy="161.4" r="1.31" fill="#e6e6e6" fill-opacity="0.50"/><circle cx="328.3" cy="140.5" r="1.03" fill="#e6e6e6" fill-opacity="0.79"/><circle cx="374.8" cy="223.6" r="1.34" fill="#e6e6e6" fill-opacity="0.57"/><circle cx="346.1" cy="201.9" r="1.23" fill="#ddd" fill-opacity="0.77"/><circle cx="362.4" cy="150.9" r="1.10" fill="#ddd" fill-opacity="0.84"/><circle cx="348.9" cy="211.0" r="0.97" fill="#e6e6e6" fill-opacity="0.47"/><circle cx="294.7" cy="148.7" r="0.87" fill="#e6e6e6" fill-opacity="0.81"/><circle cx="379.6" cy="183.4" r="0.82" fill="#ddd" fill-opacity="0.73"/><circle cx="298.1" cy="136.3" r="1.19" fill="#ddd" fill-opacity="0.51"/><circle cx="375.5" cy="131.4" r="1.09" fill="#ddd" fill-opacity="0.50"/><circle cx="381.1" cy="177.2" r="0.75" fill="#ddd" fill-opacity="0.65"/><circle cx="327.7" cy="152.0" r="0.92" fill="#ddd" fill-opacity="0.75"/><circle cx="387.4" cy="159.4" r="1.11" fill="#ddd" fill-opacity="0.71"/><circle cx="321.3" cy="130.9" r="1.38" fill="#ddd" fill-opacity="0.84"/><circle cx="333.5" cy="146.0" r="0.80" fill="#e6e6e6" fill-opacity="0.77"/><circle cx="331.7" cy="220.8" r="1.21" fill="#ddd" fill-opacity="0.82"/><circle cx="368.1" cy="208.8" r="1.16" fill="#e6e6e6" fill-opacity="0.66"/><circle cx="332.6" cy="196.0" r="0.74" fill="#ddd" fill-opacity="0.48"/><circle cx="340.8" cy="212.9" r="1.02" fill="#e6e6e6" fill-opacity="0.58"/><circle cx="351.9" cy="150.1" r="1.11" fill="#e6e6e6" fill-opacity="0.69"/><circle cx="321.6" cy="195.1" r="0.87" fill="#e6e6e6" fill-opacity="0.79"/><circle cx="366.0" cy="137.1" r="1.01" fill="#ddd" fill-opacity="0.87"/><circle cx="392.1" cy="195.4" r="0.91" fill="#ddd" fill-opacity="0.73"/><circle cx="356.7" cy="144.2" r="1.31" fill="#ddd" fill-opacity="0.81"/><circle cx="297.7" cy="176.4" r="1.14" fill="#ddd" fill-opacity="0.54"/><circle cx="378.5" cy="203.2" r="0.75" fill="#e6e6e6" fill-opacity="0.69"/><circle cx="321.9" cy="217.7" r="0.61" fill="#e6e6e6" fill-opacity="0.58"/><circle cx="376.6" cy="199.9" r="1.08" fill="#e6e6e6" fill-opacity="0.88"/><circle cx="370.4" cy="211.4" r="0.99" fill="#ddd" fill-opacity="0.48"/><circle cx="372.1" cy="158.9" r="0.63" fill="#ddd" fill-opacity="0.49"/><circle cx="349.2" cy="220.8" r="0.86" fill="#ddd" fill-opacity="0.81"/><circle cx="353.2" cy="168.7" r="1.19" fill="#e6e6e6" fill-opacity="0.56"/><circle cx="387.2" cy="195.2" r="1.20" fill="#e6e6e6" fill-opacity="0.64"/><circle cx="320.9" cy="136.4" r="1.13" fill="#e6e6e6" fill-opacity="0.85"/><circle cx="387.8" cy="176.2" r="0.99" fill="#e6e6e6" fill-opacity="0.44"/><circle cx="332.5" cy="180.5" r="1.08" fill="#ddd" fill-opacity="0.48"/><circle cx="346.1" cy="142.9" r="0.91" fill="#ddd" fill-opacity="0.42"/></g>
</g>
<path d="M322.6,132.0 C327.1,131.7 332.9,133.5 338.0,134.0 C343.1,134.5 347.8,134.3 353.1,135.0 C358.4,135.7 364.9,136.6 370.0,138.0 C375.1,139.4 380.4,140.6 383.7,143.4 C387.0,146.2 388.5,150.6 390.0,155.0 C391.5,159.4 392.7,165.4 392.9,169.9 C393.1,174.4 391.5,178.6 391.0,182.0 C390.5,185.4 391.1,187.0 389.8,190.3 C388.5,193.6 385.7,198.3 383.0,202.0 C380.3,205.7 377.7,210.2 373.5,212.7 C369.3,215.2 363.1,215.9 358.0,217.0 C352.9,218.1 348.3,219.0 343.0,219.0 C337.7,219.0 331.1,218.1 326.0,217.0 C320.9,215.9 316.2,214.9 312.4,212.7 C308.6,210.5 305.6,207.4 303.0,204.0 C300.4,200.6 298.4,196.3 297.1,192.3 C295.8,188.3 295.6,184.1 295.2,180.0 C294.8,175.9 294.6,172.3 295.0,167.8 C295.4,163.3 296.3,157.1 297.5,153.0 C298.7,148.9 299.9,146.2 302.2,143.4 C304.4,140.6 307.6,137.9 311.0,136.0 C314.4,134.1 318.1,132.3 322.6,132.0 Z" fill="none" stroke="#4a4a4a" stroke-width="1.3"/>
<line x1="313" y1="125" x2="298" y2="172" stroke="#666" stroke-width="1"/>
<circle cx="296" cy="138" r="5.5" fill="#2a2a2a" filter="url(#bl05)"/>
<circle cx="376.6" cy="166" r="4.2" fill="#0a0a0a" filter="url(#bl05)"/>
<line x1="396" y1="146.4" x2="385.3" y2="157.7" stroke="#000" stroke-width="1.9"/><polygon points="381.5,161.7 383.4,154.5 388.6,159.5" fill="#000"/>
<polyline transform="rotate(-30 304.5 174)" points="301.8,172.11 304.5,175.35 307.2,172.11" fill="none" stroke="#111" stroke-width="2"/>
<polyline points="374,215 379,222 384,226" fill="none" stroke="#333" stroke-width="1"/>
<rect x="302.2" y="220.4" width="21.4" height="2.5" fill="#000"/>
</g>
<clipPath id="ci4"><rect x="405" y="126" width="101" height="101"/></clipPath>
<clipPath id="cc4"><ellipse cx="450.9" cy="173.9" rx="44" ry="43.3"/></clipPath>
<g clip-path="url(#ci4)">
<rect x="405" y="126" width="101" height="101" fill="#c0c0c0"/>
<rect x="405" y="126" width="101" height="101" filter="url(#nDarkMid)" opacity="0.15"/>
<g filter="url(#bl05)"><circle cx="427.9" cy="223.2" r="0.93" fill="#a8a8a8" fill-opacity="0.53"/><circle cx="430.0" cy="226.9" r="1.01" fill="#a8a8a8" fill-opacity="0.68"/><circle cx="450.8" cy="176.0" r="0.99" fill="#b0b0b0" fill-opacity="0.54"/><circle cx="428.7" cy="128.0" r="1.07" fill="#b0b0b0" fill-opacity="0.69"/><circle cx="497.0" cy="199.3" r="1.46" fill="#a8a8a8" fill-opacity="0.90"/><circle cx="411.4" cy="188.6" r="1.18" fill="#a8a8a8" fill-opacity="0.64"/><circle cx="474.8" cy="176.3" r="1.45" fill="#a8a8a8" fill-opacity="0.73"/><circle cx="419.4" cy="132.5" r="1.75" fill="#b0b0b0" fill-opacity="0.78"/><circle cx="420.0" cy="212.9" r="1.26" fill="#b0b0b0" fill-opacity="0.61"/><circle cx="441.0" cy="214.7" r="0.93" fill="#a8a8a8" fill-opacity="0.71"/><circle cx="436.7" cy="162.1" r="1.44" fill="#b0b0b0" fill-opacity="0.70"/><circle cx="425.0" cy="141.2" r="1.33" fill="#a8a8a8" fill-opacity="0.82"/><circle cx="491.5" cy="218.2" r="1.34" fill="#b0b0b0" fill-opacity="0.60"/><circle cx="406.2" cy="160.7" r="1.07" fill="#b0b0b0" fill-opacity="0.60"/><circle cx="435.1" cy="197.2" r="1.22" fill="#b0b0b0" fill-opacity="0.55"/><circle cx="499.2" cy="212.1" r="0.83" fill="#a8a8a8" fill-opacity="0.62"/><circle cx="406.3" cy="203.2" r="1.14" fill="#a8a8a8" fill-opacity="0.73"/><circle cx="496.4" cy="140.0" r="1.36" fill="#b0b0b0" fill-opacity="0.67"/><circle cx="464.4" cy="155.2" r="0.90" fill="#a8a8a8" fill-opacity="0.77"/><circle cx="482.2" cy="179.3" r="0.95" fill="#b0b0b0" fill-opacity="0.78"/><circle cx="504.0" cy="132.4" r="0.82" fill="#a8a8a8" fill-opacity="0.64"/><circle cx="471.5" cy="138.2" r="1.10" fill="#b0b0b0" fill-opacity="0.89"/><circle cx="405.3" cy="210.4" r="1.01" fill="#a8a8a8" fill-opacity="0.85"/><circle cx="492.8" cy="207.7" r="1.62" fill="#a8a8a8" fill-opacity="0.57"/><circle cx="503.0" cy="170.6" r="0.88" fill="#a8a8a8" fill-opacity="0.70"/><circle cx="452.8" cy="141.6" r="0.92" fill="#b0b0b0" fill-opacity="0.76"/><circle cx="477.7" cy="178.0" r="0.89" fill="#b0b0b0" fill-opacity="0.73"/><circle cx="487.5" cy="172.0" r="0.85" fill="#a8a8a8" fill-opacity="0.68"/><circle cx="415.9" cy="199.2" r="1.51" fill="#a8a8a8" fill-opacity="0.76"/><circle cx="488.8" cy="179.3" r="1.78" fill="#a8a8a8" fill-opacity="0.70"/><circle cx="437.7" cy="164.8" r="1.32" fill="#a8a8a8" fill-opacity="0.50"/><circle cx="466.9" cy="217.8" r="1.54" fill="#b0b0b0" fill-opacity="0.59"/><circle cx="434.9" cy="181.3" r="1.78" fill="#b0b0b0" fill-opacity="0.82"/><circle cx="479.8" cy="158.4" r="1.10" fill="#b0b0b0" fill-opacity="0.81"/><circle cx="434.9" cy="211.4" r="1.00" fill="#b0b0b0" fill-opacity="0.65"/><circle cx="464.1" cy="218.8" r="1.01" fill="#b0b0b0" fill-opacity="0.75"/><circle cx="490.1" cy="195.1" r="1.74" fill="#b0b0b0" fill-opacity="0.83"/><circle cx="466.1" cy="162.6" r="1.23" fill="#b0b0b0" fill-opacity="0.83"/><circle cx="456.2" cy="134.3" r="0.96" fill="#b0b0b0" fill-opacity="0.79"/><circle cx="432.4" cy="168.4" r="0.92" fill="#b0b0b0" fill-opacity="0.89"/><circle cx="432.7" cy="209.4" r="1.07" fill="#b0b0b0" fill-opacity="0.60"/><circle cx="429.8" cy="151.0" r="1.30" fill="#b0b0b0" fill-opacity="0.60"/><circle cx="487.1" cy="186.3" r="1.63" fill="#b0b0b0" fill-opacity="0.70"/><circle cx="415.7" cy="137.3" r="0.88" fill="#a8a8a8" fill-opacity="0.81"/><circle cx="505.3" cy="219.0" r="1.59" fill="#a8a8a8" fill-opacity="0.51"/><circle cx="424.3" cy="152.7" r="0.90" fill="#b0b0b0" fill-opacity="0.85"/><circle cx="496.4" cy="219.5" r="0.89" fill="#b0b0b0" fill-opacity="0.85"/><circle cx="470.9" cy="158.3" r="0.84" fill="#a8a8a8" fill-opacity="0.84"/><circle cx="471.0" cy="163.0" r="1.63" fill="#a8a8a8" fill-opacity="0.79"/><circle cx="465.6" cy="158.2" r="1.10" fill="#b0b0b0" fill-opacity="0.89"/><circle cx="411.7" cy="216.9" r="1.72" fill="#b0b0b0" fill-opacity="0.67"/><circle cx="420.9" cy="216.2" r="0.95" fill="#a8a8a8" fill-opacity="0.54"/><circle cx="427.5" cy="155.6" r="0.98" fill="#a8a8a8" fill-opacity="0.54"/><circle cx="410.1" cy="182.1" r="1.54" fill="#a8a8a8" fill-opacity="0.72"/><circle cx="438.0" cy="215.1" r="1.54" fill="#b0b0b0" fill-opacity="0.54"/><circle cx="477.5" cy="134.4" r="0.94" fill="#a8a8a8" fill-opacity="0.59"/><circle cx="427.0" cy="143.6" r="0.94" fill="#b0b0b0" fill-opacity="0.52"/><circle cx="494.6" cy="185.1" r="1.41" fill="#b0b0b0" fill-opacity="0.83"/><circle cx="449.1" cy="195.3" r="1.54" fill="#b0b0b0" fill-opacity="0.78"/><circle cx="504.3" cy="175.5" r="1.17" fill="#a8a8a8" fill-opacity="0.62"/><circle cx="473.7" cy="174.1" r="0.93" fill="#b0b0b0" fill-opacity="0.70"/><circle cx="503.1" cy="179.9" r="1.74" fill="#b0b0b0" fill-opacity="0.82"/><circle cx="462.4" cy="165.5" r="0.93" fill="#b0b0b0" fill-opacity="0.76"/><circle cx="417.6" cy="165.8" r="0.83" fill="#b0b0b0" fill-opacity="0.70"/><circle cx="434.9" cy="163.9" r="0.83" fill="#a8a8a8" fill-opacity="0.83"/><circle cx="406.5" cy="209.6" r="1.25" fill="#a8a8a8" fill-opacity="0.81"/><circle cx="490.0" cy="183.0" r="1.38" fill="#a8a8a8" fill-opacity="0.65"/><circle cx="455.7" cy="225.8" r="1.52" fill="#b0b0b0" fill-opacity="0.89"/><circle cx="441.2" cy="221.6" r="1.45" fill="#b0b0b0" fill-opacity="0.84"/><circle cx="470.3" cy="174.2" r="1.38" fill="#b0b0b0" fill-opacity="0.80"/><circle cx="448.4" cy="201.0" r="1.47" fill="#a8a8a8" fill-opacity="0.87"/><circle cx="472.0" cy="191.7" r="0.86" fill="#a8a8a8" fill-opacity="0.70"/><circle cx="453.8" cy="174.1" r="0.97" fill="#a8a8a8" fill-opacity="0.76"/><circle cx="484.4" cy="205.1" r="1.54" fill="#b0b0b0" fill-opacity="0.68"/><circle cx="434.9" cy="166.7" r="1.30" fill="#a8a8a8" fill-opacity="0.70"/><circle cx="471.0" cy="160.4" r="1.38" fill="#a8a8a8" fill-opacity="0.64"/><circle cx="465.6" cy="172.1" r="1.27" fill="#b0b0b0" fill-opacity="0.58"/><circle cx="457.9" cy="185.6" r="1.58" fill="#a8a8a8" fill-opacity="0.54"/><circle cx="485.1" cy="202.7" r="1.02" fill="#b0b0b0" fill-opacity="0.60"/><circle cx="494.0" cy="145.9" r="0.92" fill="#a8a8a8" fill-opacity="0.68"/><circle cx="488.7" cy="158.0" r="0.83" fill="#a8a8a8" fill-opacity="0.79"/><circle cx="479.5" cy="184.2" r="1.44" fill="#a8a8a8" fill-opacity="0.52"/><circle cx="426.6" cy="158.0" r="0.89" fill="#a8a8a8" fill-opacity="0.86"/><circle cx="405.0" cy="225.0" r="0.90" fill="#a8a8a8" fill-opacity="0.69"/><circle cx="504.6" cy="198.4" r="1.78" fill="#a8a8a8" fill-opacity="0.67"/><circle cx="419.9" cy="140.7" r="1.51" fill="#b0b0b0" fill-opacity="0.87"/><circle cx="449.1" cy="131.0" r="1.21" fill="#a8a8a8" fill-opacity="0.90"/><circle cx="433.8" cy="203.7" r="1.12" fill="#a8a8a8" fill-opacity="0.59"/><circle cx="445.1" cy="196.0" r="1.06" fill="#b0b0b0" fill-opacity="0.74"/><circle cx="446.0" cy="147.1" r="1.49" fill="#a8a8a8" fill-opacity="0.58"/><circle cx="486.5" cy="192.2" r="1.67" fill="#b0b0b0" fill-opacity="0.56"/><circle cx="488.3" cy="150.1" r="1.71" fill="#b0b0b0" fill-opacity="0.64"/><circle cx="456.1" cy="215.4" r="1.48" fill="#b0b0b0" fill-opacity="0.85"/><circle cx="503.0" cy="188.4" r="1.42" fill="#b0b0b0" fill-opacity="0.54"/><circle cx="457.4" cy="160.0" r="1.75" fill="#a8a8a8" fill-opacity="0.88"/><circle cx="448.0" cy="194.3" r="1.72" fill="#b0b0b0" fill-opacity="0.78"/><circle cx="461.9" cy="152.9" r="1.24" fill="#a8a8a8" fill-opacity="0.76"/><circle cx="477.7" cy="166.2" r="0.82" fill="#b0b0b0" fill-opacity="0.66"/><circle cx="482.7" cy="138.0" r="1.19" fill="#b0b0b0" fill-opacity="0.66"/><circle cx="406.1" cy="160.1" r="1.52" fill="#a8a8a8" fill-opacity="0.51"/><circle cx="406.5" cy="197.2" r="1.49" fill="#b0b0b0" fill-opacity="0.65"/><circle cx="453.9" cy="184.6" r="1.41" fill="#a8a8a8" fill-opacity="0.52"/><circle cx="449.9" cy="134.2" r="0.83" fill="#a8a8a8" fill-opacity="0.75"/><circle cx="412.5" cy="159.9" r="1.18" fill="#b0b0b0" fill-opacity="0.87"/><circle cx="466.1" cy="223.4" r="1.54" fill="#b0b0b0" fill-opacity="0.75"/><circle cx="503.0" cy="222.0" r="1.28" fill="#b0b0b0" fill-opacity="0.73"/><circle cx="429.9" cy="207.3" r="1.78" fill="#a8a8a8" fill-opacity="0.71"/><circle cx="456.3" cy="166.5" r="1.25" fill="#b0b0b0" fill-opacity="0.85"/><circle cx="472.5" cy="225.3" r="1.37" fill="#a8a8a8" fill-opacity="0.87"/><circle cx="479.4" cy="183.2" r="1.75" fill="#a8a8a8" fill-opacity="0.68"/><circle cx="423.5" cy="142.1" r="1.59" fill="#b0b0b0" fill-opacity="0.64"/><circle cx="410.6" cy="166.4" r="1.76" fill="#a8a8a8" fill-opacity="0.86"/><circle cx="460.7" cy="198.1" r="1.49" fill="#b0b0b0" fill-opacity="0.61"/><circle cx="500.3" cy="174.2" r="0.87" fill="#a8a8a8" fill-opacity="0.75"/><circle cx="434.5" cy="144.3" r="0.90" fill="#a8a8a8" fill-opacity="0.57"/><circle cx="477.6" cy="158.6" r="1.04" fill="#a8a8a8" fill-opacity="0.68"/><circle cx="482.5" cy="129.0" r="1.15" fill="#a8a8a8" fill-opacity="0.71"/><circle cx="454.6" cy="130.0" r="0.89" fill="#b0b0b0" fill-opacity="0.60"/><circle cx="496.7" cy="136.6" r="1.67" fill="#b0b0b0" fill-opacity="0.73"/><circle cx="415.1" cy="211.4" r="0.83" fill="#a8a8a8" fill-opacity="0.66"/><circle cx="495.7" cy="193.7" r="1.71" fill="#b0b0b0" fill-opacity="0.74"/><circle cx="484.3" cy="173.5" r="1.48" fill="#b0b0b0" fill-opacity="0.83"/><circle cx="483.5" cy="198.6" r="1.04" fill="#a8a8a8" fill-opacity="0.61"/><circle cx="461.6" cy="193.4" r="1.72" fill="#a8a8a8" fill-opacity="0.58"/><circle cx="457.7" cy="208.3" r="1.13" fill="#b0b0b0" fill-opacity="0.53"/><circle cx="421.7" cy="158.3" r="1.63" fill="#b0b0b0" fill-opacity="0.88"/><circle cx="435.3" cy="148.2" r="1.72" fill="#a8a8a8" fill-opacity="0.86"/><circle cx="427.3" cy="211.8" r="0.96" fill="#a8a8a8" fill-opacity="0.70"/><circle cx="493.3" cy="180.9" r="0.89" fill="#b0b0b0" fill-opacity="0.88"/><circle cx="443.8" cy="219.1" r="1.24" fill="#b0b0b0" fill-opacity="0.79"/><circle cx="436.3" cy="224.9" r="1.71" fill="#a8a8a8" fill-opacity="0.51"/><circle cx="497.0" cy="162.6" r="1.50" fill="#a8a8a8" fill-opacity="0.79"/><circle cx="505.7" cy="196.9" r="0.84" fill="#a8a8a8" fill-opacity="0.75"/><circle cx="460.1" cy="220.8" r="0.85" fill="#a8a8a8" fill-opacity="0.52"/><circle cx="494.8" cy="158.2" r="1.05" fill="#b0b0b0" fill-opacity="0.84"/><circle cx="440.8" cy="176.8" r="1.34" fill="#a8a8a8" fill-opacity="0.60"/><circle cx="493.0" cy="190.8" r="0.99" fill="#a8a8a8" fill-opacity="0.61"/><circle cx="468.4" cy="168.3" r="0.99" fill="#a8a8a8" fill-opacity="0.81"/><circle cx="436.9" cy="176.5" r="1.03" fill="#a8a8a8" fill-opacity="0.87"/><circle cx="494.4" cy="177.7" r="1.56" fill="#a8a8a8" fill-opacity="0.84"/></g>
<g filter="url(#bl1)"><circle cx="423.3" cy="192.8" r="1.67" fill="#d8d8d8" fill-opacity="0.98"/><circle cx="468.4" cy="144.5" r="1.61" fill="#dedede" fill-opacity="0.68"/><circle cx="495.8" cy="137.9" r="1.93" fill="#d8d8d8" fill-opacity="0.95"/><circle cx="500.3" cy="149.7" r="1.53" fill="#dedede" fill-opacity="0.83"/><circle cx="425.4" cy="194.4" r="2.42" fill="#dedede" fill-opacity="0.69"/><circle cx="435.2" cy="126.7" r="2.57" fill="#d8d8d8" fill-opacity="0.91"/><circle cx="446.0" cy="160.9" r="2.00" fill="#dedede" fill-opacity="0.93"/><circle cx="465.6" cy="156.6" r="1.36" fill="#dedede" fill-opacity="0.83"/><circle cx="455.6" cy="176.1" r="2.31" fill="#d8d8d8" fill-opacity="0.68"/><circle cx="470.4" cy="207.5" r="1.38" fill="#dedede" fill-opacity="0.83"/><circle cx="497.1" cy="146.3" r="1.56" fill="#dedede" fill-opacity="0.92"/><circle cx="489.1" cy="192.4" r="1.86" fill="#dedede" fill-opacity="0.66"/><circle cx="420.4" cy="134.0" r="2.11" fill="#dedede" fill-opacity="0.68"/><circle cx="496.9" cy="189.6" r="2.31" fill="#d8d8d8" fill-opacity="0.99"/><circle cx="418.4" cy="195.6" r="2.44" fill="#dedede" fill-opacity="0.76"/><circle cx="445.9" cy="164.9" r="1.38" fill="#dedede" fill-opacity="0.87"/><circle cx="441.4" cy="159.9" r="2.22" fill="#dedede" fill-opacity="0.97"/><circle cx="448.8" cy="196.6" r="2.41" fill="#dedede" fill-opacity="0.66"/><circle cx="421.4" cy="200.6" r="2.11" fill="#dedede" fill-opacity="0.60"/><circle cx="461.2" cy="209.6" r="1.97" fill="#d8d8d8" fill-opacity="0.91"/><circle cx="482.8" cy="168.6" r="1.77" fill="#dedede" fill-opacity="0.95"/><circle cx="489.5" cy="210.8" r="2.31" fill="#d8d8d8" fill-opacity="0.67"/><circle cx="484.2" cy="222.7" r="2.22" fill="#dedede" fill-opacity="0.80"/><circle cx="483.8" cy="135.5" r="1.69" fill="#d8d8d8" fill-opacity="0.99"/><circle cx="457.9" cy="219.9" r="1.57" fill="#d8d8d8" fill-opacity="0.67"/><circle cx="462.8" cy="226.6" r="1.52" fill="#dedede" fill-opacity="0.64"/><circle cx="442.8" cy="162.1" r="1.32" fill="#dedede" fill-opacity="0.97"/><circle cx="477.7" cy="166.1" r="1.77" fill="#dedede" fill-opacity="0.90"/><circle cx="505.6" cy="127.1" r="2.50" fill="#d8d8d8" fill-opacity="0.83"/><circle cx="445.6" cy="135.1" r="1.60" fill="#dedede" fill-opacity="0.65"/><circle cx="473.3" cy="170.2" r="1.35" fill="#dedede" fill-opacity="0.93"/><circle cx="431.3" cy="209.8" r="2.29" fill="#d8d8d8" fill-opacity="0.69"/><circle cx="412.7" cy="173.2" r="2.29" fill="#dedede" fill-opacity="0.66"/><circle cx="503.6" cy="135.4" r="1.71" fill="#dedede" fill-opacity="0.81"/><circle cx="496.6" cy="204.2" r="2.40" fill="#dedede" fill-opacity="0.78"/><circle cx="407.1" cy="191.3" r="2.51" fill="#d8d8d8" fill-opacity="0.86"/><circle cx="425.6" cy="134.4" r="2.13" fill="#dedede" fill-opacity="0.89"/><circle cx="463.3" cy="154.3" r="1.54" fill="#d8d8d8" fill-opacity="0.89"/><circle cx="436.7" cy="221.4" r="1.52" fill="#dedede" fill-opacity="0.71"/><circle cx="458.2" cy="194.1" r="2.24" fill="#d8d8d8" fill-opacity="0.71"/><circle cx="418.8" cy="176.4" r="1.54" fill="#dedede" fill-opacity="0.79"/><circle cx="458.1" cy="197.3" r="1.69" fill="#d8d8d8" fill-opacity="0.84"/><circle cx="434.5" cy="226.2" r="1.60" fill="#d8d8d8" fill-opacity="0.68"/><circle cx="469.3" cy="178.5" r="2.44" fill="#d8d8d8" fill-opacity="0.67"/><circle cx="504.8" cy="226.3" r="1.53" fill="#dedede" fill-opacity="0.63"/><circle cx="460.7" cy="143.8" r="1.84" fill="#d8d8d8" fill-opacity="0.78"/><circle cx="479.2" cy="210.1" r="1.87" fill="#d8d8d8" fill-opacity="0.90"/><circle cx="437.6" cy="152.6" r="1.62" fill="#d8d8d8" fill-opacity="0.75"/><circle cx="468.6" cy="200.3" r="2.18" fill="#dedede" fill-opacity="0.96"/><circle cx="442.7" cy="129.6" r="2.12" fill="#d8d8d8" fill-opacity="0.85"/><circle cx="497.2" cy="140.6" r="1.29" fill="#dedede" fill-opacity="0.98"/><circle cx="431.1" cy="223.6" r="1.87" fill="#d8d8d8" fill-opacity="0.95"/><circle cx="420.4" cy="159.8" r="1.80" fill="#d8d8d8" fill-opacity="0.61"/><circle cx="434.2" cy="208.3" r="2.52" fill="#d8d8d8" fill-opacity="0.74"/><circle cx="468.7" cy="128.1" r="1.25" fill="#dedede" fill-opacity="0.98"/><circle cx="410.6" cy="193.6" r="2.22" fill="#dedede" fill-opacity="0.72"/><circle cx="460.8" cy="204.5" r="1.65" fill="#dedede" fill-opacity="0.94"/><circle cx="433.7" cy="162.0" r="2.58" fill="#dedede" fill-opacity="0.77"/><circle cx="441.9" cy="180.0" r="1.36" fill="#dedede" fill-opacity="0.66"/><circle cx="498.1" cy="146.9" r="1.71" fill="#dedede" fill-opacity="0.71"/><circle cx="424.3" cy="140.8" r="1.63" fill="#dedede" fill-opacity="0.88"/><circle cx="439.8" cy="152.0" r="2.38" fill="#dedede" fill-opacity="0.68"/><circle cx="462.7" cy="196.4" r="2.59" fill="#d8d8d8" fill-opacity="0.90"/><circle cx="473.2" cy="198.6" r="1.26" fill="#d8d8d8" fill-opacity="0.94"/><circle cx="441.0" cy="203.6" r="1.75" fill="#dedede" fill-opacity="0.93"/><circle cx="490.4" cy="133.0" r="2.43" fill="#dedede" fill-opacity="0.79"/><circle cx="491.6" cy="146.2" r="2.56" fill="#dedede" fill-opacity="0.92"/><circle cx="460.2" cy="183.9" r="1.54" fill="#d8d8d8" fill-opacity="0.69"/><circle cx="481.2" cy="184.8" r="1.80" fill="#dedede" fill-opacity="0.77"/><circle cx="473.5" cy="180.8" r="1.71" fill="#dedede" fill-opacity="0.88"/><circle cx="471.3" cy="154.4" r="1.25" fill="#d8d8d8" fill-opacity="0.89"/><circle cx="424.0" cy="203.6" r="1.66" fill="#dedede" fill-opacity="0.64"/><circle cx="491.1" cy="209.2" r="2.36" fill="#d8d8d8" fill-opacity="0.72"/><circle cx="501.6" cy="148.5" r="2.18" fill="#dedede" fill-opacity="0.68"/><circle cx="417.3" cy="157.6" r="1.67" fill="#d8d8d8" fill-opacity="0.89"/><circle cx="494.1" cy="216.0" r="2.30" fill="#d8d8d8" fill-opacity="0.67"/><circle cx="500.6" cy="126.9" r="1.97" fill="#dedede" fill-opacity="0.94"/><circle cx="417.6" cy="139.6" r="1.92" fill="#d8d8d8" fill-opacity="0.98"/><circle cx="446.0" cy="160.2" r="2.12" fill="#dedede" fill-opacity="0.77"/><circle cx="409.8" cy="164.3" r="1.49" fill="#dedede" fill-opacity="0.96"/><circle cx="474.4" cy="172.8" r="1.78" fill="#d8d8d8" fill-opacity="0.81"/><circle cx="430.4" cy="132.1" r="2.24" fill="#dedede" fill-opacity="0.85"/><circle cx="418.0" cy="208.3" r="2.59" fill="#d8d8d8" fill-opacity="0.61"/><circle cx="488.2" cy="128.9" r="1.62" fill="#dedede" fill-opacity="0.99"/><circle cx="451.1" cy="180.6" r="2.44" fill="#dedede" fill-opacity="0.93"/><circle cx="480.3" cy="132.3" r="1.94" fill="#dedede" fill-opacity="0.95"/><circle cx="504.9" cy="152.5" r="2.14" fill="#dedede" fill-opacity="0.70"/><circle cx="409.1" cy="177.6" r="2.40" fill="#dedede" fill-opacity="0.85"/><circle cx="443.5" cy="211.0" r="1.91" fill="#d8d8d8" fill-opacity="0.71"/><circle cx="423.6" cy="198.5" r="1.64" fill="#d8d8d8" fill-opacity="0.82"/><circle cx="426.3" cy="143.7" r="2.32" fill="#dedede" fill-opacity="0.79"/><circle cx="456.0" cy="198.3" r="1.27" fill="#dedede" fill-opacity="0.99"/><circle cx="433.0" cy="196.8" r="1.45" fill="#dedede" fill-opacity="0.98"/><circle cx="458.0" cy="162.5" r="2.11" fill="#dedede" fill-opacity="0.89"/><circle cx="440.3" cy="211.2" r="1.80" fill="#dedede" fill-opacity="0.91"/><circle cx="452.5" cy="162.4" r="2.35" fill="#d8d8d8" fill-opacity="0.80"/><circle cx="436.3" cy="222.6" r="1.36" fill="#dedede" fill-opacity="0.88"/><circle cx="405.6" cy="205.1" r="1.32" fill="#d8d8d8" fill-opacity="0.85"/><circle cx="413.8" cy="164.0" r="1.71" fill="#dedede" fill-opacity="0.94"/><circle cx="438.4" cy="160.9" r="1.53" fill="#d8d8d8" fill-opacity="0.87"/><circle cx="505.7" cy="206.3" r="2.03" fill="#d8d8d8" fill-opacity="0.95"/><circle cx="429.2" cy="160.4" r="1.26" fill="#dedede" fill-opacity="0.83"/><circle cx="433.2" cy="138.7" r="1.88" fill="#d8d8d8" fill-opacity="0.86"/><circle cx="420.8" cy="212.5" r="1.56" fill="#dedede" fill-opacity="0.84"/><circle cx="467.9" cy="208.5" r="2.03" fill="#d8d8d8" fill-opacity="0.68"/><circle cx="431.0" cy="174.0" r="1.93" fill="#dedede" fill-opacity="0.77"/><circle cx="451.5" cy="169.3" r="1.44" fill="#dedede" fill-opacity="0.82"/><circle cx="454.7" cy="211.5" r="1.69" fill="#d8d8d8" fill-opacity="0.95"/><circle cx="482.1" cy="187.8" r="2.20" fill="#dedede" fill-opacity="0.88"/><circle cx="409.7" cy="173.9" r="1.46" fill="#d8d8d8" fill-opacity="0.62"/><circle cx="421.9" cy="148.6" r="2.53" fill="#dedede" fill-opacity="0.67"/><circle cx="407.4" cy="150.4" r="2.12" fill="#dedede" fill-opacity="0.98"/><circle cx="482.6" cy="127.2" r="1.44" fill="#d8d8d8" fill-opacity="0.91"/><circle cx="492.7" cy="185.8" r="2.48" fill="#d8d8d8" fill-opacity="0.95"/><circle cx="447.9" cy="210.7" r="1.48" fill="#dedede" fill-opacity="0.86"/><circle cx="460.3" cy="178.9" r="2.02" fill="#dedede" fill-opacity="0.77"/><circle cx="427.0" cy="179.2" r="1.63" fill="#dedede" fill-opacity="0.96"/><circle cx="433.0" cy="151.9" r="1.37" fill="#d8d8d8" fill-opacity="0.65"/><circle cx="498.0" cy="193.1" r="1.73" fill="#d8d8d8" fill-opacity="0.73"/><circle cx="416.9" cy="200.0" r="2.59" fill="#d8d8d8" fill-opacity="0.60"/><circle cx="405.2" cy="187.8" r="2.57" fill="#dedede" fill-opacity="0.63"/><circle cx="487.2" cy="173.2" r="2.37" fill="#dedede" fill-opacity="0.74"/><circle cx="426.3" cy="140.5" r="1.80" fill="#dedede" fill-opacity="0.75"/><circle cx="480.5" cy="184.9" r="1.62" fill="#d8d8d8" fill-opacity="0.92"/><circle cx="459.3" cy="161.5" r="1.84" fill="#dedede" fill-opacity="0.84"/><circle cx="481.4" cy="215.6" r="2.21" fill="#d8d8d8" fill-opacity="0.61"/><circle cx="455.7" cy="178.1" r="1.67" fill="#dedede" fill-opacity="0.78"/><circle cx="417.5" cy="144.1" r="2.05" fill="#d8d8d8" fill-opacity="0.65"/><circle cx="435.0" cy="201.6" r="1.78" fill="#dedede" fill-opacity="0.78"/><circle cx="475.4" cy="137.6" r="2.21" fill="#d8d8d8" fill-opacity="0.98"/><circle cx="462.4" cy="128.2" r="1.99" fill="#d8d8d8" fill-opacity="0.63"/><circle cx="493.7" cy="209.7" r="1.68" fill="#d8d8d8" fill-opacity="0.76"/><circle cx="416.4" cy="192.2" r="2.08" fill="#d8d8d8" fill-opacity="0.79"/><circle cx="423.7" cy="163.8" r="1.91" fill="#d8d8d8" fill-opacity="0.84"/><circle cx="422.6" cy="177.2" r="1.27" fill="#dedede" fill-opacity="0.77"/><circle cx="452.0" cy="160.5" r="1.34" fill="#d8d8d8" fill-opacity="0.98"/><circle cx="408.8" cy="139.4" r="2.50" fill="#d8d8d8" fill-opacity="0.72"/><circle cx="455.2" cy="175.5" r="2.55" fill="#dedede" fill-opacity="0.95"/><circle cx="431.7" cy="218.2" r="2.05" fill="#d8d8d8" fill-opacity="0.77"/><circle cx="457.6" cy="133.1" r="2.15" fill="#dedede" fill-opacity="0.62"/><circle cx="426.4" cy="189.0" r="1.69" fill="#d8d8d8" fill-opacity="0.91"/><circle cx="420.6" cy="131.0" r="2.14" fill="#d8d8d8" fill-opacity="0.64"/><circle cx="451.9" cy="214.2" r="1.74" fill="#dedede" fill-opacity="0.88"/><circle cx="432.0" cy="169.4" r="1.54" fill="#d8d8d8" fill-opacity="0.95"/><circle cx="409.1" cy="192.3" r="2.12" fill="#d8d8d8" fill-opacity="0.90"/><circle cx="406.4" cy="196.4" r="2.27" fill="#d8d8d8" fill-opacity="0.88"/><circle cx="443.5" cy="205.4" r="1.23" fill="#dedede" fill-opacity="0.92"/><circle cx="482.5" cy="144.5" r="2.43" fill="#d8d8d8" fill-opacity="0.80"/><circle cx="426.5" cy="218.5" r="2.37" fill="#d8d8d8" fill-opacity="0.60"/><circle cx="482.0" cy="135.4" r="1.85" fill="#d8d8d8" fill-opacity="0.66"/><circle cx="453.5" cy="187.0" r="2.10" fill="#dedede" fill-opacity="0.72"/><circle cx="432.3" cy="198.5" r="2.45" fill="#dedede" fill-opacity="0.80"/><circle cx="433.7" cy="147.7" r="2.28" fill="#dedede" fill-opacity="0.74"/><circle cx="505.5" cy="147.3" r="2.52" fill="#dedede" fill-opacity="0.89"/><circle cx="466.6" cy="187.9" r="1.95" fill="#dedede" fill-opacity="0.90"/><circle cx="477.3" cy="169.8" r="1.85" fill="#dedede" fill-opacity="0.68"/><circle cx="413.3" cy="154.6" r="2.46" fill="#d8d8d8" fill-opacity="0.71"/><circle cx="491.0" cy="135.9" r="1.67" fill="#dedede" fill-opacity="0.68"/><circle cx="431.0" cy="211.5" r="2.06" fill="#d8d8d8" fill-opacity="0.79"/><circle cx="407.7" cy="155.3" r="2.01" fill="#d8d8d8" fill-opacity="0.80"/></g>
<g filter="url(#bl05)"><circle cx="451.8" cy="163.7" r="0.70" fill="#e6e6e6" fill-opacity="0.60"/><circle cx="455.8" cy="216.7" r="0.66" fill="#e6e6e6" fill-opacity="0.97"/><circle cx="475.7" cy="199.5" r="0.72" fill="#f4f4f4" fill-opacity="0.98"/><circle cx="447.7" cy="143.0" r="0.64" fill="#ffffff" fill-opacity="0.80"/><circle cx="498.3" cy="185.6" r="1.14" fill="#f4f4f4" fill-opacity="0.92"/><circle cx="494.6" cy="218.8" r="0.74" fill="#ffffff" fill-opacity="0.89"/><circle cx="447.6" cy="134.9" r="0.79" fill="#ffffff" fill-opacity="0.76"/><circle cx="439.5" cy="130.4" r="1.10" fill="#ffffff" fill-opacity="0.95"/><circle cx="410.5" cy="164.3" r="0.94" fill="#ffffff" fill-opacity="0.69"/><circle cx="479.4" cy="211.9" r="1.27" fill="#ffffff" fill-opacity="0.65"/><circle cx="463.4" cy="216.4" r="0.74" fill="#ffffff" fill-opacity="0.96"/><circle cx="418.5" cy="218.7" r="0.95" fill="#e6e6e6" fill-opacity="0.80"/><circle cx="498.0" cy="168.4" r="0.88" fill="#e6e6e6" fill-opacity="0.91"/><circle cx="475.8" cy="140.7" r="1.26" fill="#e6e6e6" fill-opacity="0.98"/><circle cx="410.5" cy="182.1" r="1.02" fill="#ffffff" fill-opacity="0.90"/><circle cx="479.4" cy="184.1" r="0.62" fill="#e6e6e6" fill-opacity="0.76"/><circle cx="496.5" cy="142.3" r="0.95" fill="#e6e6e6" fill-opacity="0.75"/><circle cx="473.1" cy="185.6" r="1.14" fill="#ffffff" fill-opacity="0.95"/><circle cx="416.1" cy="215.1" r="0.86" fill="#ffffff" fill-opacity="0.76"/><circle cx="504.6" cy="184.0" r="0.61" fill="#e6e6e6" fill-opacity="0.73"/><circle cx="448.8" cy="147.6" r="0.91" fill="#f4f4f4" fill-opacity="0.93"/><circle cx="436.0" cy="154.8" r="0.96" fill="#ffffff" fill-opacity="0.61"/><circle cx="483.9" cy="207.6" r="0.95" fill="#e6e6e6" fill-opacity="0.91"/><circle cx="462.2" cy="132.7" r="1.05" fill="#ffffff" fill-opacity="0.99"/><circle cx="445.5" cy="163.7" r="1.20" fill="#f4f4f4" fill-opacity="0.66"/><circle cx="434.3" cy="196.0" r="1.21" fill="#ffffff" fill-opacity="0.62"/><circle cx="503.5" cy="143.4" r="1.26" fill="#ffffff" fill-opacity="0.84"/><circle cx="406.2" cy="132.2" r="0.75" fill="#f4f4f4" fill-opacity="0.72"/><circle cx="406.5" cy="206.7" r="0.80" fill="#f4f4f4" fill-opacity="0.82"/><circle cx="418.9" cy="134.7" r="0.99" fill="#e6e6e6" fill-opacity="0.65"/><circle cx="447.4" cy="140.4" r="0.99" fill="#f4f4f4" fill-opacity="0.84"/><circle cx="486.1" cy="193.0" r="0.79" fill="#e6e6e6" fill-opacity="0.95"/><circle cx="454.9" cy="136.0" r="0.63" fill="#e6e6e6" fill-opacity="0.65"/><circle cx="485.6" cy="208.9" r="0.71" fill="#ffffff" fill-opacity="0.94"/><circle cx="425.5" cy="173.8" r="1.01" fill="#e6e6e6" fill-opacity="0.76"/><circle cx="422.5" cy="174.7" r="1.26" fill="#e6e6e6" fill-opacity="0.63"/><circle cx="470.8" cy="184.7" r="1.01" fill="#f4f4f4" fill-opacity="0.82"/><circle cx="457.9" cy="180.2" r="1.24" fill="#ffffff" fill-opacity="0.95"/><circle cx="463.0" cy="222.5" r="0.65" fill="#ffffff" fill-opacity="0.89"/><circle cx="415.4" cy="196.7" r="0.92" fill="#f4f4f4" fill-opacity="0.96"/><circle cx="478.5" cy="194.6" r="0.62" fill="#ffffff" fill-opacity="0.95"/><circle cx="428.3" cy="209.1" r="1.11" fill="#e6e6e6" fill-opacity="0.80"/><circle cx="429.6" cy="188.9" r="0.66" fill="#ffffff" fill-opacity="0.87"/><circle cx="446.1" cy="133.0" r="0.73" fill="#e6e6e6" fill-opacity="0.90"/><circle cx="413.5" cy="129.0" r="1.04" fill="#e6e6e6" fill-opacity="0.81"/><circle cx="407.6" cy="204.3" r="0.83" fill="#f4f4f4" fill-opacity="0.60"/><circle cx="501.4" cy="185.6" r="1.28" fill="#f4f4f4" fill-opacity="0.93"/><circle cx="415.7" cy="161.2" r="0.76" fill="#ffffff" fill-opacity="0.68"/><circle cx="427.3" cy="137.2" r="0.68" fill="#e6e6e6" fill-opacity="0.99"/><circle cx="442.6" cy="200.8" r="0.93" fill="#e6e6e6" fill-opacity="0.68"/><circle cx="493.3" cy="134.2" r="0.60" fill="#e6e6e6" fill-opacity="0.87"/><circle cx="406.6" cy="151.6" r="1.03" fill="#ffffff" fill-opacity="0.81"/><circle cx="447.1" cy="216.8" r="0.93" fill="#f4f4f4" fill-opacity="0.84"/><circle cx="427.3" cy="131.9" r="0.79" fill="#f4f4f4" fill-opacity="0.62"/><circle cx="423.9" cy="161.7" r="1.29" fill="#f4f4f4" fill-opacity="0.97"/><circle cx="493.5" cy="218.9" r="1.28" fill="#ffffff" fill-opacity="0.61"/><circle cx="449.4" cy="168.1" r="0.83" fill="#e6e6e6" fill-opacity="0.74"/><circle cx="489.5" cy="166.3" r="0.75" fill="#f4f4f4" fill-opacity="0.72"/><circle cx="452.1" cy="219.4" r="0.92" fill="#f4f4f4" fill-opacity="0.67"/><circle cx="445.6" cy="158.8" r="0.72" fill="#e6e6e6" fill-opacity="0.61"/><circle cx="426.3" cy="162.8" r="1.23" fill="#e6e6e6" fill-opacity="0.63"/><circle cx="503.5" cy="223.2" r="1.02" fill="#e6e6e6" fill-opacity="0.89"/><circle cx="426.3" cy="180.7" r="0.83" fill="#ffffff" fill-opacity="0.87"/><circle cx="447.6" cy="149.0" r="1.11" fill="#e6e6e6" fill-opacity="0.80"/><circle cx="451.8" cy="126.3" r="1.24" fill="#ffffff" fill-opacity="0.63"/><circle cx="406.1" cy="219.0" r="0.63" fill="#ffffff" fill-opacity="0.73"/><circle cx="475.1" cy="177.5" r="1.15" fill="#f4f4f4" fill-opacity="0.86"/><circle cx="444.9" cy="215.7" r="0.95" fill="#ffffff" fill-opacity="0.80"/><circle cx="441.1" cy="221.7" r="0.74" fill="#f4f4f4" fill-opacity="0.83"/><circle cx="485.8" cy="204.5" r="0.72" fill="#ffffff" fill-opacity="0.60"/><circle cx="474.1" cy="128.0" r="0.94" fill="#e6e6e6" fill-opacity="0.77"/><circle cx="503.8" cy="135.5" r="0.80" fill="#e6e6e6" fill-opacity="0.78"/><circle cx="473.7" cy="149.4" r="0.83" fill="#e6e6e6" fill-opacity="0.87"/><circle cx="480.1" cy="131.1" r="0.80" fill="#f4f4f4" fill-opacity="0.61"/><circle cx="423.8" cy="204.6" r="1.07" fill="#ffffff" fill-opacity="0.78"/><circle cx="439.4" cy="201.5" r="0.69" fill="#f4f4f4" fill-opacity="0.69"/><circle cx="425.5" cy="195.3" r="0.90" fill="#e6e6e6" fill-opacity="1.00"/><circle cx="499.6" cy="198.3" r="0.95" fill="#ffffff" fill-opacity="0.75"/><circle cx="485.7" cy="215.6" r="0.91" fill="#e6e6e6" fill-opacity="0.99"/><circle cx="461.2" cy="218.7" r="1.27" fill="#ffffff" fill-opacity="0.96"/><circle cx="431.3" cy="151.0" r="0.93" fill="#e6e6e6" fill-opacity="0.67"/><circle cx="458.6" cy="220.2" r="0.98" fill="#e6e6e6" fill-opacity="0.69"/><circle cx="505.8" cy="128.8" r="1.10" fill="#e6e6e6" fill-opacity="0.83"/><circle cx="425.2" cy="210.1" r="0.80" fill="#ffffff" fill-opacity="0.73"/><circle cx="445.0" cy="133.7" r="1.18" fill="#ffffff" fill-opacity="0.78"/><circle cx="502.4" cy="130.2" r="0.72" fill="#ffffff" fill-opacity="0.95"/><circle cx="476.8" cy="190.3" r="1.16" fill="#e6e6e6" fill-opacity="0.75"/><circle cx="481.4" cy="215.4" r="0.95" fill="#f4f4f4" fill-opacity="0.61"/><circle cx="505.9" cy="140.2" r="0.89" fill="#e6e6e6" fill-opacity="0.67"/><circle cx="490.7" cy="190.2" r="0.67" fill="#f4f4f4" fill-opacity="0.81"/><circle cx="430.6" cy="187.9" r="1.26" fill="#f4f4f4" fill-opacity="0.81"/><circle cx="505.8" cy="200.6" r="1.05" fill="#f4f4f4" fill-opacity="0.72"/><circle cx="491.0" cy="146.8" r="0.61" fill="#f4f4f4" fill-opacity="0.89"/><circle cx="430.7" cy="155.8" r="0.61" fill="#e6e6e6" fill-opacity="0.85"/><circle cx="499.6" cy="163.4" r="1.05" fill="#f4f4f4" fill-opacity="0.82"/><circle cx="421.2" cy="194.7" r="0.69" fill="#ffffff" fill-opacity="0.64"/><circle cx="426.3" cy="152.1" r="1.22" fill="#f4f4f4" fill-opacity="0.74"/><circle cx="461.3" cy="197.2" r="0.65" fill="#e6e6e6" fill-opacity="0.76"/><circle cx="448.1" cy="143.8" r="0.77" fill="#ffffff" fill-opacity="0.80"/><circle cx="490.5" cy="162.8" r="1.06" fill="#e6e6e6" fill-opacity="0.74"/><circle cx="457.1" cy="216.2" r="0.62" fill="#e6e6e6" fill-opacity="0.73"/><circle cx="451.2" cy="155.1" r="1.16" fill="#e6e6e6" fill-opacity="0.77"/><circle cx="481.8" cy="131.8" r="0.85" fill="#e6e6e6" fill-opacity="0.87"/><circle cx="427.5" cy="152.2" r="0.92" fill="#ffffff" fill-opacity="1.00"/><circle cx="486.5" cy="177.4" r="1.11" fill="#ffffff" fill-opacity="0.86"/><circle cx="485.7" cy="191.1" r="0.90" fill="#ffffff" fill-opacity="0.72"/><circle cx="413.0" cy="152.1" r="0.74" fill="#e6e6e6" fill-opacity="0.98"/><circle cx="504.0" cy="143.1" r="0.62" fill="#f4f4f4" fill-opacity="0.88"/><circle cx="457.4" cy="185.9" r="0.60" fill="#f4f4f4" fill-opacity="0.84"/><circle cx="443.4" cy="153.7" r="1.28" fill="#ffffff" fill-opacity="0.99"/><circle cx="412.5" cy="179.0" r="0.82" fill="#e6e6e6" fill-opacity="0.77"/><circle cx="423.4" cy="156.8" r="0.80" fill="#e6e6e6" fill-opacity="0.79"/><circle cx="481.0" cy="191.1" r="0.82" fill="#e6e6e6" fill-opacity="0.80"/><circle cx="491.9" cy="131.9" r="0.97" fill="#e6e6e6" fill-opacity="0.79"/><circle cx="414.0" cy="167.2" r="1.14" fill="#e6e6e6" fill-opacity="0.73"/><circle cx="485.4" cy="142.4" r="1.27" fill="#e6e6e6" fill-opacity="0.66"/><circle cx="470.3" cy="196.4" r="0.97" fill="#ffffff" fill-opacity="0.83"/><circle cx="406.2" cy="154.8" r="1.09" fill="#ffffff" fill-opacity="0.94"/><circle cx="462.6" cy="152.7" r="0.99" fill="#f4f4f4" fill-opacity="0.60"/><circle cx="493.2" cy="177.6" r="0.91" fill="#e6e6e6" fill-opacity="0.98"/><circle cx="505.9" cy="158.7" r="0.72" fill="#e6e6e6" fill-opacity="0.99"/><circle cx="475.3" cy="158.2" r="0.93" fill="#f4f4f4" fill-opacity="0.97"/><circle cx="433.6" cy="135.5" r="0.99" fill="#f4f4f4" fill-opacity="0.92"/><circle cx="466.5" cy="207.7" r="0.65" fill="#f4f4f4" fill-opacity="0.69"/><circle cx="434.7" cy="164.0" r="0.96" fill="#ffffff" fill-opacity="0.67"/><circle cx="474.3" cy="138.0" r="0.65" fill="#ffffff" fill-opacity="0.91"/><circle cx="492.5" cy="155.0" r="0.94" fill="#f4f4f4" fill-opacity="0.91"/><circle cx="450.1" cy="143.3" r="1.18" fill="#f4f4f4" fill-opacity="0.96"/><circle cx="414.7" cy="202.7" r="1.17" fill="#f4f4f4" fill-opacity="0.85"/><circle cx="431.3" cy="146.2" r="1.09" fill="#e6e6e6" fill-opacity="0.90"/><circle cx="454.8" cy="180.3" r="0.89" fill="#e6e6e6" fill-opacity="0.87"/><circle cx="452.1" cy="166.7" r="0.66" fill="#f4f4f4" fill-opacity="1.00"/><circle cx="478.4" cy="144.6" r="0.61" fill="#e6e6e6" fill-opacity="0.75"/><circle cx="451.0" cy="138.4" r="0.67" fill="#e6e6e6" fill-opacity="0.76"/><circle cx="460.1" cy="208.3" r="0.69" fill="#f4f4f4" fill-opacity="0.92"/><circle cx="428.9" cy="181.2" r="1.04" fill="#ffffff" fill-opacity="0.63"/><circle cx="441.7" cy="172.9" r="0.86" fill="#ffffff" fill-opacity="0.87"/><circle cx="459.9" cy="192.0" r="0.60" fill="#f4f4f4" fill-opacity="0.70"/><circle cx="463.8" cy="141.9" r="0.64" fill="#ffffff" fill-opacity="0.71"/><circle cx="421.2" cy="208.8" r="0.69" fill="#ffffff" fill-opacity="0.83"/><circle cx="486.3" cy="127.8" r="1.08" fill="#e6e6e6" fill-opacity="0.63"/><circle cx="496.6" cy="139.0" r="1.10" fill="#e6e6e6" fill-opacity="0.71"/><circle cx="471.0" cy="133.5" r="0.70" fill="#ffffff" fill-opacity="0.86"/><circle cx="420.2" cy="174.2" r="0.78" fill="#f4f4f4" fill-opacity="0.97"/><circle cx="414.9" cy="184.4" r="0.80" fill="#ffffff" fill-opacity="0.60"/><circle cx="484.1" cy="214.4" r="1.12" fill="#e6e6e6" fill-opacity="0.86"/><circle cx="440.7" cy="210.3" r="0.74" fill="#e6e6e6" fill-opacity="0.74"/><circle cx="406.8" cy="149.7" r="0.66" fill="#ffffff" fill-opacity="0.90"/><circle cx="476.6" cy="199.3" r="0.61" fill="#e6e6e6" fill-opacity="0.87"/><circle cx="480.0" cy="210.7" r="0.81" fill="#e6e6e6" fill-opacity="0.72"/><circle cx="412.3" cy="181.6" r="1.16" fill="#e6e6e6" fill-opacity="0.96"/><circle cx="425.7" cy="135.5" r="0.75" fill="#ffffff" fill-opacity="0.78"/><circle cx="472.1" cy="198.5" r="1.06" fill="#e6e6e6" fill-opacity="0.74"/><circle cx="484.4" cy="181.5" r="0.79" fill="#e6e6e6" fill-opacity="0.70"/><circle cx="410.9" cy="162.8" r="0.65" fill="#ffffff" fill-opacity="0.91"/><circle cx="475.4" cy="220.0" r="1.25" fill="#e6e6e6" fill-opacity="0.70"/><circle cx="407.6" cy="131.4" r="0.60" fill="#e6e6e6" fill-opacity="0.74"/><circle cx="412.3" cy="145.5" r="0.70" fill="#e6e6e6" fill-opacity="0.83"/><circle cx="451.3" cy="172.7" r="1.30" fill="#e6e6e6" fill-opacity="0.78"/><circle cx="454.9" cy="145.9" r="1.30" fill="#f4f4f4" fill-opacity="0.62"/><circle cx="463.0" cy="140.3" r="0.71" fill="#ffffff" fill-opacity="0.77"/><circle cx="480.1" cy="159.8" r="1.04" fill="#e6e6e6" fill-opacity="0.61"/><circle cx="411.6" cy="163.1" r="1.28" fill="#e6e6e6" fill-opacity="0.93"/><circle cx="417.0" cy="153.9" r="0.89" fill="#f4f4f4" fill-opacity="0.69"/><circle cx="469.7" cy="209.8" r="0.96" fill="#f4f4f4" fill-opacity="0.74"/><circle cx="425.1" cy="214.7" r="1.20" fill="#f4f4f4" fill-opacity="0.89"/><circle cx="464.7" cy="132.8" r="1.26" fill="#f4f4f4" fill-opacity="0.85"/><circle cx="477.0" cy="187.0" r="0.61" fill="#f4f4f4" fill-opacity="0.67"/><circle cx="478.6" cy="170.7" r="0.64" fill="#ffffff" fill-opacity="0.91"/><circle cx="451.1" cy="128.7" r="1.29" fill="#f4f4f4" fill-opacity="0.62"/><circle cx="448.3" cy="158.8" r="1.06" fill="#ffffff" fill-opacity="0.77"/><circle cx="413.0" cy="178.2" r="0.84" fill="#ffffff" fill-opacity="0.88"/><circle cx="492.5" cy="167.7" r="0.63" fill="#f4f4f4" fill-opacity="0.77"/><circle cx="441.1" cy="182.0" r="1.11" fill="#e6e6e6" fill-opacity="0.88"/><circle cx="500.0" cy="168.0" r="1.06" fill="#f4f4f4" fill-opacity="0.61"/><circle cx="424.0" cy="138.3" r="0.87" fill="#f4f4f4" fill-opacity="0.89"/><circle cx="465.1" cy="132.4" r="0.90" fill="#e6e6e6" fill-opacity="0.87"/><circle cx="498.5" cy="222.7" r="0.86" fill="#f4f4f4" fill-opacity="0.70"/><circle cx="462.2" cy="163.0" r="1.23" fill="#f4f4f4" fill-opacity="0.63"/><circle cx="465.0" cy="157.2" r="1.00" fill="#ffffff" fill-opacity="0.76"/><circle cx="456.1" cy="158.7" r="1.01" fill="#e6e6e6" fill-opacity="0.74"/><circle cx="482.9" cy="133.7" r="0.64" fill="#f4f4f4" fill-opacity="0.74"/><circle cx="425.1" cy="136.2" r="1.04" fill="#e6e6e6" fill-opacity="0.66"/><circle cx="439.8" cy="149.8" r="1.13" fill="#f4f4f4" fill-opacity="0.97"/><circle cx="421.9" cy="138.3" r="0.69" fill="#ffffff" fill-opacity="0.61"/><circle cx="500.9" cy="147.2" r="0.76" fill="#e6e6e6" fill-opacity="0.86"/><circle cx="471.3" cy="165.7" r="1.27" fill="#f4f4f4" fill-opacity="0.95"/><circle cx="443.8" cy="199.1" r="0.79" fill="#ffffff" fill-opacity="0.94"/><circle cx="485.7" cy="148.9" r="0.85" fill="#f4f4f4" fill-opacity="0.90"/><circle cx="409.7" cy="158.6" r="0.66" fill="#e6e6e6" fill-opacity="0.84"/><circle cx="502.0" cy="136.2" r="0.82" fill="#e6e6e6" fill-opacity="0.80"/><circle cx="408.1" cy="209.6" r="0.93" fill="#e6e6e6" fill-opacity="0.86"/><circle cx="451.1" cy="224.6" r="1.20" fill="#f4f4f4" fill-opacity="0.70"/><circle cx="456.9" cy="182.8" r="1.07" fill="#e6e6e6" fill-opacity="0.63"/><circle cx="463.7" cy="189.3" r="1.18" fill="#ffffff" fill-opacity="0.85"/><circle cx="415.8" cy="197.5" r="0.66" fill="#ffffff" fill-opacity="0.65"/><circle cx="499.5" cy="191.3" r="1.25" fill="#e6e6e6" fill-opacity="0.62"/><circle cx="466.1" cy="148.0" r="1.02" fill="#e6e6e6" fill-opacity="1.00"/><circle cx="499.1" cy="225.5" r="1.10" fill="#ffffff" fill-opacity="0.62"/><circle cx="428.9" cy="171.7" r="1.13" fill="#ffffff" fill-opacity="0.96"/><circle cx="495.0" cy="176.2" r="0.91" fill="#ffffff" fill-opacity="0.71"/><circle cx="407.6" cy="127.5" r="1.19" fill="#f4f4f4" fill-opacity="0.82"/><circle cx="444.0" cy="164.7" r="0.65" fill="#ffffff" fill-opacity="0.85"/><circle cx="416.8" cy="164.0" r="0.71" fill="#ffffff" fill-opacity="0.89"/><circle cx="481.2" cy="142.2" r="1.06" fill="#e6e6e6" fill-opacity="0.92"/><circle cx="503.7" cy="130.9" r="0.83" fill="#ffffff" fill-opacity="0.79"/><circle cx="464.4" cy="126.8" r="0.96" fill="#f4f4f4" fill-opacity="0.73"/><circle cx="455.0" cy="220.7" r="1.21" fill="#e6e6e6" fill-opacity="0.64"/><circle cx="506.0" cy="159.5" r="0.85" fill="#ffffff" fill-opacity="0.72"/><circle cx="474.0" cy="139.2" r="0.71" fill="#f4f4f4" fill-opacity="0.81"/><circle cx="463.8" cy="141.3" r="1.10" fill="#f4f4f4" fill-opacity="0.80"/><circle cx="420.9" cy="180.3" r="1.19" fill="#f4f4f4" fill-opacity="0.91"/><circle cx="448.3" cy="187.5" r="0.77" fill="#ffffff" fill-opacity="0.81"/><circle cx="415.3" cy="135.3" r="0.75" fill="#f4f4f4" fill-opacity="0.61"/><circle cx="483.1" cy="222.9" r="0.82" fill="#e6e6e6" fill-opacity="0.87"/><circle cx="414.0" cy="224.1" r="0.63" fill="#f4f4f4" fill-opacity="0.88"/><circle cx="473.3" cy="170.0" r="1.01" fill="#e6e6e6" fill-opacity="0.88"/><circle cx="458.7" cy="161.9" r="0.81" fill="#e6e6e6" fill-opacity="0.82"/><circle cx="481.4" cy="204.1" r="0.95" fill="#f4f4f4" fill-opacity="0.95"/><circle cx="419.7" cy="179.1" r="1.26" fill="#ffffff" fill-opacity="0.63"/><circle cx="476.3" cy="191.4" r="1.05" fill="#ffffff" fill-opacity="0.61"/><circle cx="495.1" cy="172.6" r="0.76" fill="#ffffff" fill-opacity="0.71"/><circle cx="458.8" cy="126.6" r="1.28" fill="#ffffff" fill-opacity="0.89"/><circle cx="490.0" cy="169.0" r="0.89" fill="#e6e6e6" fill-opacity="0.83"/><circle cx="459.3" cy="126.8" r="0.95" fill="#e6e6e6" fill-opacity="0.64"/><circle cx="438.8" cy="171.7" r="0.62" fill="#e6e6e6" fill-opacity="0.93"/><circle cx="502.9" cy="218.4" r="1.19" fill="#f4f4f4" fill-opacity="0.63"/><circle cx="445.6" cy="157.3" r="1.07" fill="#f4f4f4" fill-opacity="0.99"/><circle cx="414.2" cy="217.7" r="0.87" fill="#ffffff" fill-opacity="0.96"/><circle cx="424.1" cy="158.5" r="1.16" fill="#f4f4f4" fill-opacity="0.93"/><circle cx="440.0" cy="209.4" r="0.95" fill="#e6e6e6" fill-opacity="0.82"/><circle cx="440.7" cy="226.1" r="1.29" fill="#e6e6e6" fill-opacity="0.88"/><circle cx="427.5" cy="223.6" r="0.83" fill="#ffffff" fill-opacity="0.97"/><circle cx="447.5" cy="226.7" r="1.00" fill="#ffffff" fill-opacity="0.97"/><circle cx="432.8" cy="129.5" r="1.01" fill="#e6e6e6" fill-opacity="0.83"/><circle cx="493.7" cy="127.7" r="1.00" fill="#ffffff" fill-opacity="0.78"/><circle cx="457.8" cy="170.2" r="1.19" fill="#f4f4f4" fill-opacity="0.70"/><circle cx="503.5" cy="204.1" r="0.92" fill="#ffffff" fill-opacity="0.65"/><circle cx="429.9" cy="192.7" r="1.02" fill="#e6e6e6" fill-opacity="0.83"/><circle cx="450.7" cy="225.2" r="1.07" fill="#ffffff" fill-opacity="0.67"/><circle cx="483.1" cy="160.1" r="0.90" fill="#e6e6e6" fill-opacity="0.80"/><circle cx="445.5" cy="177.0" r="0.88" fill="#f4f4f4" fill-opacity="0.87"/><circle cx="499.9" cy="134.9" r="1.20" fill="#e6e6e6" fill-opacity="0.81"/><circle cx="423.5" cy="132.7" r="1.06" fill="#ffffff" fill-opacity="0.77"/><circle cx="473.1" cy="197.6" r="1.19" fill="#e6e6e6" fill-opacity="0.91"/><circle cx="460.1" cy="128.6" r="0.83" fill="#ffffff" fill-opacity="0.76"/><circle cx="428.8" cy="202.5" r="0.67" fill="#ffffff" fill-opacity="0.87"/><circle cx="490.9" cy="136.5" r="1.25" fill="#e6e6e6" fill-opacity="0.82"/><circle cx="451.6" cy="195.0" r="1.23" fill="#e6e6e6" fill-opacity="0.98"/><circle cx="425.6" cy="212.1" r="1.05" fill="#e6e6e6" fill-opacity="0.81"/><circle cx="411.3" cy="153.1" r="0.92" fill="#f4f4f4" fill-opacity="0.70"/><circle cx="427.3" cy="136.7" r="1.30" fill="#e6e6e6" fill-opacity="0.86"/><circle cx="505.9" cy="190.7" r="1.27" fill="#e6e6e6" fill-opacity="0.62"/><circle cx="437.2" cy="131.1" r="0.94" fill="#e6e6e6" fill-opacity="0.73"/><circle cx="471.1" cy="135.4" r="0.90" fill="#ffffff" fill-opacity="0.61"/><circle cx="491.9" cy="187.8" r="1.13" fill="#ffffff" fill-opacity="0.73"/><circle cx="462.4" cy="129.1" r="0.77" fill="#f4f4f4" fill-opacity="0.87"/><circle cx="411.5" cy="166.3" r="1.14" fill="#f4f4f4" fill-opacity="0.70"/><circle cx="488.0" cy="211.5" r="1.15" fill="#e6e6e6" fill-opacity="0.87"/><circle cx="475.4" cy="192.6" r="0.77" fill="#e6e6e6" fill-opacity="0.88"/><circle cx="493.7" cy="156.6" r="1.11" fill="#ffffff" fill-opacity="0.86"/><circle cx="473.1" cy="217.6" r="1.20" fill="#e6e6e6" fill-opacity="0.76"/><circle cx="496.5" cy="131.5" r="1.21" fill="#ffffff" fill-opacity="0.64"/><circle cx="444.5" cy="198.1" r="0.93" fill="#e6e6e6" fill-opacity="0.61"/><circle cx="465.1" cy="130.2" r="0.71" fill="#f4f4f4" fill-opacity="0.83"/><circle cx="457.1" cy="134.9" r="0.90" fill="#f4f4f4" fill-opacity="0.79"/><circle cx="468.5" cy="137.7" r="0.63" fill="#e6e6e6" fill-opacity="0.99"/><circle cx="502.2" cy="150.2" r="1.00" fill="#ffffff" fill-opacity="0.91"/><circle cx="487.9" cy="126.8" r="0.81" fill="#ffffff" fill-opacity="0.75"/><circle cx="447.8" cy="217.0" r="1.16" fill="#ffffff" fill-opacity="0.87"/><circle cx="500.6" cy="152.7" r="0.80" fill="#ffffff" fill-opacity="0.86"/><circle cx="417.0" cy="181.8" r="0.71" fill="#f4f4f4" fill-opacity="0.70"/><circle cx="410.1" cy="171.5" r="0.77" fill="#ffffff" fill-opacity="0.90"/><circle cx="505.7" cy="189.6" r="0.95" fill="#e6e6e6" fill-opacity="0.98"/><circle cx="445.2" cy="214.4" r="0.69" fill="#f4f4f4" fill-opacity="0.74"/><circle cx="478.0" cy="158.5" r="0.74" fill="#e6e6e6" fill-opacity="1.00"/><circle cx="441.3" cy="193.1" r="0.67" fill="#ffffff" fill-opacity="0.63"/><circle cx="489.7" cy="179.8" r="1.14" fill="#e6e6e6" fill-opacity="0.70"/><circle cx="463.1" cy="170.9" r="0.77" fill="#ffffff" fill-opacity="0.79"/><circle cx="461.0" cy="186.9" r="0.83" fill="#e6e6e6" fill-opacity="0.87"/><circle cx="450.1" cy="153.9" r="0.93" fill="#f4f4f4" fill-opacity="0.81"/><circle cx="423.7" cy="215.5" r="0.77" fill="#e6e6e6" fill-opacity="0.89"/><circle cx="498.1" cy="224.0" r="1.29" fill="#ffffff" fill-opacity="0.93"/><circle cx="452.7" cy="196.1" r="0.75" fill="#f4f4f4" fill-opacity="0.69"/><circle cx="482.3" cy="205.4" r="1.21" fill="#f4f4f4" fill-opacity="0.83"/><circle cx="475.5" cy="210.2" r="0.72" fill="#ffffff" fill-opacity="0.79"/><circle cx="493.5" cy="142.0" r="1.14" fill="#f4f4f4" fill-opacity="0.96"/><circle cx="412.9" cy="226.2" r="0.89" fill="#f4f4f4" fill-opacity="0.75"/><circle cx="499.7" cy="202.8" r="1.08" fill="#ffffff" fill-opacity="0.87"/><circle cx="445.1" cy="203.0" r="0.85" fill="#e6e6e6" fill-opacity="0.63"/><circle cx="460.2" cy="199.4" r="0.72" fill="#e6e6e6" fill-opacity="0.86"/><circle cx="499.5" cy="138.4" r="1.14" fill="#ffffff" fill-opacity="0.70"/><circle cx="422.9" cy="159.2" r="1.15" fill="#e6e6e6" fill-opacity="0.90"/><circle cx="415.2" cy="200.8" r="0.68" fill="#f4f4f4" fill-opacity="0.87"/><circle cx="477.8" cy="218.9" r="0.71" fill="#f4f4f4" fill-opacity="0.95"/><circle cx="422.8" cy="136.3" r="0.76" fill="#f4f4f4" fill-opacity="0.71"/><circle cx="483.5" cy="206.1" r="0.83" fill="#ffffff" fill-opacity="0.71"/><circle cx="481.6" cy="155.4" r="1.02" fill="#ffffff" fill-opacity="0.82"/><circle cx="483.9" cy="193.0" r="1.04" fill="#ffffff" fill-opacity="0.66"/><circle cx="487.3" cy="160.8" r="1.03" fill="#e6e6e6" fill-opacity="0.91"/></g>
<ellipse cx="450.9" cy="173.9" rx="44" ry="43.3" fill="#878787" filter="url(#bl1)"/>
<g clip-path="url(#cc4)">
<rect x="405" y="126" width="101" height="101" filter="url(#nDarkMid)" opacity="0.28"/>
<rect x="405" y="126" width="101" height="101" filter="url(#nLightMid)" opacity="0.25"/>
</g>
<g filter="url(#bl15)">
<circle cx="462" cy="172" r="14" fill="#555" />
<circle cx="451.9" cy="162.7" r="5.2" fill="#222" />
<circle cx="451.9" cy="173" r="6.5" fill="#151515" />
<circle cx="464.1" cy="166.8" r="6.5" fill="#151515" />
<circle cx="480.5" cy="169.9" r="5.2" fill="#222" />
<circle cx="486.6" cy="177" r="5.2" fill="#222" />
<circle cx="464.1" cy="183.1" r="5.5" fill="#2a2a2a" />
<circle cx="472" cy="180" r="4" fill="#2a2a2a" />
<circle cx="441.7" cy="150.5" r="4.2" fill="#3a3a3a" />
<circle cx="450.9" cy="140.3" r="4" fill="#3a3a3a" />
<circle cx="496.8" cy="190.2" r="4.2" fill="#2a2a2a" />
<circle cx="425.4" cy="201.5" r="3.2" fill="#555" />
<circle cx="447" cy="195" r="3" fill="#666" />
<circle cx="444" cy="183" r="4" fill="#3a3a3a" />
<circle cx="456" cy="187" r="4" fill="#333" />
<circle cx="476" cy="190" r="3.5" fill="#3a3a3a" />
<circle cx="430" cy="160" r="3" fill="#666" />
</g>
<circle cx="467.8" cy="169.9" r="1.6" fill="#fff" />
<circle cx="437" cy="207" r="1.5" fill="#eee" />
<rect x="409.1" y="220.8" width="13.3" height="2.1" fill="#000"/>
</g>
<text x="0.4" y="247.4" font-size="17.5" text-anchor="start" font-weight="bold" font-style="normal" >C</text>
<line x1="54.3" y1="264.8" x2="54.3" y2="423" stroke="#000" stroke-width="1.9"/>
<line x1="49.3" y1="422.0" x2="54.3" y2="422.0" stroke="#000" stroke-width="1.9"/>
<text x="48.3" y="426.1" font-size="11.1" text-anchor="end" font-weight="normal" font-style="normal" >0</text>
<line x1="49.3" y1="390.76" x2="54.3" y2="390.76" stroke="#000" stroke-width="1.9"/>
<text x="48.3" y="394.86" font-size="11.1" text-anchor="end" font-weight="normal" font-style="normal" >500</text>
<line x1="49.3" y1="359.52" x2="54.3" y2="359.52" stroke="#000" stroke-width="1.9"/>
<text x="48.3" y="363.62" font-size="11.1" text-anchor="end" font-weight="normal" font-style="normal" >1000</text>
<line x1="49.3" y1="328.28" x2="54.3" y2="328.28" stroke="#000" stroke-width="1.9"/>
<text x="48.3" y="332.38" font-size="11.1" text-anchor="end" font-weight="normal" font-style="normal" >1500</text>
<line x1="49.3" y1="297.04" x2="54.3" y2="297.04" stroke="#000" stroke-width="1.9"/>
<text x="48.3" y="301.14000000000004" font-size="11.1" text-anchor="end" font-weight="normal" font-style="normal" >2000</text>
<line x1="49.3" y1="265.8" x2="54.3" y2="265.8" stroke="#000" stroke-width="1.9"/>
<text x="48.3" y="269.90000000000003" font-size="11.1" text-anchor="end" font-weight="normal" font-style="normal" >2500</text>
<line x1="53.3" y1="422" x2="241.5" y2="422" stroke="#000" stroke-width="2"/>
<rect x="62.9" y="411.0" width="29.8" height="11.000000000000023" fill="#fff" stroke="#000" stroke-width="2.2"/>
<rect x="107.7" y="409.4" width="33.2" height="12.600000000000023" fill="#000"/>
<rect x="156.1" y="313.1" width="30.399999999999995" height="108.9" fill="#fff" stroke="#000" stroke-width="2.2"/>
<rect x="201.8" y="327.8" width="32.29999999999998" height="94.19999999999999" fill="#000"/>
<line x1="171.1" y1="269.7" x2="171.1" y2="312.4" stroke="#000" stroke-width="2"/>
<line x1="162.5" y1="269.7" x2="179.7" y2="269.7" stroke="#000" stroke-width="2"/>
<line x1="218" y1="294.8" x2="218" y2="327.8" stroke="#000" stroke-width="2"/>
<line x1="209.4" y1="294.8" x2="226.6" y2="294.8" stroke="#000" stroke-width="2"/>
<polyline points="74.25,390.75 74.25,385 123.75,385 123.75,390.75" fill="none" stroke="#000" stroke-width="1.8"/>
<text x="100" y="380" font-size="12.5" text-anchor="middle" font-weight="normal" font-style="normal" >n.s.</text>
<polyline points="169.2,263.75 169.2,258 219.75,258 219.75,263.75" fill="none" stroke="#000" stroke-width="1.8"/>
<text x="195.8" y="254.5" font-size="12.5" text-anchor="middle" font-weight="normal" font-style="normal" >n.s.</text>
<rect x="70.75" y="267.95" width="16.3" height="8.8" fill="#fff" stroke="#000" stroke-width="1.7"/>
<rect x="70" y="283.2" width="18" height="10.7" fill="#000"/>
<text x="89.6" y="278" font-size="15.3" text-anchor="start" font-weight="normal" font-style="normal" >WT</text>
<text x="90" y="294" font-size="14.8" text-anchor="start" font-weight="normal" font-style="normal" ><tspan font-style="italic">Ip6k1</tspan><tspan font-style="italic" font-size="11.2" dy="-5.5" dx="1.2">-/-</tspan></text>
<text x="102.9" y="440" font-size="14.5" text-anchor="middle" font-weight="normal" font-style="normal" >Unstimulated</text>
<text x="195.4" y="439.8" font-size="14.5" text-anchor="middle" font-weight="normal" font-style="normal" >Thrombin</text>
<text x="0" y="0" font-size="15" text-anchor="middle" transform="translate(16.2,344.4) rotate(-90)" >Surface P-selectin (MFI)</text>
<text x="268" y="247.6" font-size="17.5" text-anchor="start" font-weight="bold" font-style="normal" >D</text>
<line x1="331.05" y1="259.8" x2="331.05" y2="416.8" stroke="#000" stroke-width="1.9"/>
<line x1="326.05" y1="415.8" x2="331.05" y2="415.8" stroke="#000" stroke-width="1.9"/>
<text x="325.6" y="419.90000000000003" font-size="12.2" text-anchor="end" font-weight="normal" font-style="normal" >0</text>
<line x1="326.05" y1="377.05" x2="331.05" y2="377.05" stroke="#000" stroke-width="1.9"/>
<text x="325.6" y="381.15000000000003" font-size="12.2" text-anchor="end" font-weight="normal" font-style="normal" >10</text>
<line x1="326.05" y1="338.3" x2="331.05" y2="338.3" stroke="#000" stroke-width="1.9"/>
<text x="325.6" y="342.40000000000003" font-size="12.2" text-anchor="end" font-weight="normal" font-style="normal" >20</text>
<line x1="326.05" y1="299.55" x2="331.05" y2="299.55" stroke="#000" stroke-width="1.9"/>
<text x="325.6" y="303.65000000000003" font-size="12.2" text-anchor="end" font-weight="normal" font-style="normal" >30</text>
<line x1="326.05" y1="260.8" x2="331.05" y2="260.8" stroke="#000" stroke-width="1.9"/>
<text x="325.6" y="264.90000000000003" font-size="12.2" text-anchor="end" font-weight="normal" font-style="normal" >40</text>
<line x1="330.05" y1="415.8" x2="509" y2="415.8" stroke="#000" stroke-width="2"/>
<rect x="339.2" y="405.2" width="28.6" height="10.600000000000012" fill="#fff" stroke="#000" stroke-width="2.4"/>
<rect x="382.7" y="406.2" width="30.900000000000034" height="9.600000000000023" fill="#000"/>
<line x1="398.5" y1="404.4" x2="398.5" y2="406.2" stroke="#000" stroke-width="2"/>
<line x1="390.5" y1="404.4" x2="406.5" y2="404.4" stroke="#000" stroke-width="2"/>
<rect x="428.6" y="291.3" width="29.199999999999978" height="124.50000000000003" fill="#fff" stroke="#000" stroke-width="2.2"/>
<rect x="472.3" y="293.8" width="32.099999999999966" height="122.0" fill="#000"/>
<line x1="353.5" y1="399" x2="353.5" y2="404" stroke="#000" stroke-width="2"/>
<line x1="345.5" y1="399" x2="361.5" y2="399" stroke="#000" stroke-width="2"/>
<line x1="443.2" y1="276.6" x2="443.2" y2="291.2" stroke="#000" stroke-width="2"/>
<line x1="434.8" y1="276.6" x2="451.59999999999997" y2="276.6" stroke="#000" stroke-width="2"/>
<line x1="488.2" y1="279.2" x2="488.2" y2="293.8" stroke="#000" stroke-width="2"/>
<line x1="479.9" y1="279.2" x2="496.5" y2="279.2" stroke="#000" stroke-width="2"/>
<polyline points="351.9,390.4 351.9,381.9 399.6,381.9 399.6,390.4" fill="none" stroke="#000" stroke-width="1.8"/>
<text x="378.4" y="378.8" font-size="13" text-anchor="middle" font-weight="normal" font-style="normal" >n.s.</text>
<polyline points="443.3,273.4 443.3,265 490.4,265 490.4,273.4" fill="none" stroke="#000" stroke-width="1.8"/>
<text x="469.5" y="262" font-size="13" text-anchor="middle" font-weight="normal" font-style="normal" >n.s.</text>
<rect x="340.3" y="262.6" width="24.5" height="9.6" fill="#fff" stroke="#000" stroke-width="2"/>
<rect x="339.3" y="278.4" width="26.5" height="12.9" fill="#000"/>
<text x="372.4" y="273.6" font-size="15.8" text-anchor="start" font-weight="normal" font-style="normal" >WT</text>
<text x="372.8" y="289.3" font-size="14.6" text-anchor="start" font-weight="normal" font-style="normal" ><tspan font-style="italic">Ip6k1</tspan><tspan font-style="italic" font-size="11.1" dy="-5.4" dx="1.2">-/-</tspan></text>
<text x="376.5" y="432.6" font-size="14.55" text-anchor="middle" font-weight="normal" font-style="normal" >Unstimulated</text>
<text x="462.8" y="432.6" font-size="14.7" text-anchor="middle" font-weight="normal" font-style="normal" >ADP</text>
<text x="0" y="0" font-size="14.9" text-anchor="middle" transform="translate(289.3,337.3) rotate(-90)" >&#945;IIb&#946;3 surface expression</text>
<text x="0" y="0" font-size="14.9" text-anchor="middle" transform="translate(302.5,336.8) rotate(-90)" >(MFI)</text>
<text x="-0.2" y="460.6" font-size="17.5" text-anchor="start" font-weight="bold" font-style="normal" >E</text>
<line x1="43.25" y1="464.5" x2="43.25" y2="625" stroke="#000" stroke-width="1.5"/>
<line x1="39.25" y1="465.5" x2="43.25" y2="465.5" stroke="#000" stroke-width="1.5"/>
<text x="37.8" y="470.0" font-size="12.8" text-anchor="end" font-weight="normal" font-style="normal" >0</text>
<line x1="39.25" y1="497.2" x2="43.25" y2="497.2" stroke="#000" stroke-width="1.5"/>
<text x="37.8" y="501.7" font-size="12.8" text-anchor="end" font-weight="normal" font-style="normal" >10</text>
<line x1="39.25" y1="528.9" x2="43.25" y2="528.9" stroke="#000" stroke-width="1.5"/>
<text x="37.8" y="533.4" font-size="12.8" text-anchor="end" font-weight="normal" font-style="normal" >20</text>
<line x1="39.25" y1="560.6" x2="43.25" y2="560.6" stroke="#000" stroke-width="1.5"/>
<text x="37.8" y="565.1" font-size="12.8" text-anchor="end" font-weight="normal" font-style="normal" >30</text>
<line x1="39.25" y1="592.3" x2="43.25" y2="592.3" stroke="#000" stroke-width="1.5"/>
<text x="37.8" y="596.8" font-size="12.8" text-anchor="end" font-weight="normal" font-style="normal" >40</text>
<line x1="39.25" y1="624.0" x2="43.25" y2="624.0" stroke="#000" stroke-width="1.5"/>
<text x="37.8" y="628.5" font-size="12.8" text-anchor="end" font-weight="normal" font-style="normal" >50</text>
<line x1="42.25" y1="624" x2="246.25" y2="624" stroke="#000" stroke-width="1.6"/>
<line x1="43.25" y1="624" x2="43.25" y2="628" stroke="#000" stroke-width="1.5"/>
<text x="43.25" y="640.8" font-size="12.8" text-anchor="middle" font-weight="normal" font-style="normal" >0</text>
<line x1="83.65" y1="624" x2="83.65" y2="628" stroke="#000" stroke-width="1.5"/>
<text x="83.65" y="640.8" font-size="12.8" text-anchor="middle" font-weight="normal" font-style="normal" >2</text>
<line x1="124.05" y1="624" x2="124.05" y2="628" stroke="#000" stroke-width="1.5"/>
<text x="124.05" y="640.8" font-size="12.8" text-anchor="middle" font-weight="normal" font-style="normal" >4</text>
<line x1="164.45" y1="624" x2="164.45" y2="628" stroke="#000" stroke-width="1.5"/>
<text x="164.45" y="640.8" font-size="12.8" text-anchor="middle" font-weight="normal" font-style="normal" >6</text>
<line x1="204.85" y1="624" x2="204.85" y2="628" stroke="#000" stroke-width="1.5"/>
<text x="204.85" y="640.8" font-size="12.8" text-anchor="middle" font-weight="normal" font-style="normal" >8</text>
<line x1="245.25" y1="624" x2="245.25" y2="628" stroke="#000" stroke-width="1.5"/>
<text x="245.25" y="640.8" font-size="12.8" text-anchor="middle" font-weight="normal" font-style="normal" >10</text>
<text x="145.1" y="658.4" font-size="14.3" text-anchor="middle" font-weight="normal" font-style="normal" >Time (min)</text>
<text x="0" y="0" font-size="14.6" text-anchor="middle" transform="translate(16.3,542.85) rotate(-90)" >Light transmission (%)</text>
<polyline points="43.25,465.5 53.35,542.6 63.45,565.7 73.55,572.6 83.65,581.6 93.75,589.7 103.85,591.5 113.95,594.5 124.05,595.7 134.14999999999998,599.6 144.25,604.2 154.35,606 164.45,605 174.54999999999998,607.7 184.65,606.5 194.75,607.2 204.85,607.2 214.95,607.2 225.04999999999998,608.2 235.15,608.2 245.25,608.2" fill="none" stroke="#000" stroke-width="1.5"/>
<line x1="53.35" y1="535" x2="53.35" y2="549.5" stroke="#000" stroke-width="1.5"/>
<line x1="50.15" y1="535" x2="56.550000000000004" y2="535" stroke="#000" stroke-width="1.7"/>
<line x1="50.15" y1="549.5" x2="56.550000000000004" y2="549.5" stroke="#000" stroke-width="1.7"/>
<line x1="63.45" y1="558.8" x2="63.45" y2="573" stroke="#000" stroke-width="1.5"/>
<line x1="60.25" y1="558.8" x2="66.65" y2="558.8" stroke="#000" stroke-width="1.7"/>
<line x1="60.25" y1="573" x2="66.65" y2="573" stroke="#000" stroke-width="1.7"/>
<line x1="73.55" y1="566.2" x2="73.55" y2="580" stroke="#000" stroke-width="1.5"/>
<line x1="70.35" y1="566.2" x2="76.75" y2="566.2" stroke="#000" stroke-width="1.7"/>
<line x1="70.35" y1="580" x2="76.75" y2="580" stroke="#000" stroke-width="1.7"/>
<line x1="83.65" y1="574.2" x2="83.65" y2="589.7" stroke="#000" stroke-width="1.5"/>
<line x1="80.45" y1="574.2" x2="86.85000000000001" y2="574.2" stroke="#000" stroke-width="1.7"/>
<line x1="80.45" y1="589.7" x2="86.85000000000001" y2="589.7" stroke="#000" stroke-width="1.7"/>
<line x1="93.75" y1="581.8" x2="93.75" y2="597.3" stroke="#000" stroke-width="1.5"/>
<line x1="90.55" y1="581.8" x2="96.95" y2="581.8" stroke="#000" stroke-width="1.7"/>
<line x1="90.55" y1="597.3" x2="96.95" y2="597.3" stroke="#000" stroke-width="1.7"/>
<line x1="103.85" y1="587" x2="103.85" y2="596" stroke="#000" stroke-width="1.5"/>
<line x1="100.64999999999999" y1="587" x2="107.05" y2="587" stroke="#000" stroke-width="1.7"/>
<line x1="100.64999999999999" y1="596" x2="107.05" y2="596" stroke="#000" stroke-width="1.7"/>
<line x1="113.95" y1="589.2" x2="113.95" y2="600.3" stroke="#000" stroke-width="1.5"/>
<line x1="110.75" y1="589.2" x2="117.15" y2="589.2" stroke="#000" stroke-width="1.7"/>
<line x1="110.75" y1="600.3" x2="117.15" y2="600.3" stroke="#000" stroke-width="1.7"/>
<line x1="124.05" y1="589.2" x2="124.05" y2="603" stroke="#000" stroke-width="1.5"/>
<line x1="120.85" y1="589.2" x2="127.25" y2="589.2" stroke="#000" stroke-width="1.7"/>
<line x1="120.85" y1="603" x2="127.25" y2="603" stroke="#000" stroke-width="1.7"/>
<line x1="134.14999999999998" y1="593.8" x2="134.14999999999998" y2="605.4" stroke="#000" stroke-width="1.5"/>
<line x1="130.95" y1="593.8" x2="137.34999999999997" y2="593.8" stroke="#000" stroke-width="1.7"/>
<line x1="130.95" y1="605.4" x2="137.34999999999997" y2="605.4" stroke="#000" stroke-width="1.7"/>
<line x1="144.25" y1="596.2" x2="144.25" y2="612.3" stroke="#000" stroke-width="1.5"/>
<line x1="141.05" y1="596.2" x2="147.45" y2="596.2" stroke="#000" stroke-width="1.7"/>
<line x1="141.05" y1="612.3" x2="147.45" y2="612.3" stroke="#000" stroke-width="1.7"/>
<line x1="154.35" y1="598.5" x2="154.35" y2="614" stroke="#000" stroke-width="1.5"/>
<line x1="151.15" y1="598.5" x2="157.54999999999998" y2="598.5" stroke="#000" stroke-width="1.7"/>
<line x1="151.15" y1="614" x2="157.54999999999998" y2="614" stroke="#000" stroke-width="1.7"/>
<line x1="164.45" y1="596.6" x2="164.45" y2="613.5" stroke="#000" stroke-width="1.5"/>
<line x1="161.25" y1="596.6" x2="167.64999999999998" y2="596.6" stroke="#000" stroke-width="1.7"/>
<line x1="161.25" y1="613.5" x2="167.64999999999998" y2="613.5" stroke="#000" stroke-width="1.7"/>
<line x1="174.54999999999998" y1="601" x2="174.54999999999998" y2="614.6" stroke="#000" stroke-width="1.5"/>
<line x1="171.35" y1="601" x2="177.74999999999997" y2="601" stroke="#000" stroke-width="1.7"/>
<line x1="171.35" y1="614.6" x2="177.74999999999997" y2="614.6" stroke="#000" stroke-width="1.7"/>
<line x1="184.65" y1="599.6" x2="184.65" y2="614" stroke="#000" stroke-width="1.5"/>
<line x1="181.45000000000002" y1="599.6" x2="187.85" y2="599.6" stroke="#000" stroke-width="1.7"/>
<line x1="181.45000000000002" y1="614" x2="187.85" y2="614" stroke="#000" stroke-width="1.7"/>
<line x1="194.75" y1="600" x2="194.75" y2="614" stroke="#000" stroke-width="1.5"/>
<line x1="191.55" y1="600" x2="197.95" y2="600" stroke="#000" stroke-width="1.7"/>
<line x1="191.55" y1="614" x2="197.95" y2="614" stroke="#000" stroke-width="1.7"/>
<line x1="204.85" y1="599.5" x2="204.85" y2="614.5" stroke="#000" stroke-width="1.5"/>
<line x1="201.65" y1="599.5" x2="208.04999999999998" y2="599.5" stroke="#000" stroke-width="1.7"/>
<line x1="201.65" y1="614.5" x2="208.04999999999998" y2="614.5" stroke="#000" stroke-width="1.7"/>
<line x1="214.95" y1="598.5" x2="214.95" y2="614.5" stroke="#000" stroke-width="1.5"/>
<line x1="211.75" y1="598.5" x2="218.14999999999998" y2="598.5" stroke="#000" stroke-width="1.7"/>
<line x1="211.75" y1="614.5" x2="218.14999999999998" y2="614.5" stroke="#000" stroke-width="1.7"/>
<line x1="225.04999999999998" y1="602" x2="225.04999999999998" y2="614.5" stroke="#000" stroke-width="1.5"/>
<line x1="221.85" y1="602" x2="228.24999999999997" y2="602" stroke="#000" stroke-width="1.7"/>
<line x1="221.85" y1="614.5" x2="228.24999999999997" y2="614.5" stroke="#000" stroke-width="1.7"/>
<line x1="235.15" y1="602" x2="235.15" y2="614.5" stroke="#000" stroke-width="1.5"/>
<line x1="231.95000000000002" y1="602" x2="238.35" y2="602" stroke="#000" stroke-width="1.7"/>
<line x1="231.95000000000002" y1="614.5" x2="238.35" y2="614.5" stroke="#000" stroke-width="1.7"/>
<line x1="245.25" y1="602" x2="245.25" y2="614.6" stroke="#000" stroke-width="1.5"/>
<line x1="242.05" y1="602" x2="248.45" y2="602" stroke="#000" stroke-width="1.7"/>
<line x1="242.05" y1="614.6" x2="248.45" y2="614.6" stroke="#000" stroke-width="1.7"/>
<circle cx="43.25" cy="465.5" r="3.1" fill="none" stroke="#000" stroke-width="1.4"/>
<circle cx="53.35" cy="542.6" r="3.1" fill="none" stroke="#000" stroke-width="1.4"/>
<circle cx="63.45" cy="565.7" r="3.1" fill="none" stroke="#000" stroke-width="1.4"/>
<circle cx="73.55" cy="572.6" r="3.1" fill="none" stroke="#000" stroke-width="1.4"/>
<circle cx="83.65" cy="581.6" r="3.1" fill="none" stroke="#000" stroke-width="1.4"/>
<circle cx="93.75" cy="589.7" r="3.1" fill="none" stroke="#000" stroke-width="1.4"/>
<circle cx="103.85" cy="591.5" r="3.1" fill="none" stroke="#000" stroke-width="1.4"/>
<circle cx="113.95" cy="594.5" r="3.1" fill="none" stroke="#000" stroke-width="1.4"/>
<circle cx="124.05" cy="595.7" r="3.1" fill="none" stroke="#000" stroke-width="1.4"/>
<circle cx="134.14999999999998" cy="599.6" r="3.1" fill="none" stroke="#000" stroke-width="1.4"/>
<circle cx="144.25" cy="604.2" r="3.1" fill="none" stroke="#000" stroke-width="1.4"/>
<circle cx="154.35" cy="606" r="3.1" fill="none" stroke="#000" stroke-width="1.4"/>
<circle cx="164.45" cy="605" r="3.1" fill="none" stroke="#000" stroke-width="1.4"/>
<circle cx="174.54999999999998" cy="607.7" r="3.1" fill="none" stroke="#000" stroke-width="1.4"/>
<circle cx="184.65" cy="606.5" r="3.1" fill="none" stroke="#000" stroke-width="1.4"/>
<circle cx="194.75" cy="607.2" r="3.1" fill="none" stroke="#000" stroke-width="1.4"/>
<circle cx="204.85" cy="607.2" r="3.1" fill="none" stroke="#000" stroke-width="1.4"/>
<circle cx="214.95" cy="607.2" r="3.1" fill="none" stroke="#000" stroke-width="1.4"/>
<circle cx="225.04999999999998" cy="608.2" r="3.1" fill="none" stroke="#000" stroke-width="1.4"/>
<circle cx="235.15" cy="608.2" r="3.1" fill="none" stroke="#000" stroke-width="1.4"/>
<circle cx="245.25" cy="608.2" r="3.1" fill="none" stroke="#000" stroke-width="1.4"/>
<polyline points="43.25,465.5 53.35,518.8 63.45,530.4 73.55,541.2 83.65,546.5 93.75,548.8 103.85,555.8 113.95,558.8 124.05,560.4 134.14999999999998,562.2 144.25,563.8 154.35,563.5 164.45,563.8 174.54999999999998,562 184.65,560.4 194.75,557.6 204.85,560.4 214.95,561 225.04999999999998,558.8 235.15,559.7 245.25,559.7" fill="none" stroke="#000" stroke-width="1.5"/>
<line x1="53.35" y1="511.2" x2="53.35" y2="525.8" stroke="#000" stroke-width="1.5"/>
<line x1="50.15" y1="511.2" x2="56.550000000000004" y2="511.2" stroke="#000" stroke-width="1.7"/>
<line x1="50.15" y1="525.8" x2="56.550000000000004" y2="525.8" stroke="#000" stroke-width="1.7"/>
<line x1="63.45" y1="526.5" x2="63.45" y2="535" stroke="#000" stroke-width="1.5"/>
<line x1="60.25" y1="526.5" x2="66.65" y2="526.5" stroke="#000" stroke-width="1.7"/>
<line x1="60.25" y1="535" x2="66.65" y2="535" stroke="#000" stroke-width="1.7"/>
<line x1="73.55" y1="535.7" x2="73.55" y2="547.2" stroke="#000" stroke-width="1.5"/>
<line x1="70.35" y1="535.7" x2="76.75" y2="535.7" stroke="#000" stroke-width="1.7"/>
<line x1="70.35" y1="547.2" x2="76.75" y2="547.2" stroke="#000" stroke-width="1.7"/>
<line x1="83.65" y1="539.6" x2="83.65" y2="553.5" stroke="#000" stroke-width="1.5"/>
<line x1="80.45" y1="539.6" x2="86.85000000000001" y2="539.6" stroke="#000" stroke-width="1.7"/>
<line x1="80.45" y1="553.5" x2="86.85000000000001" y2="553.5" stroke="#000" stroke-width="1.7"/>
<line x1="93.75" y1="542.6" x2="93.75" y2="555" stroke="#000" stroke-width="1.5"/>
<line x1="90.55" y1="542.6" x2="96.95" y2="542.6" stroke="#000" stroke-width="1.7"/>
<line x1="90.55" y1="555" x2="96.95" y2="555" stroke="#000" stroke-width="1.7"/>
<line x1="103.85" y1="548.8" x2="103.85" y2="562" stroke="#000" stroke-width="1.5"/>
<line x1="100.64999999999999" y1="548.8" x2="107.05" y2="548.8" stroke="#000" stroke-width="1.7"/>
<line x1="100.64999999999999" y1="562" x2="107.05" y2="562" stroke="#000" stroke-width="1.7"/>
<line x1="113.95" y1="553.5" x2="113.95" y2="563.8" stroke="#000" stroke-width="1.5"/>
<line x1="110.75" y1="553.5" x2="117.15" y2="553.5" stroke="#000" stroke-width="1.7"/>
<line x1="110.75" y1="563.8" x2="117.15" y2="563.8" stroke="#000" stroke-width="1.7"/>
<line x1="124.05" y1="554.6" x2="124.05" y2="566.2" stroke="#000" stroke-width="1.5"/>
<line x1="120.85" y1="554.6" x2="127.25" y2="554.6" stroke="#000" stroke-width="1.7"/>
<line x1="120.85" y1="566.2" x2="127.25" y2="566.2" stroke="#000" stroke-width="1.7"/>
<line x1="134.14999999999998" y1="556.5" x2="134.14999999999998" y2="568" stroke="#000" stroke-width="1.5"/>
<line x1="130.95" y1="556.5" x2="137.34999999999997" y2="556.5" stroke="#000" stroke-width="1.7"/>
<line x1="130.95" y1="568" x2="137.34999999999997" y2="568" stroke="#000" stroke-width="1.7"/>
<line x1="144.25" y1="558.8" x2="144.25" y2="568.8" stroke="#000" stroke-width="1.5"/>
<line x1="141.05" y1="558.8" x2="147.45" y2="558.8" stroke="#000" stroke-width="1.7"/>
<line x1="141.05" y1="568.8" x2="147.45" y2="568.8" stroke="#000" stroke-width="1.7"/>
<line x1="154.35" y1="558.5" x2="154.35" y2="568.5" stroke="#000" stroke-width="1.5"/>
<line x1="151.15" y1="558.5" x2="157.54999999999998" y2="558.5" stroke="#000" stroke-width="1.7"/>
<line x1="151.15" y1="568.5" x2="157.54999999999998" y2="568.5" stroke="#000" stroke-width="1.7"/>
<line x1="164.45" y1="558" x2="164.45" y2="569.6" stroke="#000" stroke-width="1.5"/>
<line x1="161.25" y1="558" x2="167.64999999999998" y2="558" stroke="#000" stroke-width="1.7"/>
<line x1="161.25" y1="569.6" x2="167.64999999999998" y2="569.6" stroke="#000" stroke-width="1.7"/>
<line x1="174.54999999999998" y1="558.8" x2="174.54999999999998" y2="565" stroke="#000" stroke-width="1.5"/>
<line x1="171.35" y1="558.8" x2="177.74999999999997" y2="558.8" stroke="#000" stroke-width="1.7"/>
<line x1="171.35" y1="565" x2="177.74999999999997" y2="565" stroke="#000" stroke-width="1.7"/>
<line x1="214.95" y1="557" x2="214.95" y2="564.5" stroke="#000" stroke-width="1.5"/>
<line x1="211.75" y1="557" x2="218.14999999999998" y2="557" stroke="#000" stroke-width="1.7"/>
<line x1="211.75" y1="564.5" x2="218.14999999999998" y2="564.5" stroke="#000" stroke-width="1.7"/>
<circle cx="43.25" cy="465.5" r="3.1" fill="#000"/>
<circle cx="53.35" cy="518.8" r="3.1" fill="#000"/>
<circle cx="63.45" cy="530.4" r="3.1" fill="#000"/>
<circle cx="73.55" cy="541.2" r="3.1" fill="#000"/>
<circle cx="83.65" cy="546.5" r="3.1" fill="#000"/>
<circle cx="93.75" cy="548.8" r="3.1" fill="#000"/>
<circle cx="103.85" cy="555.8" r="3.1" fill="#000"/>
<circle cx="113.95" cy="558.8" r="3.1" fill="#000"/>
<circle cx="124.05" cy="560.4" r="3.1" fill="#000"/>
<circle cx="134.14999999999998" cy="562.2" r="3.1" fill="#000"/>
<circle cx="144.25" cy="563.8" r="3.1" fill="#000"/>
<circle cx="154.35" cy="563.5" r="3.1" fill="#000"/>
<circle cx="164.45" cy="563.8" r="3.1" fill="#000"/>
<circle cx="174.54999999999998" cy="562" r="3.1" fill="#000"/>
<circle cx="184.65" cy="560.4" r="3.1" fill="#000"/>
<circle cx="194.75" cy="557.6" r="3.1" fill="#000"/>
<circle cx="204.85" cy="560.4" r="3.1" fill="#000"/>
<circle cx="214.95" cy="561" r="3.1" fill="#000"/>
<circle cx="225.04999999999998" cy="558.8" r="3.1" fill="#000"/>
<circle cx="235.15" cy="559.7" r="3.1" fill="#000"/>
<circle cx="245.25" cy="559.7" r="3.1" fill="#000"/>
<line x1="94.2" y1="486.6" x2="108.8" y2="486.6" stroke="#000" stroke-width="1.5"/>
<circle cx="101.5" cy="486.6" r="2.9" fill="none" stroke="#000" stroke-width="1.4"/>
<line x1="94.2" y1="504.5" x2="108.8" y2="504.5" stroke="#000" stroke-width="1.5"/>
<circle cx="101.5" cy="504.5" r="3.1" fill="#000"/>
<text x="117" y="491.6" font-size="14.3" text-anchor="start" font-weight="normal" font-style="normal" >WT</text>
<text x="117.3" y="510.3" font-size="14" text-anchor="start" font-weight="normal" font-style="normal" ><tspan font-style="italic">Ip6k1</tspan><tspan font-style="italic" font-size="10.6" dy="-5.2" dx="1.2">-/-</tspan></text>
<text x="268" y="460.6" font-size="17.5" text-anchor="start" font-weight="bold" font-style="normal" >F</text>
<line x1="341.1" y1="476.5" x2="341.1" y2="633.5" stroke="#000" stroke-width="1.9"/>
<line x1="336.1" y1="632.5" x2="341.1" y2="632.5" stroke="#000" stroke-width="1.9"/>
<text x="334.7" y="636.9" font-size="12.6" text-anchor="end" font-weight="normal" font-style="normal" >0</text>
<line x1="336.1" y1="580.8333333333334" x2="341.1" y2="580.8333333333334" stroke="#000" stroke-width="1.9"/>
<text x="334.7" y="585.2333333333333" font-size="12.6" text-anchor="end" font-weight="normal" font-style="normal" >2000</text>
<line x1="336.1" y1="529.1666666666666" x2="341.1" y2="529.1666666666666" stroke="#000" stroke-width="1.9"/>
<text x="334.7" y="533.5666666666666" font-size="12.6" text-anchor="end" font-weight="normal" font-style="normal" >4000</text>
<line x1="336.1" y1="477.5" x2="341.1" y2="477.5" stroke="#000" stroke-width="1.9"/>
<text x="334.7" y="481.9" font-size="12.6" text-anchor="end" font-weight="normal" font-style="normal" >6000</text>
<line x1="340.1" y1="632.5" x2="518.5" y2="632.5" stroke="#000" stroke-width="2"/>
<rect x="348.5" y="616.5" width="27.99999999999998" height="16.000000000000046" fill="#fff" stroke="#000" stroke-width="2.4"/>
<rect x="391.6" y="613.3" width="31.099999999999966" height="19.200000000000045" fill="#000"/>
<rect x="437.0" y="535.0" width="29.1" height="97.50000000000004" fill="#fff" stroke="#000" stroke-width="2.4"/>
<rect x="480.2" y="523.2" width="31.19999999999999" height="109.29999999999995" fill="#000"/>
<line x1="362.9" y1="613.4" x2="362.9" y2="615.3" stroke="#000" stroke-width="2"/>
<line x1="354.7" y1="613.4" x2="371.09999999999997" y2="613.4" stroke="#000" stroke-width="2"/>
<line x1="407" y1="611.6" x2="407" y2="613.3" stroke="#000" stroke-width="2"/>
<line x1="398.8" y1="611.6" x2="415.2" y2="611.6" stroke="#000" stroke-width="2"/>
<line x1="451.4" y1="503" x2="451.4" y2="534.8" stroke="#000" stroke-width="2"/>
<line x1="443.2" y1="503" x2="459.59999999999997" y2="503" stroke="#000" stroke-width="2"/>
<line x1="495.8" y1="492.5" x2="495.8" y2="523.2" stroke="#000" stroke-width="2"/>
<line x1="487.8" y1="492.5" x2="503.8" y2="492.5" stroke="#000" stroke-width="2"/>
<polyline points="362.1,602 362.1,591.1 409.2,591.1 409.2,602" fill="none" stroke="#000" stroke-width="1.8"/>
<text x="388.8" y="590.2" font-size="13" text-anchor="middle" font-weight="normal" font-style="normal" >n.s.</text>
<polyline points="450,489.9 450,479.6 497.1,479.6 497.1,489.9" fill="none" stroke="#000" stroke-width="1.8"/>
<text x="473.6" y="477.7" font-size="12.5" text-anchor="middle" font-weight="normal" font-style="normal" >n.s.</text>
<rect x="349.7" y="476" width="25.5" height="9.5" fill="#fff" stroke="#000" stroke-width="2"/>
<rect x="348.7" y="492.9" width="27.5" height="13.4" fill="#000"/>
<text x="385.2" y="488" font-size="15" text-anchor="start" font-weight="normal" font-style="normal" >WT</text>
<text x="383.4" y="503.4" font-size="15.2" text-anchor="start" font-weight="normal" font-style="normal" ><tspan font-style="italic">Ip6k1</tspan><tspan font-style="italic" font-size="11.6" dy="-5.6" dx="1.2">-/-</tspan></text>
<text x="386.2" y="648.75" font-size="14.2" text-anchor="middle" font-weight="normal" font-style="normal" >Unstained</text>
<text x="476" y="648.75" font-size="14.2" text-anchor="middle" font-weight="normal" font-style="normal" >Stained</text>
<text x="0" y="0" font-size="14.2" text-anchor="middle" transform="translate(280.6,553.1) rotate(-90)"  textLength="115.5" lengthAdjust="spacingAndGlyphs">Serotonin content</text>
<text x="0" y="0" font-size="14.2" text-anchor="middle" transform="translate(298.9,553.5) rotate(-90)"  textLength="36.4" lengthAdjust="spacingAndGlyphs">(MFI)</text>
</svg>
</body></html>
